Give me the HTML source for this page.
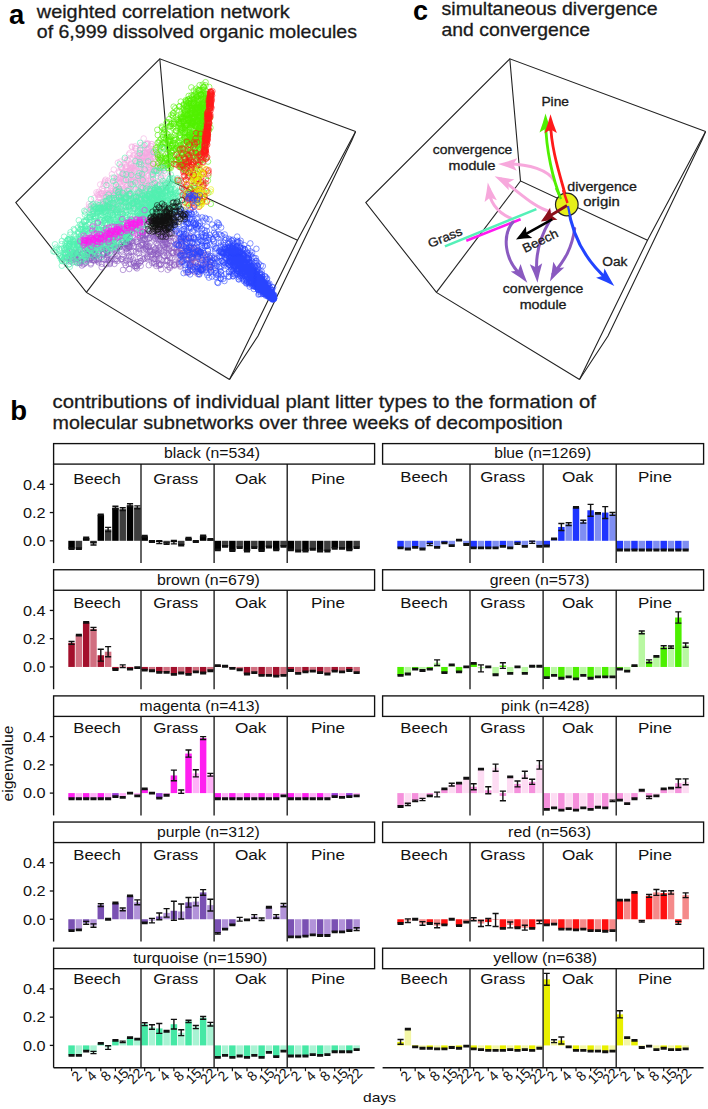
<!DOCTYPE html>
<html><head><meta charset="utf-8"><style>
html,body{margin:0;padding:0;background:#fff;width:708px;height:1109px;overflow:hidden;}
svg{display:block;font-family:"Liberation Sans", sans-serif;}
</style></head><body>
<svg width="708" height="1109" viewBox="0 0 708 1109" font-family='"Liberation Sans", sans-serif'>
<rect width="708" height="1109" fill="#fff"/>
<polyline points="229.5,379.5 86.4,292.4 15.8,202.6 159.8,58.8 355.6,131.6" fill="none" stroke="#222" stroke-width="1.1"/>
<polyline points="159.8,58.8 170.5,181.0 297.5,240.2" fill="none" stroke="#222" stroke-width="1.1"/>
<polyline points="170.5,181.0 86.4,292.4" fill="none" stroke="#222" stroke-width="1.1"/>
<polyline points="355.6,131.6 297.5,240.2 229.5,379.5" fill="none" stroke="#222" stroke-width="1.1"/>
<polyline points="355.6,131.6 352.0,140.0 258.0,336.0 229.5,379.5" fill="none" stroke="#222" stroke-width="1.1"/>
<defs>
<marker id="k0" markerWidth="8" markerHeight="8" refX="4" refY="4" markerUnits="userSpaceOnUse" orient="0" overflow="visible"><circle cx="4" cy="4" r="2.8" fill="none" stroke="#f5a8e0" stroke-width="0.8" stroke-opacity="0.7"/></marker>
<marker id="k1" markerWidth="8" markerHeight="8" refX="4" refY="4" markerUnits="userSpaceOnUse" orient="0" overflow="visible"><circle cx="4" cy="4" r="2.8" fill="none" stroke="#8a5ac0" stroke-width="0.8" stroke-opacity="0.7"/></marker>
<marker id="k2" markerWidth="8" markerHeight="8" refX="4" refY="4" markerUnits="userSpaceOnUse" orient="0" overflow="visible"><circle cx="4" cy="4" r="2.8" fill="none" stroke="#50f0b0" stroke-width="0.8" stroke-opacity="0.7"/></marker>
<marker id="k3" markerWidth="8" markerHeight="8" refX="4" refY="4" markerUnits="userSpaceOnUse" orient="0" overflow="visible"><circle cx="4" cy="4" r="2.8" fill="none" stroke="#2a44ff" stroke-width="0.8" stroke-opacity="0.7"/></marker>
<marker id="k4" markerWidth="8" markerHeight="8" refX="4" refY="4" markerUnits="userSpaceOnUse" orient="0" overflow="visible"><circle cx="4" cy="4" r="2.8" fill="none" stroke="#50f000" stroke-width="0.8" stroke-opacity="0.7"/></marker>
<marker id="k5" markerWidth="8" markerHeight="8" refX="4" refY="4" markerUnits="userSpaceOnUse" orient="0" overflow="visible"><circle cx="4" cy="4" r="2.8" fill="none" stroke="#ff1a1a" stroke-width="0.8" stroke-opacity="0.7"/></marker>
<marker id="k6" markerWidth="8" markerHeight="8" refX="4" refY="4" markerUnits="userSpaceOnUse" orient="0" overflow="visible"><circle cx="4" cy="4" r="2.8" fill="none" stroke="#e8f000" stroke-width="0.8" stroke-opacity="0.7"/></marker>
<marker id="k7" markerWidth="8" markerHeight="8" refX="4" refY="4" markerUnits="userSpaceOnUse" orient="0" overflow="visible"><circle cx="4" cy="4" r="2.8" fill="none" stroke="#ff1af0" stroke-width="0.8" stroke-opacity="0.7"/></marker>
<marker id="k8" markerWidth="8" markerHeight="8" refX="4" refY="4" markerUnits="userSpaceOnUse" orient="0" overflow="visible"><circle cx="4" cy="4" r="2.8" fill="none" stroke="#101010" stroke-width="0.8" stroke-opacity="0.7"/></marker>
</defs>
<path d="M124.7 179.5 127.8 185.4 138.2 198.5 147.9 143.3 138.6 185.1 117.7 200.4 124.0 188.6 152.5 192.9 148.7 167.4 161.3 174.1 150.2 161.3 147.2 152.6 103.7 195.6 110.9 206.3 160.4 191.0 147.5 165.3 103.5 185.7 158.3 173.1 104.2 206.2 89.4 213.2 104.8 198.3 101.7 192.9 129.2 200.2 161.4 155.7 118.6 203.8 141.7 183.0 120.6 201.6 146.5 185.6 118.3 186.7 121.5 194.7 133.0 166.4 143.9 165.3 124.8 202.6 137.6 172.6 110.5 190.6 153.5 189.7 113.0 190.8 154.5 167.2 134.2 180.4 165.1 173.4 141.1 185.6 152.9 158.5 133.8 170.0 139.2 155.4 142.8 156.0 138.6 175.2 118.4 196.6 162.5 194.3 133.7 207.9 160.6 172.5 141.3 196.0 109.9 204.1 126.6 202.1 156.8 167.1 129.4 195.6 151.2 144.1 113.7 198.0 129.4 189.1 162.7 175.6 107.3 190.4 152.6 183.0 105.6 200.8 129.0 154.6 159.9 180.3 130.7 175.0 134.6 168.9 125.4 166.8 138.8 166.6 126.6 173.8 139.1 175.8 154.3 153.0 156.0 168.6 157.3 154.5 152.9 169.7 119.9 189.8 122.7 194.8 128.9 177.0 86.8 209.6 126.9 171.3 143.2 203.4 145.7 171.2 140.6 200.3 138.5 176.3 106.5 201.4 155.3 166.7 141.8 192.9 142.3 148.4 137.8 191.3 137.5 162.2 132.2 168.7 142.6 195.0 135.1 196.0 103.2 204.4 147.3 144.0 91.1 209.4 158.3 170.3 137.6 184.7 94.4 198.0 151.9 144.1 89.3 206.5 127.4 204.8 132.3 147.2 119.6 189.0 133.1 167.8 148.7 161.4 147.5 186.9 137.8 179.2 146.3 161.5 134.9 148.0 128.1 187.8 146.7 201.1 150.9 183.6 146.5 161.0 111.9 174.3 124.4 170.1 130.3 173.5 148.9 150.0 143.7 191.6 113.8 193.5 147.9 178.5 159.8 170.1 118.7 171.5 151.4 176.6 101.6 193.5 133.1 180.5 146.1 144.3 96.4 192.4 99.4 194.8 124.8 175.3 160.9 166.9 128.8 188.9 111.4 210.6 150.6 154.8 133.9 205.8 103.4 190.9 98.6 197.7 151.0 180.3 153.1 163.4 90.8 205.9 127.0 185.1 141.4 158.1 114.9 194.2 150.4 171.7 102.7 195.7 140.5 148.2 163.8 181.0 150.1 170.1 149.2 155.0 97.8 202.1 121.0 194.7 154.8 187.6 140.3 156.8 148.4 154.3 115.4 181.5 117.3 190.0 147.5 163.3 144.4 163.6 141.3 193.6 154.5 184.0 156.0 171.1 145.7 200.8 122.4 190.2 141.0 184.5 115.3 188.7 128.3 193.9 101.3 193.6 116.7 179.6 145.2 206.0 137.8 156.0 129.4 195.5 119.7 178.6 93.8 204.3 137.4 155.6 154.7 187.0 109.3 207.9 151.5 153.9 136.7 159.2 116.7 182.6 129.6 153.1 131.0 164.0 143.0 150.4 120.9 167.5 138.6 195.1 113.8 169.6 123.1 180.5 144.6 181.3 129.9 170.4 127.2 160.3 135.3 204.7 98.8 191.8 110.9 205.5 151.5 166.4 102.4 203.9 148.2 160.3 141.1 145.0 143.6 156.6 136.6 199.8 157.0 185.0 159.5 191.9 120.5 178.4 134.0 165.7 145.9 161.6 101.6 204.6 118.6 198.1 128.2 189.6 143.8 177.5 142.2 177.5 146.9 151.6 122.2 191.6 129.2 189.5 120.4 176.8 89.0 204.1 150.6 159.6 135.4 181.6 154.9 197.8 126.6 194.9 124.2 194.3 155.6 152.4 147.3 195.0 124.5 159.5 135.9 148.4 157.3 181.1 114.2 203.8 154.3 156.2 141.2 167.2 117.0 204.6 161.3 162.6 90.7 207.5 142.0 155.8 106.4 193.0 154.7 159.3 133.4 198.1 100.2 184.5 154.7 156.9 122.5 169.8 112.0 177.7 120.0 177.9 141.9 179.8 132.0 176.0 157.1 184.9 119.0 180.4 134.0 186.5 109.9 198.2 143.5 157.7 122.1 186.1 133.1 199.6 112.2 207.6 146.2 188.7 123.9 182.5 146.1 180.8 150.4 179.4 149.3 167.0 141.1 167.9 130.5 167.5 154.2 199.6 139.7 157.8 139.3 168.9 110.1 192.9 127.9 176.8 137.9 195.0 142.0 178.4 159.4 158.9 136.4 163.3 158.8 163.7 99.6 202.8 153.5 170.2 137.5 191.1 121.2 198.7 113.6 197.3 129.3 194.6 119.9 194.2 161.5 167.7 130.3 158.7 136.2 201.2 160.3 165.1 145.2 152.9 141.5 154.4 100.6 207.3 120.9 211.9 141.9 157.3 162.8 166.0 135.7 166.5 137.5 201.3 130.0 184.4 139.9 170.9 133.4 181.6 133.4 170.9 144.4 155.7 123.5 208.0 157.6 185.3 150.7 177.3 155.6 196.1 123.4 177.8 111.2 188.1 149.2 180.3 149.2 194.1 149.0 152.6 113.1 197.7 157.3 196.2 133.3 158.5 142.4 175.0 160.2 185.6 144.0 169.0 117.7 200.7 124.3 211.1 107.7 207.7 142.4 172.3 144.6 184.0 120.2 212.5 138.6 159.1 155.6 160.0 137.6 182.9 114.8 190.3 121.4 167.2 146.4 182.7 167.1 165.9 119.6 195.0 147.1 150.1 135.7 198.2 146.5 198.0 132.2 181.7 127.3 160.0 131.3 172.7 157.0 151.4 122.7 179.6 97.9 195.2 107.0 205.8 93.6 208.8 141.4 202.9 124.4 206.5 143.4 161.3 121.7 167.6 130.0 170.5 148.5 175.7 113.8 185.0 133.6 185.5 128.3 194.9 151.3 169.3 115.0 193.0 150.6 168.5 153.0 188.1 129.8 206.4 141.9 164.2 148.5 169.8 123.4 173.5 148.3 149.2 140.3 180.7 105.6 206.6 132.5 204.1 117.9 162.7 122.2 192.8 130.8 180.0 150.9 165.0 141.5 161.6 136.3 161.1 113.0 193.3 157.0 173.5 144.6 152.8 130.7 181.4 150.8 146.2 135.1 146.3 144.9 165.6 109.0 200.0 128.5 160.8 159.0 148.6 134.4 176.5 153.6 161.4 115.3 199.6 118.4 191.7 132.0 171.8 94.3 207.0 142.5 146.4 153.4 196.6 126.5 166.2 141.4 170.7 128.1 180.0 119.2 188.3 130.6 187.4 149.1 189.5 147.5 198.4 151.5 171.9 104.8 182.2 140.5 178.4 149.0 168.3 107.1 204.9 144.9 185.8 146.8 200.3 128.9 194.3 108.1 201.9 115.8 210.2 159.2 191.7 109.3 208.4 129.5 178.3 113.4 193.7 133.3 155.4 124.4 181.5 101.8 208.0 148.4 169.9 100.0 193.8 99.9 197.8 132.1 167.8 154.0 183.8 124.4 163.7 149.4 152.1 142.6 157.0 164.9 163.3 108.1 180.8 130.1 167.9 105.6 179.7 126.5 186.2 152.1 153.7 103.7 205.0 124.0 179.9 126.8 167.0 158.3 197.3 139.7 193.2 150.9 151.6 108.5 206.7 109.2 193.7 164.0 188.2 157.2 166.6 135.7 149.0 156.5 190.6 135.4 177.5 147.2 153.7 140.8 179.5 114.2 205.7 166.4 184.0 132.7 176.7 128.8 172.7 117.8 177.3 119.4 172.7 120.9 186.5 149.9 156.6 149.1 147.6 107.5 189.9 146.6 184.3 143.4 174.0 128.9 195.9 144.3 185.8 122.1 189.3 101.1 202.3 117.7 208.4 140.9 174.8 120.4 161.6 107.6 196.7 152.6 177.0 118.0 186.6 135.1 189.9 97.3 194.0 115.9 191.8 146.0 158.3 104.8 207.0 116.3 178.8 145.7 186.0 132.3 179.5 147.6 158.0 105.1 180.8 156.4 192.5 126.9 172.3 116.1 195.8 142.5 187.9 117.2 189.4 149.3 196.4 143.7 138.5 102.2 188.8 154.1 156.9 118.2 197.2 96.6 211.7 123.7 197.9 146.3 152.9 108.0 193.1 130.1 182.8 110.2 208.0 138.1 192.9 107.7 182.7 110.7 184.2 151.5 174.1 154.3 192.0 139.3 177.8 123.3 173.7 149.3 186.6 140.6 187.4 123.4 175.0 161.5 179.4 155.9 177.6 131.7 146.6 118.1 193.3 158.6 191.5 126.4 163.3 142.3 158.1 111.6 208.6 138.5 155.9 151.0 146.0 150.0 151.5 131.9 166.5 136.6 154.4 160.9 189.5 157.3 190.3 135.6 165.3 117.3 178.9 163.9 168.6 134.6 208.6 124.3 194.6 105.6 194.8 120.4 198.1 151.3 193.8 156.8 168.4 154.3 183.4 130.8 170.3 125.9 168.7 135.0 155.0 154.6 184.7 114.0 194.1 144.2 191.3 159.5 199.9 120.1 182.6 136.9 204.2 147.1 143.9 112.8 186.6 142.5 153.1 130.7 165.1 107.4 210.7 139.3 158.0 144.8 172.6 141.5 175.8 147.3 188.1 133.6 200.6 142.1 190.6 129.6 196.2 107.1 193.9 104.1 183.5" fill="none" stroke="none" marker-start="url(#k0)" marker-mid="url(#k0)" marker-end="url(#k0)"/>
<path d="M159.3 258.4 101.9 248.3 133.7 246.2 167.3 236.9 152.2 263.1 198.4 250.7 201.7 263.2 94.1 247.6 84.6 263.5 165.3 246.6 152.6 254.5 99.0 259.5 205.4 259.4 203.1 264.5 88.2 251.0 99.4 254.2 174.4 264.4 167.3 261.0 187.0 248.5 121.8 235.4 78.9 257.6 184.5 250.7 122.4 259.0 116.6 259.0 189.4 259.7 121.1 259.1 79.3 262.9 122.1 236.0 101.7 267.2 116.6 251.3 126.9 239.9 159.0 265.6 185.9 255.4 156.2 242.9 198.0 257.1 76.7 253.7 128.1 234.9 199.4 267.4 133.7 261.7 139.2 246.2 168.6 249.1 127.3 248.1 183.7 239.2 178.3 252.4 139.8 237.6 166.4 234.1 150.9 254.3 192.3 249.0 179.3 264.2 98.1 252.9 126.5 249.0 131.1 256.7 151.1 235.2 208.3 266.1 120.6 244.5 190.9 246.2 97.6 259.6 91.4 238.1 106.6 250.6 185.5 234.6 110.3 244.7 196.4 251.6 109.9 245.7 98.6 262.4 122.5 254.5 162.7 243.2 107.8 241.8 131.0 251.8 179.9 253.1 178.2 246.1 197.5 258.2 139.0 253.3 172.6 252.6 89.8 256.6 135.0 265.9 174.6 265.6 74.3 259.0 199.4 272.0 105.6 259.7 121.7 250.6 209.8 267.3 93.5 239.9 156.9 243.6 94.4 260.3 99.5 233.7 209.3 268.9 174.3 262.4 140.7 261.0 213.2 268.6 190.9 264.6 174.3 265.0 66.1 261.3 164.5 255.7 163.1 228.7 185.6 251.4 166.3 252.8 123.1 240.8 128.8 257.3 153.4 259.4 161.3 225.4 166.4 249.4 158.2 254.1 192.4 255.8 195.2 262.6 122.0 239.3 111.1 248.2 123.0 269.9 92.0 252.3 104.7 249.7 142.6 232.6 185.7 259.4 195.8 261.8 180.7 265.5 83.7 251.1 142.5 239.8 72.6 259.9 106.7 258.7 197.9 274.1 76.8 254.7 176.2 251.8 186.7 250.5 165.0 229.4 110.1 261.5 141.2 245.5 114.4 263.9 152.5 231.5 157.7 255.4 98.1 238.4 133.4 251.4 146.8 233.3 167.6 234.1 176.9 244.4 201.3 269.3 113.3 238.6 161.8 232.2 129.2 269.0 99.4 245.5 145.4 246.2 169.2 240.8 108.3 255.0 186.4 272.3 89.6 260.1 72.5 262.4 80.4 257.9 154.3 252.5 89.0 251.0 160.8 264.8 190.3 263.7 181.0 249.1 214.4 258.2 107.0 257.2 86.9 254.7 188.8 259.1 181.6 254.4 128.6 231.1 195.7 254.6 188.3 251.5 206.3 255.4 149.0 245.7 103.2 253.5 103.8 259.4 149.8 237.9 158.9 241.4 83.4 264.3 208.2 259.2 156.2 256.4 146.0 235.2 174.6 238.5 143.2 249.4 164.0 252.5 85.5 243.8 104.1 253.5 90.8 264.4 105.0 238.1 140.0 233.1 156.0 248.3 133.9 263.0 156.5 250.6 118.6 243.5 172.5 253.1 173.4 252.8 167.2 255.2 172.5 246.7 86.5 252.2 162.6 234.7 160.8 250.7 76.3 252.8 180.5 260.5 148.8 238.7 67.0 257.3 127.3 245.8 158.1 245.0 145.5 247.0 128.6 263.7 126.4 244.6 149.8 252.0 188.8 240.7 113.8 249.4 195.9 252.6 97.5 244.9 93.3 248.2 152.0 233.7 139.9 262.7 153.9 261.7 143.1 237.8 75.5 254.3 181.6 251.1 128.7 247.7 182.4 238.0 82.9 253.8 130.9 263.8 178.6 250.9 164.9 241.9 124.7 262.9 140.1 232.7 121.5 237.6 167.3 244.0 78.0 252.2 174.2 234.1 163.5 229.1 97.9 261.2 137.3 262.2 88.5 250.0 157.8 251.3 196.2 246.9 187.5 259.8 160.7 237.1 155.0 249.4 167.7 269.8 127.7 244.2 178.4 257.8 129.4 246.3 186.1 245.7 105.9 249.0 200.7 269.8 207.8 254.1 91.3 252.1 137.0 268.4 67.6 252.1 173.6 252.5 101.6 249.2 168.5 229.1 90.1 258.8 143.6 240.0 117.0 255.7 138.0 264.3 153.9 262.8 166.3 234.6 119.8 247.1 90.3 248.5 110.0 263.0 199.6 255.1 151.2 232.8 128.6 246.9 84.9 261.4 128.4 246.1 111.7 238.1 108.6 260.6 166.7 232.6 108.2 237.4 181.3 237.4 137.7 238.5 146.6 245.6 149.8 237.6 143.0 259.3 84.8 258.2 77.2 262.6 180.9 253.8 199.3 251.4 163.1 234.1 122.6 260.4 91.1 251.4 163.5 236.7 156.1 254.5 121.3 245.2 129.9 238.8 193.4 249.9 153.6 249.9 186.9 252.0 191.7 262.9 88.4 251.2 103.2 237.0 160.7 264.1 130.0 246.9 133.1 259.5 72.6 257.6 81.9 265.5 159.3 257.7 176.6 233.6 192.6 257.4 189.5 264.3 89.0 242.2 86.8 259.1 209.5 268.5 177.3 253.5 129.8 244.7 147.5 259.1 164.4 249.7 115.4 260.4 70.6 258.7 103.7 253.3 157.4 253.8 142.2 243.1 132.7 242.6 104.0 259.5 92.8 250.3 211.6 265.2 158.3 234.8 165.6 243.3 143.0 244.1 181.5 248.2 139.9 258.0 114.7 259.0 80.4 261.5 143.7 229.2 180.3 255.9 128.9 240.8 93.4 253.5 114.7 232.0 156.3 266.0 156.6 237.0 142.6 233.4 142.4 236.5 171.0 228.1 87.7 240.3 146.8 258.2 158.2 239.4 195.9 262.9 106.8 252.7 146.7 239.6 75.2 256.8 118.9 242.7 140.3 236.0 135.9 267.4 180.9 241.5 91.5 249.5 101.7 247.2 199.6 256.8 150.0 256.8 89.6 254.2 91.0 258.2 131.3 226.8 73.4 253.5 144.4 250.5 126.3 260.7 187.7 272.4 193.6 257.8 155.4 263.9 201.6 263.4 161.7 260.2 149.9 243.4 169.0 266.8 148.8 265.2 178.9 263.6 75.9 256.4 91.6 245.6 164.0 233.5 174.7 233.3 125.9 243.9 78.2 259.3 158.9 252.4 85.8 249.3 96.1 259.7 107.1 252.9 170.6 232.4 142.6 234.9 147.3 256.4 115.4 235.0 125.8 265.2 100.9 245.4 130.9 241.6 94.1 254.4 104.3 232.9 86.0 241.9 190.3 266.8 115.8 247.4 96.4 246.7 79.6 249.6 181.1 243.1 162.2 239.2 157.4 235.8 183.5 260.9 177.0 252.5 198.7 268.6 88.5 244.4 209.3 264.9 102.0 263.8 129.1 255.8 140.7 265.8 106.0 264.4 147.4 231.0 180.7 259.4 111.1 258.8 72.0 252.0 180.1 262.4 166.6 261.3 91.0 249.2 205.3 265.8 128.6 253.3 121.7 240.5 159.5 248.0 164.3 255.6 182.2 244.5 109.9 264.0 171.0 241.1 156.0 235.5 158.6 249.6 94.0 257.1 76.5 253.2 204.6 255.2 95.3 253.5 134.5 266.1 183.8 237.8 157.7 234.9 122.8 240.5 166.7 248.0 104.6 244.9 181.5 256.4 115.1 250.4 90.3 255.9 190.6 236.5 200.0 267.3 164.2 244.5 174.3 248.0 96.5 259.4 111.7 245.3 184.8 256.6 107.0 242.1 144.4 258.5 166.7 265.1 67.2 258.3 192.9 263.3 165.6 260.6 171.6 251.4 126.3 236.7 110.4 255.1 190.6 249.6 175.9 240.4 123.2 247.4 125.3 248.0 206.8 262.5 137.3 253.4 85.9 255.2 179.2 238.7 180.4 266.6 116.3 249.2 145.1 238.9 138.4 246.5 168.5 255.6 96.2 255.2 207.4 259.4 80.1 263.2 153.4 237.5 129.8 240.9 129.4 241.5 190.5 262.8 102.1 237.1 182.2 251.0 203.1 270.3 165.5 241.6 164.3 246.6 195.2 252.2 162.1 232.2 160.6 237.3 107.2 250.7 158.9 263.9 161.8 231.7 81.0 257.1 152.1 251.5 155.6 259.1 187.8 248.2 168.2 238.0 138.6 248.8 99.0 258.3 129.8 259.9 81.0 260.6 115.9 253.2 135.8 251.9 150.1 251.1 127.0 251.4 107.3 251.8 124.1 232.9 194.8 272.1 166.7 243.8 123.0 256.8 190.0 264.2 144.9 230.2 136.0 241.5 146.4 243.9 104.7 239.1 127.7 243.6 101.7 241.2 156.4 227.8 171.7 265.4 149.9 249.9 198.7 253.4 94.8 253.2 112.4 246.2 159.8 229.1 143.5 252.6 201.5 252.1 195.1 262.5 157.3 230.9 156.0 239.1 191.1 237.6 148.4 246.4 141.9 244.9 132.2 241.0 70.7 260.9 108.5 239.6 173.4 241.3 165.8 238.0 136.3 239.5 151.2 251.5 192.1 271.0 140.8 261.2 162.4 240.0 171.7 258.4 93.7 260.4 145.0 234.1 203.6 260.4 102.7 254.1 169.7 237.6 123.2 233.0 185.1 240.3 88.0 253.0 162.3 228.6 165.2 231.5 137.2 241.8 154.3 259.1 144.6 239.4 181.2 241.8 115.0 237.6 167.8 260.3 177.7 243.2 102.8 245.6 184.0 255.3 163.0 245.1 191.3 257.7 161.1 269.2 168.8 247.7 80.4 250.0 114.7 241.2 101.4 237.5 169.8 258.2 160.2 239.2 145.7 248.6 108.8 241.8 193.9 248.3 201.7 267.4 167.4 232.7 178.7 244.9 88.9 258.3 105.8 237.7 93.6 246.3 143.4 235.9 176.6 247.2 91.3 252.6 136.6 265.8 169.9 262.7 107.7 250.1 192.7 269.7 146.5 249.8 212.4 260.1 113.2 244.1 119.3 247.1 95.7 250.4 92.3 260.1 205.9 264.0 170.1 245.8 191.5 259.5 89.6 244.9 169.9 267.8 108.7 232.9 136.6 266.0 202.9 256.9 136.2 247.4 207.3 260.4 195.0 248.1 189.2 237.6 147.7 257.1 164.8 239.8 87.9 248.8 91.5 243.9 157.4 236.2 174.7 259.4 103.1 252.1 84.8 259.8 117.4 261.0 153.1 236.2 85.7 262.6 190.6 256.9 188.3 271.8 112.4 240.3 90.8 263.2 148.0 247.1 132.0 232.5 134.3 263.4 166.1 239.5 160.1 264.6 190.3 247.2 86.7 247.9" fill="none" stroke="none" marker-start="url(#k1)" marker-mid="url(#k1)" marker-end="url(#k1)"/>
<path d="M87.2 217.5 145.9 223.7 121.7 200.6 148.4 196.0 82.6 245.1 94.0 237.6 77.3 263.2 168.2 206.4 127.9 231.7 73.9 244.1 180.7 191.6 112.3 223.5 82.9 242.3 85.4 229.0 102.4 239.8 84.3 210.9 80.4 244.6 78.4 231.9 119.8 206.7 168.8 210.1 148.3 185.7 103.8 221.2 106.3 212.3 101.0 245.6 75.9 249.5 81.2 260.6 115.7 220.1 68.8 261.0 124.6 199.6 60.5 256.3 75.4 261.9 116.3 212.5 117.6 213.3 128.9 191.3 90.6 248.1 148.6 220.9 119.6 202.8 120.5 219.4 94.1 251.4 61.9 241.0 77.1 245.8 105.7 247.1 171.7 207.3 104.6 211.4 124.6 234.5 165.8 192.7 84.1 221.0 111.8 233.9 144.8 210.0 125.2 196.6 95.4 216.3 85.4 239.8 93.9 212.5 126.2 201.9 114.3 221.7 69.8 240.6 119.1 220.5 179.6 196.1 137.4 204.4 177.3 178.3 172.8 209.5 81.5 235.1 140.9 232.4 110.0 214.6 61.4 257.6 121.7 230.4 79.7 236.7 139.9 220.1 154.4 190.2 172.6 179.6 134.2 228.4 133.2 202.4 109.3 216.2 110.8 243.6 100.6 219.5 145.0 196.9 136.2 196.5 159.2 213.5 137.2 219.0 79.5 245.5 120.3 221.5 80.0 224.5 67.9 239.6 117.4 219.7 143.8 210.0 126.0 236.1 112.8 213.5 150.4 216.4 143.7 224.3 75.2 250.6 156.2 194.7 158.6 212.8 78.0 227.5 128.1 222.0 129.0 229.2 171.5 210.7 116.4 233.3 152.1 198.3 130.0 221.8 121.7 242.8 153.7 199.6 116.0 228.6 120.8 213.9 96.1 229.9 168.4 207.8 127.4 238.7 85.1 255.5 150.2 210.3 64.5 257.6 165.2 202.7 147.1 194.3 175.1 199.1 161.7 193.6 119.5 228.9 152.8 196.2 115.0 200.1 125.9 198.4 152.9 214.6 106.7 238.6 136.3 197.0 155.0 206.2 88.1 247.0 127.7 200.5 89.9 249.7 112.7 226.6 69.1 264.4 132.5 202.5 170.5 181.6 82.1 227.0 155.4 194.7 169.9 190.4 154.1 190.7 64.1 248.2 113.1 218.6 111.9 236.9 151.0 198.1 83.5 233.5 108.0 218.9 65.2 249.9 97.7 244.9 137.7 226.9 85.4 212.3 178.9 205.1 97.3 211.8 122.9 224.5 119.1 224.6 113.9 195.5 165.0 216.0 104.5 208.0 111.8 228.1 94.8 253.7 118.1 224.2 151.9 199.4 168.1 200.4 90.5 219.9 119.9 208.7 163.7 213.9 152.7 223.6 99.0 229.9 85.6 230.1 129.3 205.4 78.0 261.2 109.7 232.1 131.1 226.7 142.9 218.6 158.2 211.9 112.4 214.8 74.6 230.2 162.7 198.8 102.3 234.9 158.8 191.1 138.2 221.5 91.1 250.4 110.9 212.2 172.9 197.2 121.2 235.8 141.8 193.4 94.2 232.8 93.0 204.2 115.5 223.9 122.9 193.2 112.0 243.8 80.5 242.2 118.0 206.2 114.8 246.4 133.5 209.0 171.2 202.3 155.3 202.3 130.2 215.9 93.4 210.3 123.3 232.6 170.8 188.5 76.4 239.5 166.3 187.2 102.3 232.7 150.2 190.9 150.6 191.4 84.7 231.3 124.3 221.4 160.7 191.2 96.3 244.6 100.0 242.3 108.6 206.6 169.4 179.0 160.4 214.2 138.1 215.5 89.8 218.2 112.8 231.0 123.1 214.1 78.8 220.3 83.2 228.8 149.9 213.4 144.5 216.0 121.4 200.1 115.2 245.9 81.4 255.2 123.6 195.8 134.8 229.2 117.0 223.8 72.5 253.3 154.0 212.9 90.5 216.9 103.4 217.3 129.4 228.8 127.8 223.2 109.8 240.2 169.2 180.8 66.5 254.2 96.8 208.1 137.3 200.7 127.4 230.8 137.5 227.6 101.0 237.9 94.5 228.4 87.0 230.9 73.6 245.0 123.8 240.5 118.9 226.7 160.6 201.3 90.9 243.8 106.4 249.5 138.7 198.1 121.9 226.7 116.2 210.2 152.9 193.2 70.0 256.0 97.9 209.2 121.0 196.8 65.6 252.3 175.9 207.8 69.2 238.7 105.1 242.8 165.4 191.9 102.0 237.1 138.2 229.8 109.0 236.1 64.5 261.0 103.4 212.8 64.6 249.7 94.2 206.0 110.1 203.8 129.8 193.8 98.5 208.6 113.3 215.2 101.5 220.3 132.7 216.1 81.7 229.1 95.5 245.7 150.7 213.2 109.7 232.0 155.7 215.5 96.6 233.3 154.3 203.6 155.3 216.3 81.4 238.7 171.0 190.1 151.4 216.7 69.9 243.8 116.3 197.8 142.4 224.1 101.7 208.9 83.8 221.8 160.3 204.7 175.6 209.0 159.3 190.6 176.6 205.3 120.2 227.6 109.4 204.3 113.8 198.4 182.0 200.2 66.3 249.4 81.7 242.7 105.4 214.6 81.2 225.9 105.9 200.8 159.9 202.6 169.8 193.9 82.2 255.9 171.5 209.3 129.9 200.4 122.4 192.5 72.7 259.1 148.9 210.1 127.1 237.5 72.7 247.1 124.2 233.1 153.4 197.6 131.5 224.7 112.7 215.2 86.0 220.7 86.4 256.6 155.2 209.2 156.9 200.6 93.8 250.5 130.7 232.1 163.4 210.3 133.6 203.6 141.1 229.3 139.7 198.6 142.3 217.5 161.1 195.1 178.9 180.4 157.1 187.2 65.5 259.4 112.3 234.7 102.9 223.1 99.0 250.0 131.4 201.0 171.3 213.2 78.1 245.2 130.4 232.4 82.0 245.4 129.2 194.0 69.7 246.0 93.0 240.8 61.8 265.7 158.7 195.6 129.9 231.0 167.3 200.5 113.4 242.9 129.1 220.3 125.5 227.8 170.3 208.1 151.6 208.2 84.0 253.9 120.7 201.1 174.7 193.9 183.3 194.6 108.7 234.2 93.7 251.4 95.2 230.6 111.2 240.1 85.6 245.8 92.7 228.9 98.9 244.9 62.1 261.1 77.1 244.8 172.7 194.1 88.4 251.6 152.4 194.2 155.2 218.4 102.4 215.2 109.3 198.3 92.4 225.6 100.9 214.7 89.1 217.2 176.6 203.3 155.2 202.8 144.0 193.2 117.7 238.3 64.6 252.9 154.5 199.6 91.1 242.7 93.5 219.0 116.3 207.0 54.7 251.6 138.9 221.4 117.2 241.9 97.7 229.6 149.9 216.4 97.6 213.2 108.8 246.4 149.5 198.0 98.0 234.5 130.0 210.5 101.1 243.4 167.1 189.5 102.9 202.3 115.0 212.2 68.0 239.5 81.1 235.0 119.1 233.9 66.1 253.2 136.6 225.9 133.8 198.5 77.7 233.5 120.5 226.9 122.7 218.5 141.5 219.0 176.2 196.0 100.9 209.0 88.8 233.0 109.7 252.9 172.8 178.3 154.3 198.2 93.4 232.7 98.9 230.7 93.6 224.7 118.5 191.7 153.9 206.0 142.2 217.6 64.1 236.7 105.7 230.2 93.0 216.4 108.2 208.8 107.1 235.3 118.1 241.2 91.1 239.9 116.6 203.8 139.5 214.1 99.4 229.3 94.6 207.3 118.3 229.4 110.4 219.6 173.5 192.4 55.0 244.3 105.3 240.2 87.6 234.5 185.8 188.1 119.5 212.4 99.8 204.9 68.5 243.9 74.2 235.5 106.7 222.4 118.1 209.4 131.5 219.5 172.7 211.0 145.7 219.3 163.7 214.0 172.9 196.9 152.9 200.7 150.9 203.2 126.0 206.2 136.7 229.3 109.3 220.2 71.5 253.5 85.7 230.8 179.0 180.6 95.7 218.1 167.2 215.6 56.6 249.9 124.2 241.5 128.5 209.7 87.1 254.2 70.6 251.7 89.6 224.7 141.1 215.9 157.1 215.6 104.4 230.2 110.0 220.5 106.5 207.2 117.8 248.4 119.8 227.9 64.9 253.9 94.8 226.7 142.3 208.5 64.5 258.6 141.1 204.1 155.1 204.9 65.2 243.3 145.1 195.0 128.8 207.0 137.0 201.3 158.3 206.9 167.3 216.4 127.4 230.7 118.0 226.7 68.5 240.5 152.7 210.2 121.5 208.7 108.2 235.9 156.0 205.8 151.1 198.6 134.7 226.9 109.8 221.7 74.0 254.2 112.7 204.7 126.7 228.9 150.6 209.7 146.0 229.0 177.0 202.3 139.7 221.4 186.3 196.2 76.1 251.6 167.7 198.7 70.1 238.8 104.2 220.5 162.5 215.6 107.2 205.9 108.8 207.6 127.2 237.5 138.9 206.0 69.1 264.2 183.7 195.6 119.9 214.5 152.0 204.2 118.7 217.3 129.0 203.0 140.3 227.5 80.7 240.3 113.0 215.0 86.2 226.0 99.3 236.3 167.1 219.1 122.9 214.1 70.2 234.7 121.3 206.4 90.2 228.3 101.7 225.1 69.8 250.7 131.1 229.2 97.4 220.9 147.9 212.0 61.6 244.1 68.8 255.2 99.8 207.9 101.2 229.9 90.5 209.6 178.4 191.0 107.0 250.1 113.7 241.2 143.5 207.2 88.3 223.8 165.3 215.3 97.7 207.3 126.7 197.3 79.7 250.5 91.7 255.0 158.5 195.8 106.8 244.8 85.0 225.4 174.0 206.2 94.5 221.2 111.9 199.9 124.6 227.0 94.6 219.1 166.5 193.0 93.2 207.4 121.7 243.1 105.2 209.8 111.5 212.9 60.8 258.6 97.2 222.8 167.1 210.1 107.2 218.3 106.3 197.1 65.4 254.9 109.3 198.6 78.1 243.7 166.9 208.3 117.8 230.2 133.6 222.0 105.6 229.5 97.9 211.3 157.4 200.3 73.7 255.5 161.7 196.0 177.5 201.6 110.0 246.9 77.0 242.3 73.4 242.3 101.6 226.6 172.5 201.1 96.7 213.5 117.4 209.7 107.6 204.1 74.3 261.6 150.6 195.1 180.3 187.4 106.8 228.5 131.4 200.2 79.5 245.2 172.6 184.3 106.0 240.2 170.3 194.1 114.0 203.7 169.4 204.7 126.1 199.3 80.3 229.6 148.2 208.7 161.6 218.9 180.3 208.8 122.2 213.8 105.8 238.9 161.5 215.8 110.1 240.7 89.9 217.0 164.8 210.1 131.5 221.4 117.1 234.1 79.3 252.9 126.4 218.1 170.2 178.3 114.0 197.9 81.8 224.5 150.5 202.6 74.4 245.6 170.0 188.4 154.1 210.0 95.0 228.2 162.9 193.2 131.3 206.2 161.2 200.9 126.3 197.5 133.7 220.9 161.3 191.1 92.6 211.3 111.4 238.4 100.9 248.7 90.4 242.3 93.0 214.0 157.2 195.0 125.1 202.3 111.4 239.3 100.2 210.8 75.2 253.1 151.9 203.6 167.3 187.2 99.2 207.9 69.8 266.8 117.4 221.7 90.7 240.9 126.0 212.1 92.3 230.5 99.5 211.1 144.8 194.6 165.3 201.6 108.3 219.2 104.9 223.3 159.8 216.1 112.9 202.6 181.7 200.5 75.5 241.2 107.1 218.6 86.6 234.9 126.5 210.3 142.4 195.5 154.3 210.5 137.3 222.8 124.7 202.4 165.4 215.1 118.6 235.3 107.3 242.0 72.1 245.3 170.7 193.7 117.3 224.1 174.5 191.4 106.6 216.1 123.7 221.8 99.1 226.8 122.7 234.3 114.6 237.3 102.6 230.3 141.8 203.5 123.3 205.7 69.2 259.0 68.6 258.0 84.7 256.0 124.0 225.4 59.4 250.2 108.6 219.3 155.9 212.1 73.0 241.1 132.6 225.1 70.6 257.2 141.2 215.8 128.1 219.6 63.1 255.0 95.2 216.7 101.0 207.8 124.3 198.5 99.6 239.0 124.8 217.7 143.0 219.6 88.7 248.7 101.1 257.3 147.4 200.8 70.5 254.1 90.3 215.1 84.6 236.2 95.2 247.7 138.4 225.8 66.8 248.3 173.1 194.8 154.4 207.8 53.4 251.3 110.9 220.4 69.0 249.9 112.8 235.1 170.6 202.7 132.7 233.1 111.6 243.9 174.8 190.0 134.2 207.7 176.8 207.2 56.2 247.6 111.8 247.4 185.6 194.0 128.8 206.5 158.1 210.7 115.0 213.9 114.8 229.6 100.2 220.2 81.2 238.4 130.7 215.2 165.1 182.8 157.0 213.6 159.3 190.8 80.9 255.3 82.7 258.8 127.5 190.8 165.9 189.3 179.0 198.8 133.3 198.5 166.5 202.8 85.0 221.9 171.1 200.6 101.4 210.9 85.5 258.2 102.0 253.0 124.1 234.5 101.3 244.0 158.9 215.7 68.5 246.1 105.1 211.9 165.8 184.9 120.9 226.7 171.7 206.6 140.2 193.9 73.9 252.1 176.9 201.9 106.9 240.3 127.9 235.6 170.0 205.0 130.8 193.4 144.7 216.8 119.5 190.9 113.9 231.1 69.0 255.7 94.4 256.8 126.4 216.9 165.9 186.4 108.3 210.4 179.3 210.3 125.9 203.5 125.9 241.9 89.3 232.5 70.9 242.0 87.9 243.9 105.1 205.7 62.2 257.3 86.7 220.3 106.4 210.8 65.9 246.7 152.2 193.1 129.7 193.5 77.5 243.9 176.6 192.7 103.5 240.8 74.8 252.7 151.3 216.5 67.1 243.5 96.6 248.0 129.2 236.7 106.6 230.0 77.5 257.6 143.4 220.7 154.8 192.4 66.0 245.9 139.2 191.5 170.6 202.7 118.9 188.8 143.0 208.6 68.8 246.1 100.5 221.9 99.6 212.2 118.6 200.8 116.8 240.4 100.1 241.0 133.2 206.3 130.5 231.0 104.8 208.5 107.5 230.3 169.4 196.7 117.8 226.9 77.6 253.3 97.1 247.1 115.5 226.0 114.2 209.6 164.7 184.6 98.5 241.0 137.4 222.7 95.6 209.6 138.0 211.0 105.8 244.6 129.4 237.5 90.6 250.6 135.2 227.7 166.5 209.1 116.6 212.1 111.9 198.2 147.4 195.9 87.8 231.1 100.5 238.4 99.9 211.8 171.6 181.2 166.4 211.2 162.9 205.2 148.5 203.6 153.8 221.7 90.3 249.3 60.3 255.4 91.8 214.2 111.9 208.2 74.2 247.6 84.9 256.7 121.9 200.7 165.9 190.1 149.9 196.5 182.5 186.4 87.1 229.2 79.3 246.9 107.5 218.2 135.2 208.8 59.3 248.9 97.9 236.9 74.3 241.8 116.1 235.1 167.5 190.9 78.1 246.3 179.8 191.9 134.1 196.5 72.3 239.5 174.0 184.1 122.3 210.4 163.1 216.6 117.6 214.7 84.9 214.7 136.1 197.8 167.9 200.4 134.9 201.7 125.9 234.2 107.0 242.7 107.9 230.5 168.3 186.4 107.5 206.9 96.3 218.3 134.4 216.9 107.1 240.2 142.6 218.7 126.2 226.3 84.8 227.5 106.4 236.9 82.7 248.5 126.4 233.5 89.3 247.1 97.9 248.1 132.2 231.3 82.0 241.7 106.7 201.0 148.4 214.3 128.1 206.6 95.1 242.2 137.5 192.4 96.8 238.9 109.9 206.6 70.5 232.3 62.0 260.5 156.1 213.7 157.9 210.6 147.5 204.9 61.9 248.4 73.8 229.1 106.3 229.4 129.3 208.9 80.6 229.1 105.4 219.7 179.0 199.8 80.1 253.7 125.8 238.6 108.1 200.3 173.9 195.7 59.5 256.3 146.0 221.4 144.1 198.6 100.1 240.0 171.7 183.7 99.3 246.4 155.3 187.7 147.1 196.1 89.1 240.0 112.7 206.2 73.6 253.8 129.9 237.0 66.5 241.1 142.6 223.7 71.3 246.9 149.9 208.8 121.3 217.3 74.9 239.2 95.7 208.6 130.7 194.0 108.2 206.8 106.4 224.4 111.1 248.4 97.4 254.9 95.7 241.8 125.6 197.8 154.6 193.9 119.0 197.3 85.6 261.2 159.9 184.3 103.4 209.0 93.9 234.9 105.5 219.5 144.3 213.4 157.5 209.6 164.9 192.5 75.9 236.3 112.5 226.0 110.5 233.4 100.3 238.1 104.1 212.0 102.7 228.0 155.0 220.0 170.1 211.0 152.1 207.1 142.7 215.7 115.2 235.5 104.3 207.5 96.4 204.2 168.1 195.3 133.0 199.8 113.1 203.5 131.7 227.9 87.6 237.8 118.9 222.5 103.5 204.0 84.2 231.3 153.7 199.7 145.4 203.5 79.5 246.3 87.2 253.9 73.9 244.1 88.0 247.7 126.3 210.6 69.8 243.8 70.3 250.5 100.7 213.5 170.8 174.5 77.4 243.0 79.7 238.9 80.3 252.2 103.3 235.5 78.9 233.7 87.0 251.8 153.7 190.3 82.7 232.3 138.3 193.3 101.8 225.6 113.8 206.5 113.9 246.8 148.7 202.0 109.7 222.8 67.9 246.7 86.8 243.6 139.9 208.9 162.8 180.9 170.5 189.7" fill="none" stroke="none" marker-start="url(#k2)" marker-mid="url(#k2)" marker-end="url(#k2)"/>
<path d="M156.6 206.0 145.8 205.1 163.8 215.0 165.0 195.7 162.3 188.8 156.7 211.4 149.1 210.0 159.7 197.1 151.8 185.0 150.4 207.5 139.2 203.2 148.2 207.0 150.3 205.3 116.3 221.1 157.2 204.2 162.3 206.0 171.3 191.9 192.8 185.7 145.8 197.7 154.0 212.6 170.9 197.3 144.7 214.2 134.2 203.1 165.2 191.3 162.9 191.3 149.0 196.5 165.2 208.3 149.4 202.5 133.7 202.9 161.7 193.8 142.2 216.2 149.0 208.2 139.8 214.2 132.6 216.1 151.6 209.3 139.3 211.9 194.7 188.1 126.2 207.1 160.8 195.7 150.2 207.7 152.3 209.7 141.5 215.3 161.7 189.6 138.0 205.8 163.6 185.0 141.6 199.0 155.1 207.7 158.6 192.1 145.5 218.7 153.0 205.1 127.2 215.1 121.0 221.0 155.1 206.5 152.5 211.7 162.0 196.9 163.2 209.9 166.5 183.4 163.4 208.7 156.1 193.1 153.2 203.3 151.7 203.8 136.6 211.4 156.1 208.1 162.6 198.7 151.6 199.0 150.1 205.5 139.8 219.5 147.6 221.1 165.5 196.3 155.6 202.8 145.5 191.6 144.6 198.6 156.7 200.8 141.9 214.1 162.6 197.4 136.8 218.1 164.6 201.0 171.3 186.6 140.9 214.1 140.1 213.2 152.7 210.0 156.3 201.7 140.0 205.0 158.0 202.5 149.2 204.9 147.3 214.4 147.8 213.6 167.4 196.3 149.5 208.4 133.2 203.0 165.6 198.4 154.0 213.3 149.7 194.1 147.6 202.6 158.3 194.8 152.1 210.8 142.5 207.3 162.4 201.2 155.0 200.5 138.0 212.9 158.8 189.3 151.4 208.8 153.2 203.9 162.5 209.8 141.3 206.1 156.6 194.4 151.1 222.9 158.4 190.8 154.2 209.2 166.7 202.2 139.2 206.6 160.7 199.6 144.0 212.9 150.8 197.1 144.7 210.1 159.2 201.4 135.9 197.0 137.1 202.0 145.3 199.2 148.9 194.2 157.6 211.6 144.6 200.0 159.5 215.4 141.4 200.0 163.1 197.3 132.8 209.3 157.1 189.9 146.1 217.4 140.3 199.8 152.9 212.3 136.1 222.0 154.2 206.2 156.4 200.5 129.8 216.3 164.4 214.2 140.3 201.7 154.9 192.7 143.7 202.9 141.6 206.8 143.1 196.0 143.5 213.4 146.0 199.0 146.8 213.2 146.2 188.5 163.5 204.2 147.6 210.6 163.0 217.1 135.7 189.0 152.0 204.7 120.9 220.2 157.8 202.5 145.6 203.0 147.9 211.5 160.9 198.9 141.7 208.5 137.8 211.2 159.2 197.9 151.8 189.3 175.9 193.2 141.4 208.6 137.3 212.4 145.9 218.7 160.0 203.0 142.0 202.5 146.2 218.2 137.1 214.0 145.7 207.6 158.5 206.8" fill="none" stroke="none" marker-start="url(#k2)" marker-mid="url(#k2)" marker-end="url(#k2)"/>
<path d="M172.5 224.9 203.4 220.8 170.8 228.2 176.5 214.5 218.9 225.0 233.1 256.3 183.3 219.3 202.8 242.5 195.9 223.5 190.0 242.4 192.2 256.6 189.7 217.3 201.2 270.0 206.2 267.4 223.2 252.6 187.6 217.6 183.7 246.3 192.1 253.8 235.8 259.0 185.7 238.8 200.0 252.4 237.8 249.4 216.4 261.6 190.1 274.4 204.6 246.0 189.2 247.7 183.1 213.2 206.8 231.0 226.5 251.6 201.7 229.0 186.5 221.9 200.2 226.3 207.2 245.7 186.9 231.4 220.8 242.2 199.0 252.5 218.6 274.1 240.4 265.0 232.6 251.8 192.8 242.1 215.3 251.5 183.8 233.7 175.4 227.0 212.2 224.6 187.6 222.9 197.7 255.8 202.3 260.2 216.3 273.0 193.7 247.9 183.2 229.4 203.9 253.0 198.3 228.8 182.7 252.9 210.2 266.7 212.5 239.1 214.5 262.9 218.5 223.4 211.7 256.5 223.1 262.6 218.1 283.0 196.2 271.1 198.2 264.2 201.7 244.7 199.8 268.1 198.0 268.7 214.4 228.1 178.8 245.2 196.8 243.0 232.9 276.3 186.7 243.3 215.1 235.0 194.4 224.7 210.1 262.1 200.9 252.1 195.0 225.0 198.3 242.0 224.4 281.0 232.9 246.9 215.7 248.0 221.7 252.3 193.7 229.6 192.9 266.8 224.6 260.2 228.6 240.7 213.4 245.7 224.1 265.4 181.0 238.8 174.4 222.2 233.3 270.0 207.4 275.1 209.4 273.0 201.6 233.4 182.9 258.5 178.4 224.0 175.6 244.6 198.2 217.4 219.0 234.2 196.5 218.4 214.7 264.2 193.1 251.9 195.5 269.0 221.8 260.9 216.4 236.7 196.6 266.2 181.5 230.5 189.2 228.0 181.2 255.4 190.5 209.8 181.4 245.2 241.3 257.7 225.7 263.4 220.5 251.9 220.6 234.8 215.1 249.1 225.2 249.1 201.1 241.0 202.4 248.2 210.7 266.9 206.4 219.2 205.0 233.1 189.6 265.3 205.4 246.1 237.3 240.8 205.8 260.1 201.3 269.9 209.7 234.8 229.0 276.8 196.6 227.4 193.8 237.1 223.4 245.3 179.9 233.8 175.9 212.7 199.2 273.8 216.3 274.5 178.7 232.8 206.2 235.5 187.1 239.6 240.5 257.8 183.3 236.6 188.5 238.2 186.7 214.3 228.6 276.2 194.0 211.9 220.8 271.4 200.5 251.8 186.7 263.4 188.6 237.5 236.3 268.7 192.3 253.8 208.0 251.2 229.9 242.3 210.2 255.9 213.2 239.2 212.4 261.6 201.8 246.2 171.6 226.8 236.5 254.6 188.8 250.1 224.2 249.3 175.7 231.4 221.4 275.0 181.4 237.1 190.1 219.2 221.3 251.7 205.4 262.5 207.8 249.8 201.3 258.4 193.1 222.8 199.3 274.5 188.2 272.5 189.0 212.7 213.5 258.1 191.3 248.0 234.5 255.9 201.0 269.5 243.3 257.0 209.2 264.4 203.1 265.3 186.6 219.5 180.3 209.0 218.0 275.5 221.0 278.7 220.1 256.4 205.3 217.9 187.2 259.5 219.3 255.9 230.5 249.7 176.9 230.7 193.5 237.5 216.4 226.8 210.9 262.3 184.1 254.8 190.3 209.6 225.7 237.7 216.6 247.9 227.4 251.5 174.9 225.2 233.1 254.8 209.6 219.3 186.8 248.4 217.4 222.5 176.1 217.2 197.4 267.5 220.4 278.1 190.3 266.1 217.0 265.8 238.5 253.3 216.8 258.2 197.5 254.0 184.1 231.4 183.6 273.1 178.8 245.6 208.3 240.1 189.8 270.3 239.3 257.1 188.0 269.7 188.0 223.3 205.5 241.5 192.2 243.2 184.7 212.4 181.3 240.1 211.4 270.3 189.5 252.4 246.4 262.7 186.3 234.4 212.0 276.6 239.8 252.7 206.7 243.3 188.3 213.9 215.0 267.9 191.8 219.1 196.6 250.5 195.2 239.5 206.5 257.1 200.0 223.3 234.5 274.6 192.5 269.5 185.9 222.4 238.4 255.3 214.0 232.7 175.4 220.8 230.2 262.4 208.9 277.6 220.8 245.6 193.2 222.7 189.4 215.2 204.6 230.1 196.6 228.4 183.7 236.5 201.7 270.8 195.8 214.4 205.4 263.7 220.3 268.5 191.4 213.4 198.2 225.3 218.5 261.7 193.9 238.0 218.8 242.8 211.0 271.9 196.1 223.8 182.6 255.8 186.4 242.2 185.6 269.6 192.7 231.2 210.2 244.6 197.8 256.8 189.3 247.5 209.2 257.1 180.6 212.3 188.9 255.2 223.5 242.6 177.5 217.2 202.9 269.5 205.8 236.3 181.5 262.2 220.6 271.7 197.6 234.7 216.0 270.7 198.6 251.0 214.0 241.6 183.1 237.4 206.4 272.5 194.2 221.2 191.2 238.6 176.6 244.5 190.8 228.4 186.7 250.9 206.2 237.7 200.8 236.8 210.1 258.2 225.3 240.0 198.5 271.3 208.9 237.4 236.6 247.5 243.6 264.7 219.1 267.4 200.0 253.9 201.8 235.5 233.6 265.5 199.6 239.8 205.3 269.6 239.1 252.8 242.9 250.2 202.1 217.4 182.4 241.4 234.4 273.4 198.4 226.2 200.6 252.5 224.7 234.5 180.3 255.2 187.7 249.6 184.1 229.1 234.7 248.5 230.5 248.7 198.0 250.0 184.3 225.5 198.3 237.1 221.1 227.5 215.8 234.2 206.7 226.6 227.3 266.2 191.0 227.0 191.6 257.9 228.8 272.0 238.6 271.4 184.9 217.4 186.6 224.2 226.1 273.8 236.1 249.8 219.0 251.0 180.2 239.1 215.2 259.4 230.6 259.3 185.0 265.1 189.1 223.8 202.1 240.5 194.5 244.0 190.3 255.0 210.6 270.4 215.7 276.9 228.4 243.2 209.3 238.3 182.4 261.7 242.0 269.3 185.5 248.6 217.3 282.4 222.2 236.0 194.3 253.7 206.9 245.8 229.1 238.9 203.5 236.8 197.5 271.9 223.1 278.9 185.7 247.1 220.9 266.6 188.4 263.2 192.0 214.2 202.9 268.5 185.0 214.5 197.5 251.4 184.0 210.5 202.6 255.1 233.1 276.0 201.5 268.7" fill="none" stroke="none" marker-start="url(#k3)" marker-mid="url(#k3)" marker-end="url(#k3)"/>
<path d="M254.6 265.7 271.1 294.0 249.3 271.9 253.8 289.0 250.9 282.9 227.4 247.4 240.5 243.2 268.7 295.4 271.0 294.0 251.1 265.7 243.1 253.7 251.8 271.2 268.6 293.7 272.1 287.1 250.4 282.9 255.7 258.1 240.2 247.4 259.1 287.3 267.0 289.5 244.8 264.4 234.8 268.6 233.7 267.5 257.5 284.7 268.6 292.5 260.5 281.6 242.4 273.2 240.1 275.8 270.5 295.2 245.6 280.1 248.4 262.4 240.5 260.7 261.1 289.7 256.9 285.9 271.3 297.7 232.5 261.1 237.2 265.6 254.5 283.6 231.3 269.6 223.6 253.6 260.2 282.1 263.2 293.8 252.4 270.0 257.9 286.4 262.2 289.0 259.9 288.9 255.3 279.1 264.7 287.6 250.3 273.1 272.9 296.9 259.5 284.5 271.5 297.1 241.1 268.1 265.2 290.3 242.4 271.4 255.1 274.8 266.6 295.3 273.1 296.7 250.7 274.3 242.2 268.2 252.5 275.0 235.4 261.0 250.8 281.6 273.4 297.5 258.4 284.7 233.3 248.3 262.2 282.5 265.5 282.7 225.2 257.5 269.1 290.3 258.5 294.6 250.3 243.4 273.4 298.6 244.5 267.8 242.7 267.2 240.4 258.2 265.1 287.4 250.4 281.1 251.2 268.0 236.8 270.6 259.8 275.0 239.1 259.7 262.9 286.6 265.3 284.3 221.7 253.3 257.9 280.5 271.8 295.8 241.4 275.2 268.6 288.5 237.6 269.1 272.0 297.5 249.8 262.2 236.5 258.7 268.3 289.4 263.3 284.3 244.9 249.2 241.7 264.3 242.6 273.9 267.5 291.1 264.2 288.9 239.7 252.1 268.9 291.5 235.3 266.9 272.8 299.0 273.9 299.1 258.1 279.3 243.8 279.8 252.6 277.1 245.9 262.3 235.1 249.1 254.1 273.0 266.2 290.7 271.1 295.5 260.3 288.8 250.6 280.5 269.4 293.5 258.2 289.8 235.8 251.8 254.9 277.0 229.3 247.2 251.1 277.8 266.2 288.4 231.9 248.9 223.0 253.1 259.1 277.5 232.5 271.6 252.2 261.4 249.2 265.6 235.2 252.6 251.1 275.9 270.8 296.1 266.4 292.6 256.0 286.9 270.3 288.3 236.3 250.5 240.0 255.6 242.2 260.8 264.3 287.8 257.0 274.8 237.2 236.6 267.7 294.2 232.7 246.6 237.2 255.2 271.0 296.1 258.4 280.0 255.1 284.9 247.0 268.7 238.0 250.7 255.9 280.6 244.1 281.2 258.4 287.0 241.0 259.8 262.5 287.8 244.8 272.3 255.5 273.7 243.4 271.1 271.0 296.6 241.8 264.6 252.3 270.5 256.0 279.1 249.9 269.3 239.0 263.9 244.2 245.2 263.2 285.9 233.1 258.7 255.2 282.8 228.4 249.5 274.0 298.4 240.0 273.0 257.1 287.3 234.4 267.6 244.7 263.3 264.2 279.6 254.3 279.1 234.6 261.8 233.4 254.5 265.4 292.4 256.4 280.7 230.8 258.1 268.3 284.8 263.7 282.6 255.7 274.8 224.9 247.0 260.8 279.1 238.5 268.9 238.2 256.6 256.8 282.4 252.2 281.3 252.7 271.4 260.8 265.5 260.8 284.5 247.4 258.5 243.4 271.4 273.2 295.7 257.6 287.7 231.7 256.2 258.1 287.4 248.3 269.3 230.4 261.8 245.2 269.2 250.8 271.2 245.8 275.9 260.4 286.5 253.5 280.7 266.5 289.6 235.6 254.7 267.9 291.8 271.8 296.4 236.9 259.6 246.5 283.0 269.8 291.7 239.1 258.7 236.0 246.7 267.1 278.4 241.5 277.8 247.6 265.4 250.1 274.6 272.4 299.0 241.4 254.0 245.8 265.5 238.2 261.6 271.6 294.2 235.9 257.8 262.0 288.5 248.7 269.9 262.2 286.0 259.4 281.1 227.3 263.4 237.2 265.1 243.2 270.6 234.8 266.3 272.4 298.2 229.5 264.3 272.3 294.9 270.3 293.0 267.1 293.0 230.6 250.9 236.4 260.0 243.0 248.3 248.7 267.2 273.6 297.1 268.3 295.1 244.0 260.2 240.9 251.7 237.9 256.2 270.0 297.4 229.6 260.9 232.5 273.7 246.9 270.6 235.7 266.2 234.8 256.4 244.1 268.7 228.9 256.1 253.1 282.8 269.2 295.7 230.9 258.6 245.7 263.0 246.4 279.5 254.4 272.3 240.9 252.5 235.2 250.0 267.4 285.7 270.8 294.3 260.1 277.3 249.3 279.3 228.0 263.6 227.4 248.0 263.6 282.8 259.1 293.9 244.1 255.0 255.6 282.7 271.9 296.3 248.9 275.0 256.4 248.8 257.5 275.4 237.7 252.2 260.2 272.6 239.4 258.7 261.0 290.5 238.3 256.7 225.1 247.8 255.2 283.1 270.1 297.7 248.5 269.9 240.0 260.6 239.2 277.4 221.7 256.0 262.0 274.6 272.5 299.7 273.2 298.8 238.3 258.1 252.4 271.6 249.1 284.2 266.5 279.1 242.6 272.7 240.8 247.8 241.6 263.4 242.6 276.0 246.9 257.7 231.9 259.6 248.6 282.6 228.7 248.0 257.1 282.2 255.0 278.1 262.1 278.9 236.7 274.2 269.7 296.1 242.5 255.5 237.3 242.6 266.8 288.9 255.2 280.0 271.8 289.8 237.1 261.2 263.7 291.8 268.6 297.0 242.9 263.4 233.8 246.4 229.6 248.1 256.3 277.4 249.2 277.4 238.7 268.8 267.4 292.7 268.3 295.4 265.9 290.7 230.6 266.0 271.2 296.3 251.2 275.8 256.5 272.2 226.1 249.1 265.2 286.7 268.7 291.2 243.3 267.7 227.2 250.3 260.0 285.7 264.5 288.6 260.4 287.6 272.6 298.1 271.1 292.1 270.4 295.5 258.3 268.6 247.7 267.2 273.7 297.2 259.4 280.3 240.8 267.1 267.9 292.0 247.9 248.2 262.1 285.8 256.4 279.3 235.1 265.3 252.2 272.9 240.9 259.7 271.5 297.3 263.0 284.7 266.2 291.6 237.0 246.1 262.1 279.6 262.5 287.4 254.2 258.3 260.8 288.7 266.2 290.7 246.8 276.8 271.1 294.2 269.7 294.7 238.6 263.2 244.6 270.9 250.4 270.9 257.9 289.2 232.7 262.5 240.7 240.8 268.3 289.5 270.5 294.7 271.6 298.5 221.3 252.6 250.8 274.6 257.9 282.7 229.5 256.8 246.8 275.2 259.7 289.4 268.6 294.1 269.3 291.6 270.9 295.2 267.8 288.4 236.6 259.0 266.0 290.5 230.1 246.5 249.6 264.6 229.0 265.0 263.8 288.8 261.9 280.0 232.7 260.8 267.5 283.0 232.7 252.8 272.4 294.5 264.1 288.7 248.2 268.3 249.1 262.4 241.0 261.3 251.9 281.9 270.3 293.0 242.2 272.5 260.1 287.3 267.7 288.1 268.7 294.6 239.0 263.7 251.6 277.6 264.4 289.8 248.4 265.4 248.2 253.7 240.3 247.7 259.5 282.9 261.8 281.9 264.7 292.4 228.3 255.7 263.9 287.7 227.4 253.5 222.5 253.7 237.2 245.9 254.8 273.7 257.4 284.8 258.7 263.5 268.4 292.6 246.8 270.6 270.7 293.6 268.7 284.5 257.3 286.0 236.0 255.1 265.1 288.3 264.0 285.3 254.0 269.0 268.0 293.6 232.9 239.7 259.9 288.0 253.2 272.9 230.2 255.5 252.3 285.9 253.3 283.9 271.8 292.6 264.6 284.9 258.2 289.9 262.4 285.7 233.8 251.2 255.8 285.9 235.1 264.4 230.7 252.8 243.3 263.8 249.8 270.8 238.0 254.1 250.4 251.4 272.3 294.9 220.9 250.3 224.5 252.9 250.1 269.2 270.3 296.0 252.8 276.4 274.0 298.2 267.9 295.6 262.4 286.9 256.8 282.3 268.4 291.4 250.7 279.5 241.7 260.7 255.3 281.4 255.7 275.8 260.6 287.3 248.2 265.3 259.9 283.3 232.3 254.7 245.2 273.7 255.6 263.1 234.0 254.9 274.0 298.6 265.0 289.0 233.0 258.9 269.2 292.9 262.7 291.5 241.2 258.5 247.5 275.1 266.6 293.6 228.5 264.7 257.0 277.4 235.2 262.1 262.0 288.2 240.6 259.7 250.7 281.4 266.0 292.4 238.4 241.8 237.1 270.8 234.6 243.8 261.5 288.3 246.7 278.9 256.7 282.4 255.6 274.9 248.7 272.4 229.3 260.7 248.9 258.8 263.1 283.8 241.1 273.8 264.9 286.3 271.3 294.7 244.8 275.6 231.0 250.5 253.6 286.2 236.7 270.3 252.7 277.3 230.2 262.1 231.0 256.3 258.1 289.1 243.5 255.2 241.6 258.9 238.7 256.1 243.8 263.9 271.9 290.3 244.7 263.5 259.8 285.0 257.1 271.7 253.4 279.7 245.8 256.5 256.7 270.9 246.4 266.9 268.3 291.7 234.1 252.3 263.0 293.8 247.3 268.0 273.5 298.8 223.7 262.2 235.4 265.7 242.4 258.3 238.7 262.0 242.8 255.6 254.8 267.6 265.6 284.7 239.5 268.8 247.0 276.8 259.8 285.9 242.8 278.5 270.5 292.1 270.8 298.3 271.8 292.0 232.8 248.7 263.4 284.3 248.8 273.5 257.3 285.6 271.2 290.2 254.1 271.2 261.7 286.5 241.9 261.8 237.7 254.5 253.1 270.6 270.7 293.1 228.9 250.4 250.5 270.6 255.1 271.4 264.9 291.2 257.3 277.4 267.9 294.3 238.6 266.1 226.7 254.7 262.4 281.5 257.6 282.8 252.5 276.5 268.3 293.0 273.2 297.6 251.3 276.8 252.5 257.2 272.5 296.8 228.6 253.4 273.0 297.5 237.5 242.5 254.2 286.5 255.3 276.1 255.9 260.9 268.7 292.8 269.5 291.6 249.5 262.0 254.9 282.5 266.7 294.3 263.5 281.9 265.5 286.8 248.8 258.7 262.8 266.1 243.6 270.0 238.5 271.6 265.0 276.3 262.8 290.5 226.7 255.8 262.6 288.3 264.5 283.0 249.5 271.8 263.5 291.1 266.0 290.4 235.5 264.2 251.6 274.9 248.0 270.6 273.1 287.4 222.6 260.7 229.3 271.5 234.9 250.9 250.2 263.2 260.2 278.3 267.9 292.8 255.0 267.2 242.9 248.8 248.2 258.2 233.3 252.7 267.9 290.9 248.2 270.7 268.9 295.3 262.8 288.0 248.9 261.8 243.8 262.7 233.2 266.2 270.7 296.3 240.0 275.8 243.0 258.2 272.5 296.6 258.0 283.4 268.2 285.9 250.3 276.1 240.8 272.0 251.9 269.6 268.0 285.4 272.7 294.2 268.8 293.9 248.9 270.6 256.1 275.5 257.8 266.8 265.6 295.6 270.4 295.2 233.8 262.8 256.7 261.3 257.3 265.4 263.9 286.5 244.0 259.8 260.8 287.9 229.6 261.0 222.6 251.6 263.7 287.0 263.9 286.9 274.1 295.7 238.9 279.5 255.4 286.2 272.5 297.0 247.7 255.0 257.5 279.2 261.1 294.1 225.9 258.8 226.2 254.8 272.2 298.4 270.3 296.1 244.8 276.6 239.4 253.1 270.1 293.7 262.0 277.0 228.3 252.7 237.1 264.4 268.8 295.7 247.7 255.8 239.6 273.2 271.0 296.4 273.3 295.1 251.2 279.4 231.4 240.2 246.2 283.4 260.1 282.0 240.4 253.5 257.2 265.7 255.0 281.9 249.7 274.8 240.7 264.0 256.0 281.7 250.5 275.0 250.7 254.7 248.7 263.4 230.1 246.6 253.9 279.8 235.2 253.7 265.7 289.4 260.2 280.8 274.1 297.6 257.7 282.6 248.1 275.7 243.8 255.1 249.2 255.2 241.6 251.2 251.8 278.0 268.6 293.2 265.9 290.9 273.4 297.1 264.4 292.8 247.3 266.9 228.6 261.2 251.6 282.6 232.0 241.0 256.5 279.8 252.2 278.4 241.7 254.5 258.4 277.2 272.4 297.9 239.3 264.2 242.4 269.0 261.8 282.8 255.6 273.6 255.1 286.4 264.9 294.2 252.1 252.7 268.6 291.5 231.4 257.4 252.4 274.5 235.4 272.6 236.8 263.8 253.8 285.3 261.0 280.7 247.4 281.4 270.5 290.0 259.9 279.0 240.7 268.0 267.5 293.0 262.9 286.7 261.3 280.2 252.0 273.7 238.9 266.1 247.3 257.9 248.9 273.7 259.6 274.0 262.4 286.6 243.2 268.1 270.9 294.2 239.8 265.9 252.9 277.0 258.7 278.0 249.7 286.6 265.9 286.4 261.4 278.8 249.4 281.6 264.3 292.9 262.2 287.9 222.4 249.0 260.9 278.0 273.3 298.2 245.2 267.4 261.7 276.7 250.6 270.9 233.5 243.0 246.9 282.1 238.6 254.5 270.6 295.8 259.0 283.5 261.7 274.5 251.3 266.1 237.0 261.4 230.3 260.4 245.1 268.9 272.6 298.8 260.5 288.9 267.2 295.6 267.9 287.6 259.5 284.2 254.4 277.6 272.4 296.7 266.1 288.9 272.2 294.5 256.9 269.7 259.2 281.1 270.9 296.3 247.4 267.9 269.5 296.6 241.2 260.3 272.5 297.6 258.3 282.4 252.2 273.0 263.3 287.4 247.2 260.1 239.9 265.6 232.4 245.8 252.8 271.8 228.3 250.1 274.0 294.6 254.4 272.8 246.8 263.6 226.8 252.6 247.9 266.8 255.5 275.4 257.9 276.1 233.7 250.2 231.5 269.6 257.1 275.2 233.0 257.1 273.1 297.2 249.4 282.8 265.5 293.5 238.5 251.5 249.3 265.4 268.4 293.6 269.4 283.6 261.5 278.5 239.1 259.7 267.3 290.1 251.1 267.1 261.2 291.4 250.7 275.6 238.6 279.0 259.1 291.7 272.7 296.9 239.7 261.9 265.4 284.8 257.8 277.0 253.9 283.3 238.1 259.9 246.4 268.8 259.8 273.3 271.3 295.6 245.7 266.8 233.7 265.9 271.5 296.8 241.3 270.3 238.6 259.8 244.6 276.0 268.1 291.8 246.9 273.4 252.4 268.7 258.0 281.9 254.4 277.2 259.6 279.2 226.2 254.0 264.3 288.6 244.4 249.2 241.4 272.3 232.1 247.8 261.7 271.7 236.8 250.3 265.5 276.8 249.4 281.8 251.8 266.0 264.0 284.9 246.9 252.4 253.9 270.6 256.6 283.2 255.7 282.3 265.4 291.2 229.9 262.5 229.6 257.9" fill="none" stroke="none" marker-start="url(#k3)" marker-mid="url(#k3)" marker-end="url(#k3)"/>
<path d="M186.7 154.2 201.2 132.3 198.6 91.0 165.1 158.8 173.7 106.7 199.3 136.3 201.8 137.2 180.8 145.2 193.3 106.2 201.8 108.0 173.4 150.6 186.7 154.5 169.4 122.2 170.0 155.9 174.7 155.2 204.4 146.7 208.0 100.2 202.5 145.0 198.6 130.5 195.3 144.2 182.2 131.4 199.7 143.6 205.0 125.2 204.7 138.7 181.1 166.3 195.8 142.9 191.8 99.5 191.7 123.2 205.4 139.9 189.4 142.4 183.3 153.2 184.8 112.2 173.9 123.8 185.5 158.1 193.9 155.5 195.4 94.2 187.4 136.4 172.6 149.9 180.9 167.4 202.8 146.6 159.7 168.0 205.0 142.3 193.4 104.8 205.7 90.9 192.0 139.4 172.5 156.0 169.3 137.2 196.0 129.6 164.4 162.8 162.0 147.0 182.4 168.7 206.2 98.9 178.0 147.9 167.8 141.3 208.0 97.6 209.2 87.0 183.6 151.6 155.7 148.4 162.6 165.7 193.5 163.8 171.4 145.9 204.1 104.2 190.6 151.5 188.6 162.4 188.9 158.9 203.6 89.8 180.5 164.1 183.6 121.2 202.6 158.7 183.8 115.2 163.9 148.6 203.4 115.2 188.9 160.8 199.2 116.0 208.9 106.2 175.3 149.1 201.0 116.0 181.8 155.3 195.1 147.7 209.6 97.7 203.9 124.2 169.6 163.4 196.4 88.7 181.3 121.4 170.8 151.2 197.4 139.4 195.7 148.1 198.9 118.3 198.1 89.8 197.2 144.7 183.3 127.8 209.3 123.7 190.1 125.4 201.0 94.7 193.9 116.5 205.8 138.6 191.5 95.3 168.4 140.9 170.3 154.9 189.4 144.9 176.9 148.5 171.4 114.9 202.2 123.7 179.8 149.6 185.7 153.9 184.7 137.4 181.2 163.9 193.8 102.3 158.1 155.3 174.6 138.0 180.0 128.9 203.0 128.7 202.5 152.3 179.5 132.3 185.0 129.6 197.1 139.0 205.3 144.9 187.5 142.8 190.8 139.2 200.1 124.3 210.5 127.7 191.3 87.4 196.0 92.2 162.5 142.6 197.9 155.8 182.2 140.1 197.8 120.7 197.3 121.4 185.0 145.0 167.1 136.4 201.5 107.1 168.7 168.2 179.2 123.3 196.4 158.2 179.4 124.3 202.6 160.0 194.5 117.3 169.7 139.1 184.1 165.0 185.4 133.2 180.8 101.6 208.1 107.4 197.3 142.3 194.6 121.6 202.4 149.0 193.4 146.6 200.0 162.3 198.8 111.6 181.5 153.0 180.8 144.5 190.4 107.6 167.6 163.5 205.3 101.4 179.0 149.3 178.5 155.5 176.7 110.5 167.2 160.3 176.4 159.8 161.0 166.5 184.8 157.7 185.2 131.8 192.0 106.1 196.1 143.3 169.4 157.2 201.4 93.9 169.8 126.8 203.4 86.7 174.3 122.4 198.1 152.1 183.1 153.7 176.8 119.4 178.9 141.6 179.0 110.6 200.9 131.4 199.5 150.3 188.9 129.5 163.6 129.3 193.6 152.5 190.9 110.6 197.4 136.0 172.9 145.0 189.0 161.5 177.9 120.1 204.4 148.2 177.6 145.3 172.8 115.6 193.5 122.0 196.7 166.1 176.2 139.0 183.2 118.6 180.3 159.2 181.7 161.8 175.7 159.1 180.4 121.3 186.6 153.6 158.8 142.5 171.7 146.2 191.8 116.5 203.7 102.4 191.0 138.4 191.8 152.7 196.5 153.1 201.1 106.1 179.0 149.9 158.3 162.9 171.8 123.3 193.9 136.2 201.2 132.1 184.4 137.1 203.7 133.4 185.4 164.1 199.9 148.6 160.3 148.7 202.6 84.7 196.5 118.3 192.7 116.6 202.2 143.9 189.7 143.7 207.3 114.8 182.1 117.7 203.8 87.2 165.2 129.0 170.9 136.8 166.0 138.9 179.8 165.3 203.5 131.7 202.4 108.3 198.8 152.7 179.6 145.6 176.1 131.0 184.0 143.6 176.8 164.6 204.2 126.2 184.8 157.2 183.6 121.5 166.7 133.7 186.7 136.9 190.8 147.2 194.8 149.0 204.3 93.4 185.4 128.0 196.1 161.9 173.4 124.2 197.1 96.3 187.8 99.8 180.2 148.5 199.0 90.2 157.1 153.8 194.2 126.0 163.9 132.9 159.7 140.5 181.4 127.7 186.4 103.5 202.8 141.6 181.0 129.9 159.7 159.6 190.5 139.4 174.3 140.1 206.3 132.5 177.4 160.1 162.2 127.8 205.9 117.9 197.8 108.7 186.6 141.5 181.7 166.3 198.1 116.5 204.7 137.5 197.0 106.8 186.1 151.0 178.5 122.1 184.1 108.6 174.4 135.0 184.6 142.9 204.0 111.2 199.2 132.7 180.2 166.9 153.3 163.8 161.8 126.6 186.5 138.1 188.7 95.9 161.3 138.8 202.3 122.6 179.4 126.4 180.5 135.9 182.1 117.6 186.1 169.4 180.8 116.9 162.5 134.6 175.7 160.3 196.0 95.5 207.5 133.6 190.2 136.7 171.1 164.6 200.4 94.7 203.6 96.4 193.8 90.6 168.3 157.9 188.8 121.1 199.7 106.9 169.2 119.1 202.3 104.7 163.5 147.3 197.2 115.2 196.7 124.0 179.2 106.6 197.4 139.0 166.3 157.8 180.9 137.8 162.3 157.6 207.5 95.0 192.6 113.2 207.4 120.9 173.3 113.1 197.4 106.0 168.8 147.6 174.6 160.6 193.5 103.0 205.4 115.4 158.1 157.4 190.1 139.6 180.9 126.1 165.9 142.7 171.1 123.9 158.0 166.4 188.0 172.9 173.3 128.5 190.5 121.7 200.2 90.3 160.4 160.1 205.9 138.1 168.5 153.9 164.4 129.6 180.5 124.2 205.6 82.2 203.3 87.7 200.0 120.6 206.5 122.1 161.1 157.9 173.1 143.6 164.8 142.7 169.0 147.8 171.8 145.7 162.0 158.9 187.2 156.7 200.4 110.2 191.4 167.2 175.3 108.2 177.4 146.6 164.9 160.8 185.2 126.2 183.5 162.7 195.4 136.0 187.0 117.8 178.1 157.4 204.7 149.6 160.5 145.3 171.3 147.8 202.3 138.8 199.1 115.4 208.2 98.7 198.9 129.1 189.7 132.9 204.0 122.4 157.5 147.1 171.1 159.0 186.8 140.9 189.3 100.9 180.0 135.4 194.8 149.1 178.6 119.9 183.8 144.0 186.2 102.0 189.4 140.9 160.1 156.5 187.5 130.0 199.8 117.5 184.4 165.0 178.9 156.3 200.7 122.9 183.8 167.8 156.0 150.1 197.5 105.1 202.0 139.9 166.7 122.7 180.8 117.5 202.5 118.0 180.9 119.0 181.3 114.2 161.8 161.9 180.0 123.2 176.0 159.5 183.9 104.9 201.2 147.1 183.7 104.3 174.8 132.2 202.1 120.4 194.0 117.7 163.0 143.3 170.5 166.8 188.0 145.6 187.5 151.2 192.2 152.9 167.5 152.8 185.8 114.4 201.8 145.1 201.9 104.8 168.0 164.7 193.3 134.1 196.7 104.0 187.9 102.7 198.0 121.1 180.9 158.0 182.6 149.2 193.8 106.3 203.1 120.5 201.0 140.8 189.0 135.3 197.3 146.0 191.7 122.7 172.9 141.0 173.1 116.5 192.0 140.1 187.5 108.5 188.6 147.1 157.8 135.1 198.7 156.6 184.1 165.4 205.3 118.6 175.1 139.8 192.4 140.5 196.4 119.7 168.5 140.4 179.1 160.0 165.4 165.6 203.7 100.1 168.7 161.6 199.2 107.0 167.0 122.1 202.4 106.3 187.1 125.8 203.5 117.3 188.9 137.8 185.9 125.0 184.5 119.0 192.1 111.2 204.8 140.2 170.7 168.0 205.8 123.8 196.8 112.1 193.1 147.2 208.9 114.6 206.0 94.0 185.8 100.2 180.8 132.3 187.7 114.2 168.0 134.6 163.1 136.9 164.5 132.3 190.6 112.1 160.0 155.1 176.3 130.8 179.4 138.0 199.0 106.9 184.0 162.3 171.8 152.4 173.4 113.4 193.8 95.0 166.1 154.2 205.1 109.6 167.7 168.0 206.4 104.2 182.8 118.7 190.3 157.1 200.7 115.2 175.7 161.9 190.6 152.1 208.0 104.5 202.8 145.4 193.3 154.2 200.9 94.4 172.2 152.6 157.7 142.7 185.9 108.4 175.8 117.2 179.5 106.3 199.0 150.0 201.5 99.0 167.8 137.5 173.4 126.2 190.8 114.4 206.8 103.9 183.2 132.7 192.3 132.6 199.6 85.2 181.5 152.6 204.3 130.5 194.6 145.8 200.4 129.9 157.3 129.8 195.7 138.3 174.9 143.2 169.5 144.5 168.6 147.8 178.8 148.4 169.5 140.0 203.0 110.7 170.0 125.8 171.0 148.2 193.0 123.3 163.7 139.9 166.0 158.3 203.8 96.2 208.1 97.3 170.6 140.8 167.1 164.5 201.6 129.4 179.0 123.3 186.6 149.1 199.0 153.8 199.7 149.2 192.7 124.3 198.8 112.1 171.2 126.0 195.6 153.9 198.8 115.6 186.9 155.2 200.8 98.5 202.8 134.1 186.0 101.2 190.7 128.1 203.5 132.3 184.9 170.3" fill="none" stroke="none" marker-start="url(#k4)" marker-mid="url(#k4)" marker-end="url(#k4)"/>
<path d="M193.8 138.8 189.5 122.2 206.6 104.8 185.5 118.5 203.8 113.5 192.9 124.6 192.2 124.3 191.4 118.4 202.9 103.5 203.1 93.7 201.8 144.1 190.3 108.1 206.3 120.5 192.7 134.2 192.1 109.7 208.5 114.3 187.8 119.7 204.1 139.0 188.8 119.2 187.4 115.2 200.2 137.9 196.3 108.6 203.3 110.4 188.5 99.4 193.5 95.9 198.2 110.1 185.0 127.6 195.3 126.1 203.2 118.9 187.5 142.1 202.1 122.0 206.3 139.0 193.8 136.2 192.3 107.6 192.0 142.8 185.6 106.2 190.1 131.8 202.4 114.6 194.7 111.9 190.7 114.1 198.4 137.9 191.2 112.8 199.4 116.4 198.7 130.7 193.7 103.9 184.7 111.0 200.8 111.5 187.6 115.9 196.0 138.2 195.5 114.0 197.7 117.2 189.9 118.9 194.4 116.3 192.3 140.2 199.6 134.1 196.6 142.2 197.0 107.8 202.5 90.5 194.8 110.0 201.7 114.1 205.4 103.8 202.4 97.3 201.0 107.5 184.8 138.1 190.0 115.2 204.5 108.4 195.6 126.2 202.5 104.1 199.5 90.1 196.8 132.5 200.1 108.6 198.2 124.2 192.6 129.2 190.0 100.8 187.4 136.8 200.9 113.1 193.9 99.2 200.0 127.6 191.2 104.7 201.4 123.2 203.5 110.5 192.2 103.6 207.1 107.1 186.4 121.2 207.0 113.2 199.2 109.9 188.7 103.0 203.6 112.1 198.6 131.4 189.7 140.8 208.4 110.4 200.4 101.3 186.0 124.6 195.9 138.0 197.2 96.5 190.0 118.2 186.9 105.8 205.9 125.2 209.0 130.2 194.3 99.2 200.1 104.8 198.7 130.8 199.3 131.6 184.3 114.3 187.5 109.5 198.3 96.0 191.7 125.1 202.7 111.8 208.6 99.9 197.4 123.0 203.3 102.9 200.8 125.8 205.1 116.1 197.8 133.9 196.5 137.4 204.5 140.3 208.4 107.3 188.2 118.1 186.1 123.5 194.2 118.0 199.4 133.4 201.6 90.8 191.9 109.6 191.9 141.8 188.7 106.5 194.7 108.5 203.2 108.0 202.5 130.0 182.9 121.4 201.8 136.2 192.5 121.3 199.7 117.9 190.3 136.2 194.1 115.4 188.0 124.9 190.6 102.8 199.6 107.0 199.1 104.4 194.6 122.6 196.7 131.4 191.3 117.6 197.1 97.3 198.8 139.1 195.0 124.8 197.5 116.5 197.2 133.4 195.1 124.2 188.5 135.1 196.0 97.6 198.6 113.7 190.6 137.8 198.0 102.6 194.9 112.5 198.3 140.1 192.5 110.4 195.5 108.4 183.9 116.7 186.4 125.7 194.7 125.3 204.5 133.3 187.1 132.0 195.0 142.5 198.8 124.4 188.8 122.8 202.2 113.6 185.1 114.5 200.7 120.4 192.4 123.4 197.7 99.5 204.3 127.2 206.0 109.4 189.7 132.3 202.0 137.3 207.4 136.6 205.7 97.8 194.1 103.0 191.5 122.1 193.4 130.7 205.2 100.0 200.5 107.9 190.8 103.9 188.1 136.6 198.4 99.3 196.1 125.6 201.6 136.0 193.0 109.9 206.7 131.5 187.3 115.0 182.2 129.2 190.0 133.8 198.5 100.7 206.1 105.8 189.5 141.5 202.5 145.3 183.2 144.0 200.4 133.4 210.2 117.7 192.8 121.4 197.3 100.6 202.1 138.9 204.9 120.1 182.7 108.1 185.3 112.4 201.6 114.1 207.5 94.3 186.9 124.1 204.3 119.4 198.1 112.9 205.5 85.3 190.5 113.3 207.7 100.7 181.7 129.8 201.8 139.5 191.9 114.0 190.0 98.7 203.6 122.7 192.0 97.4 199.4 131.3 197.9 121.5 192.9 118.3 185.2 110.4 198.1 108.7 201.4 135.0 201.9 123.9 195.7 115.0 193.1 134.8 187.0 125.3 204.3 118.5 199.9 114.8 202.2 125.7 200.9 94.9 181.7 127.7 200.6 95.4 199.7 128.3 191.7 108.2 206.8 132.5 193.4 103.0 196.0 134.8 205.1 128.6 195.6 98.5 207.6 114.0 187.0 114.6 198.4 105.0 193.9 117.8 186.4 106.6 197.5 108.1 203.7 111.1 189.7 135.0 208.0 108.0 202.7 128.7 196.8 142.4" fill="none" stroke="none" marker-start="url(#k4)" marker-mid="url(#k4)" marker-end="url(#k4)"/>
<path d="M199.5 150.9 196.4 159.4 189.2 148.2 187.2 196.7 187.9 193.3 193.4 179.7 203.3 184.5 204.6 146.5 198.5 176.7 188.1 203.5 198.6 189.3 186.8 203.3 201.0 182.2 207.9 180.6 190.4 198.3 193.9 191.7 197.6 171.3 198.3 175.5 208.4 192.7 197.1 199.8 192.6 176.5 206.8 157.7 197.0 168.8 199.0 200.2 200.6 201.1 203.7 198.9 198.2 180.0 196.4 165.5 185.3 159.0 177.8 180.7 196.6 173.7 210.8 203.9 182.7 163.9 199.0 179.5 208.0 161.6 188.9 194.2 190.1 188.1 200.3 159.3 190.7 169.6 191.2 203.6 195.9 161.0 185.8 179.6 193.4 155.8 190.9 188.1 196.7 189.8 203.8 192.4 189.7 172.4 208.3 175.9 193.1 176.7 199.4 170.2 189.1 159.6 194.0 185.8 184.7 170.2 189.4 190.2 196.3 180.7 189.0 173.2" fill="none" stroke="none" marker-start="url(#k4)" marker-mid="url(#k4)" marker-end="url(#k4)"/>
<path d="M212.4 91.2 205.8 148.2 207.3 144.7 204.8 144.7 209.5 101.7 208.6 100.4 208.6 122.5 203.9 155.9 211.7 99.8 208.8 126.4 209.5 108.9 211.4 108.0 205.1 145.6 207.8 126.5 203.8 149.4 204.8 145.5 210.6 103.9 205.5 138.7 205.6 152.2 207.2 119.3 208.7 116.1 208.7 116.9 208.6 118.8 206.2 143.3 206.0 133.0 210.3 96.3 209.7 101.0 207.3 126.4 205.6 134.9 207.5 133.0 205.2 145.5 207.6 127.1 210.9 97.0 208.6 117.9 206.4 135.6 206.9 134.4 206.7 138.1 206.0 133.7 203.3 152.0 210.0 101.4 209.3 116.3 208.4 129.2 209.7 108.1 204.7 149.9 208.6 113.6 207.8 128.0 210.3 98.4 208.4 116.2 205.1 155.1 210.7 94.9 207.5 124.2 204.5 145.0 207.1 128.4 207.8 118.6 206.3 143.0 205.8 139.8 207.2 130.1 210.4 114.7 206.1 135.0 210.8 92.2 211.0 106.4 209.1 106.3 206.1 153.1 209.6 98.5 210.2 110.6 205.1 136.6 209.4 117.6 204.9 146.7 204.4 151.1 209.5 104.4 207.8 116.7 210.4 102.6 209.2 98.0 207.9 111.7 203.7 152.7 206.6 138.5 207.1 131.4 209.6 105.9 211.3 98.8 205.5 131.0 209.9 107.6 210.3 94.7 207.4 135.3 209.9 100.8 210.3 103.9 206.8 118.4 207.7 134.3 205.9 139.2 204.4 143.2 208.6 115.8 207.9 118.5 207.6 139.4 210.2 104.3 208.0 125.5 207.9 134.7 210.0 104.2 207.2 128.1 205.9 140.4 208.7 115.3 204.9 139.5 206.6 145.1 210.4 99.4 207.9 128.7 209.3 115.1 204.7 151.8 210.3 95.8 211.0 93.9 209.5 114.9 204.8 150.9 207.1 125.2 208.2 131.0 211.4 100.9 210.1 96.4 208.3 119.6 209.6 101.6 207.9 129.4 206.6 132.2 208.0 114.2 206.9 132.9 210.6 106.2 209.4 105.5 212.1 95.6 208.1 116.4 207.1 133.4 206.5 138.5 206.6 140.2 210.2 96.6 207.5 137.3 209.6 108.4 208.6 124.3 210.6 93.7 207.2 130.7 208.5 110.9 209.9 95.4 208.6 115.1 207.5 134.3 211.7 94.8 208.9 122.2 205.9 138.2 210.3 111.1 204.5 150.7 207.7 140.0 205.4 138.7 207.1 115.1 210.9 91.4 211.1 92.3 210.5 101.1 208.4 115.6 209.8 99.0 207.8 122.4 206.9 127.0 208.8 102.6 209.3 123.0 208.5 122.5 206.5 142.7 206.8 142.0 205.5 149.5 211.7 92.7 204.3 151.7 205.5 151.0 205.0 153.7 206.7 123.4 210.1 92.0 206.9 126.8 208.3 116.7 210.2 99.5 207.3 134.8 208.9 118.2 207.0 139.7 207.7 126.3 206.9 136.9 205.5 151.3 208.6 112.6 209.7 118.3 209.0 105.2 210.9 103.8 206.2 130.2 205.0 141.1 206.4 135.6 210.4 116.7 209.0 117.3 208.1 128.6 204.9 138.5 205.7 150.4 204.8 145.8 207.5 112.3 206.2 140.4 207.8 116.1 207.8 136.7 210.0 93.5 211.1 102.0 208.0 124.2 211.0 107.5 205.0 138.3 207.0 113.9 209.9 107.9" fill="none" stroke="none" marker-start="url(#k5)" marker-mid="url(#k5)" marker-end="url(#k5)"/>
<path d="M193.5 162.5 208.6 173.2 186.7 184.3 188.6 205.4 197.3 156.7 195.0 199.7 193.2 172.9 185.8 197.0 205.7 158.8 206.3 169.6 189.6 189.4 200.7 181.9 201.5 153.6 185.1 195.9 205.7 191.0 196.5 196.7 204.0 196.9 197.8 180.7 207.2 157.0 200.5 157.3 205.6 183.1 195.7 152.4 199.7 154.8 192.9 202.8 191.8 181.0 199.0 206.8 189.7 158.0 184.9 158.9 200.0 184.7 202.7 197.1 192.4 199.6 201.4 201.8 192.9 171.8 201.8 201.3 187.6 199.7 202.0 201.0 182.7 165.0 203.6 158.2 192.5 207.4 190.4 198.9 180.5 180.8 204.0 185.3 197.2 164.4 199.3 197.5 188.8 197.7 190.6 189.2 199.0 191.0 182.6 194.9 202.6 184.8 206.8 191.4 208.6 170.2 182.2 188.0 183.8 189.3 188.5 162.7 198.2 198.4 183.4 172.2 201.0 156.6 185.9 172.6 199.3 164.7 194.1 182.6 189.3 175.4 194.3 193.0 186.0 179.7 191.8 200.2 195.4 192.2 208.1 171.4 191.7 152.6 186.5 163.7 200.0 198.8 192.4 165.2 184.7 176.0 206.2 158.5 191.3 164.0 184.0 182.1 201.5 174.5 190.6 166.4 206.0 179.2 203.3 181.4 197.4 191.1 195.5 182.9 202.9 172.2 198.6 179.2 204.0 173.5 198.3 163.0 188.4 176.5 202.7 186.1 188.2 155.9 183.1 166.3 204.7 196.8 187.9 176.5 199.3 188.6 191.9 176.9 186.7 185.4 191.5 167.3 199.9 198.6 198.0 165.3 185.7 186.9 189.7 197.3 184.9 202.4 190.4 170.7 194.4 204.6 199.3 155.8 183.9 175.7 197.1 179.1 202.6 161.7 185.1 168.6 196.3 191.8 193.2 194.4 206.9 201.6 200.2 170.0 204.3 149.1 177.6 179.8" fill="none" stroke="none" marker-start="url(#k5)" marker-mid="url(#k5)" marker-end="url(#k5)"/>
<path d="M197.9 180.1 210.9 189.4 203.2 174.3 198.7 192.8 199.6 203.2 192.0 187.3 191.2 200.5 203.1 193.6 206.3 169.3 197.0 171.4 199.9 189.6 203.2 168.2 200.9 205.0 196.6 177.5 194.2 178.3 199.5 176.4 201.9 190.7 194.8 178.1 202.8 196.7 187.2 184.0 197.5 202.3 194.3 176.9 202.5 202.2 202.9 173.6 201.7 204.3 199.2 193.3 197.9 182.2 199.9 175.2 193.5 180.0 195.8 198.3 191.7 174.0 197.8 190.4 200.2 167.8 193.1 181.8 194.3 169.8 201.4 173.0 196.3 176.1 198.1 203.6 204.9 201.2 199.1 189.3 196.2 174.5 192.7 167.4 188.3 171.2 187.1 192.6 198.8 180.9 202.6 188.4 204.8 193.9 193.0 178.9 196.8 192.2 201.2 202.5 196.7 193.6 199.7 205.9 210.6 191.6 186.8 206.6 200.4 185.3 201.4 194.7" fill="none" stroke="none" marker-start="url(#k6)" marker-mid="url(#k6)" marker-end="url(#k6)"/>
<path d="M195.0 143.5 175.9 164.5 189.4 162.1 193.9 175.0 188.1 149.7 190.6 160.0 190.1 150.1 180.4 164.9 184.2 157.5 178.9 157.6 193.6 142.1 174.0 163.8 187.2 166.5 189.7 156.1 182.1 154.9 182.1 164.8 191.3 161.8 176.4 154.7 183.5 149.3 203.3 162.3 186.2 161.6 195.5 138.7 191.4 168.5 196.1 133.1 192.0 164.8 197.1 142.2 193.1 162.0 200.3 133.8 185.4 161.5 186.8 141.8 187.5 162.2 197.0 160.2 183.6 170.9 194.5 145.0 195.9 153.1 200.7 160.2 180.3 149.2 189.3 144.4 179.3 166.9 182.4 148.2 189.2 165.8 188.7 154.8" fill="none" stroke="none" marker-start="url(#k5)" marker-mid="url(#k5)" marker-end="url(#k5)"/>
<path d="M156.3 188.5 140.2 142.8 135.3 161.1 138.7 205.1 120.1 201.1 120.7 198.1 164.0 167.9 139.2 164.3 157.5 188.6 162.1 167.6 142.8 180.1 117.9 192.1 91.6 205.2 160.9 177.6 124.9 157.8 115.9 190.6 164.2 170.6 141.4 187.0 108.6 194.6 156.6 170.2 144.7 169.5 155.4 195.6 137.3 204.0 150.2 188.7 135.3 182.6 139.7 153.4 153.5 152.0 154.5 170.5 142.7 188.0 152.7 173.8 119.6 164.4 162.4 148.3 132.2 203.3 140.3 149.7 122.4 212.2 154.4 171.2 132.6 184.3 115.9 184.9 99.7 208.1 118.4 195.0 126.0 179.9 139.3 173.1 139.7 162.0 141.0 164.5 138.0 175.8 126.1 174.4 142.0 174.0 153.2 179.1 153.0 175.1 106.5 185.1 158.2 185.6 144.5 145.1 158.0 189.2 98.3 205.3 153.1 200.3 157.9 196.2 148.1 161.4 113.3 181.1 114.0 177.6 156.4 171.1 123.6 201.3 130.8 208.3 122.5 173.7 130.8 184.2 113.6 208.5 159.2 171.3 91.0 199.2 131.3 174.9 93.5 211.2 154.8 182.9" fill="none" stroke="none" marker-start="url(#k2)" marker-mid="url(#k2)" marker-end="url(#k2)"/>
<path d="M116.9 227.3 83.9 240.3 139.4 223.6 114.1 226.8 110.7 235.1 97.6 236.4 83.5 245.0 130.8 222.1 84.4 244.6 120.6 232.1 93.2 239.5 133.3 223.6 107.3 231.6 131.1 227.8 103.4 237.1 100.1 239.1 87.2 240.5 89.8 241.7 143.8 222.1 111.6 226.7 107.4 233.8 128.4 227.9 124.1 228.9 111.6 233.4 127.5 224.5 88.3 241.8 96.2 237.2 136.0 219.3 132.6 226.2 110.4 233.2 109.1 234.4 84.6 243.1 130.3 224.1 115.9 231.6 140.4 226.2 131.4 224.0 117.1 229.2 93.4 240.4 89.0 239.2 112.7 231.0 95.6 237.7 110.8 232.3 100.8 238.3 132.3 227.2 127.2 222.8 139.8 220.5 100.1 234.2 128.7 225.3 117.0 231.8 105.2 232.6 115.8 232.3 131.1 223.3 139.9 219.8 96.7 236.0 140.0 222.0 127.2 225.7 143.0 218.8 92.8 243.5 139.5 224.9 94.4 233.7 115.3 234.1 104.3 235.5 137.8 222.5 115.0 231.3 101.2 238.3 128.0 223.3 80.2 241.1 133.7 224.1 106.6 234.1 135.0 228.5 95.4 241.2 118.2 231.0 124.3 228.7 118.1 229.9 125.6 230.7 139.3 222.7 85.1 237.7 118.1 230.5 136.6 221.8 124.7 229.9 116.7 229.7 92.8 239.2 88.4 240.9 90.5 237.2 88.7 238.0 131.6 225.7 135.5 225.5 109.1 233.8 133.3 223.6 98.1 238.4 86.6 243.4 94.0 239.8 84.7 240.6 135.1 224.5 112.9 233.8 119.5 228.7 143.5 220.2 90.0 240.1 121.0 232.7 90.8 238.3 136.3 224.5 101.4 235.3 129.9 222.1 122.8 227.9 83.9 242.5 109.2 233.4 83.3 239.5 100.8 239.5 137.1 219.9 98.0 242.0 85.1 240.5 105.2 236.4" fill="none" stroke="none" marker-start="url(#k7)" marker-mid="url(#k7)" marker-end="url(#k7)"/>
<path d="M105.8 228.4 97.2 241.6 91.7 238.5 115.5 234.4 103.8 239.7 92.3 230.6 101.0 237.7 119.1 230.6 137.8 235.0 108.6 242.3 113.5 237.2 141.8 231.8 127.1 225.8 117.4 237.4 148.2 220.1 119.1 226.7 148.7 221.9 108.9 227.7 149.9 221.1 142.8 231.8 112.5 230.9 140.2 222.7 109.6 238.0 105.9 235.9 92.6 226.6 96.3 238.5 94.2 239.4 126.7 230.7 96.4 240.5 144.6 210.1 91.3 246.7 103.0 239.0 85.7 241.0 110.6 230.8 97.2 244.2 96.7 233.7 127.1 228.2 97.9 222.7 136.4 223.4 122.1 219.2 117.0 228.6 100.3 242.2 131.5 219.5 83.5 235.7 119.4 236.7 132.1 231.7 109.0 238.7 133.9 233.3 107.8 239.7" fill="none" stroke="none" marker-start="url(#k7)" marker-mid="url(#k7)" marker-end="url(#k7)"/>
<path d="M176.1 203.3 178.5 216.7 170.1 225.6 167.6 216.1 160.9 223.8 154.4 228.2 172.8 202.7 157.2 205.3 159.4 207.9 157.1 212.4 152.6 211.7 178.8 221.9 157.9 221.2 170.8 226.9 174.6 211.9 173.6 224.9 156.8 219.3 165.6 220.0 165.9 211.5 177.2 201.7 175.2 210.6 164.1 206.7 174.8 221.7 184.6 216.8 152.2 219.3 179.5 211.5 170.7 221.3 175.5 207.1 155.3 220.5 164.4 205.3 183.5 215.7 184.7 219.2 163.3 217.1 173.5 223.0 157.1 224.1 165.3 220.7 182.7 215.6 169.3 211.8 166.6 210.7 172.6 206.4 173.7 202.6 155.9 209.0 159.8 219.0 174.7 206.4 152.2 220.9 158.6 207.1 158.4 220.1 168.7 208.0 182.0 200.0 170.0 213.4 178.3 206.6 162.1 203.7 157.9 224.1 180.9 213.8 171.0 216.0 167.9 228.0 168.0 218.3 180.9 209.3 168.5 221.4 173.6 214.6 162.3 208.5 184.5 213.7 183.2 214.8 168.2 210.0 171.6 233.2 175.2 211.8 165.1 221.2 169.4 208.8 185.7 214.3 162.5 220.9" fill="none" stroke="none" marker-start="url(#k8)" marker-mid="url(#k8)" marker-end="url(#k8)"/>
<path d="M169.3 215.6 160.2 227.3 166.0 236.7 164.4 221.2 165.1 229.2 151.3 217.2 160.7 236.4 171.7 217.9 147.8 229.4 155.1 224.3 158.3 219.1 149.3 222.0 164.7 223.0 168.9 219.1 163.1 220.9 165.9 223.0 165.4 233.8 180.9 218.7 170.3 228.4 169.8 219.6 155.4 217.0 165.7 217.2 164.0 230.9 150.4 217.8 162.4 225.2 173.0 219.2 158.5 222.2 177.4 211.5 172.3 213.7 154.3 230.9 150.9 225.6 167.3 215.9 156.3 215.8 165.8 230.3 169.4 214.3 164.2 227.5 167.1 223.7 160.0 224.5 169.1 227.2 164.0 218.3 179.0 205.9 153.6 217.7 166.8 212.3 169.3 216.6 164.4 223.0 159.9 217.1 165.3 221.1 159.7 221.7 163.6 218.5 158.3 221.3 155.9 222.7 152.8 229.0 155.7 218.6 164.4 218.7 153.0 223.4 155.2 220.4 162.6 219.6 169.4 209.2 151.8 223.4 163.2 215.7 167.5 227.4 152.7 226.5 156.1 218.8 167.1 228.2 153.3 224.2 158.1 231.8 154.0 218.0 154.3 226.2 160.4 229.0 168.0 218.1 157.5 230.1 171.8 222.4 157.9 229.2 153.6 216.1 160.7 225.5 160.3 212.2 161.0 220.8 162.4 217.7 173.7 220.6 175.0 224.7 176.4 221.8 162.0 220.8 156.1 230.4 155.6 224.3 166.2 230.2 153.0 219.2 166.9 216.2 154.0 220.8 156.7 219.8 160.5 223.7 164.0 216.8 165.4 221.2 162.6 222.0 155.5 223.0 170.5 224.3 168.3 217.5 160.8 217.1 162.4 221.1 165.1 215.9 152.7 231.8 158.4 233.6 159.6 216.1 159.0 226.8 164.8 208.8 164.3 214.6 158.2 224.5 166.9 211.9 147.5 224.3 164.0 228.3 179.9 218.8 169.5 217.3 164.8 220.4 177.3 215.2 167.6 217.0 159.7 225.1 169.7 219.9 169.6 221.5 155.5 226.9 158.1 229.1 151.2 220.5 167.0 216.6 149.4 231.0 162.7 236.7 164.0 225.8 164.0 212.5 169.5 234.0 173.9 218.2 169.5 216.3 163.9 224.6 161.4 216.0 169.1 213.6 168.8 227.4 153.7 225.2 168.6 219.4 160.1 220.4 158.5 221.3 163.4 223.1 156.1 212.4 157.5 223.5 160.0 218.2" fill="none" stroke="none" marker-start="url(#k8)" marker-mid="url(#k8)" marker-end="url(#k8)"/>
<path d="M192.6 195.0 200.0 195.3 192.5 198.2 191.8 200.6 192.4 197.2 188.9 196.4 197.3 203.0 188.1 198.6 192.5 197.6 190.2 196.0 193.7 199.4 195.0 195.7 190.9 195.4 188.5 197.8 197.4 198.6 197.3 199.8 194.5 195.8 189.2 194.2 194.2 206.2" fill="none" stroke="none" marker-start="url(#k3)" marker-mid="url(#k3)" marker-end="url(#k3)"/>
<polyline points="579.5,379.5 436.4,292.4 365.8,202.6 509.8,58.8 705.6,131.6" fill="none" stroke="#222" stroke-width="1.1"/>
<polyline points="509.8,58.8 520.5,181.0 647.5,240.2" fill="none" stroke="#222" stroke-width="1.1"/>
<polyline points="520.5,181.0 436.4,292.4" fill="none" stroke="#222" stroke-width="1.1"/>
<polyline points="705.6,131.6 647.5,240.2 579.5,379.5" fill="none" stroke="#222" stroke-width="1.1"/>
<polyline points="705.6,131.6 702.0,140.0 608.0,336.0 579.5,379.5" fill="none" stroke="#222" stroke-width="1.1"/>
<path d="M554.5 181 C548 170 530 164 506 164" fill="none" stroke="#f7a8dc" stroke-width="3.0" stroke-linecap="round"/>
<path d="M498.0 163.9Q507.6 161.6 517.2 158.3L513.2 164.4L516.8 170.7Q507.4 166.8 498.0 163.9Z" fill="#f7a8dc"/>
<path d="M550 211.4 C535 208 520 193 501 179" fill="none" stroke="#f7a8dc" stroke-width="3.0" stroke-linecap="round"/>
<path d="M494.6 176.3Q504.3 178.2 514.4 179.3L508.2 183.1L508.8 190.3Q501.9 182.9 494.6 176.3Z" fill="#f7a8dc"/>
<path d="M510.4 218 C496 212 489 200 489 189" fill="none" stroke="#f7a8dc" stroke-width="3.0" stroke-linecap="round"/>
<path d="M487.8 182.4Q491.8 191.4 496.9 200.2L490.1 197.4L484.6 202.1Q486.7 192.2 487.8 182.4Z" fill="#f7a8dc"/>
<line x1="444.9" y1="246.4" x2="536.4" y2="209.1" stroke="#55f0b8" stroke-width="2.6"/>
<line x1="466.3" y1="240.7" x2="520.6" y2="219.3" stroke="#ff1af0" stroke-width="2.6"/>
<path d="M561 199 C553 180 546 150 545.6 122" fill="none" stroke="#50f000" stroke-width="2.8" stroke-linecap="round"/>
<path d="M545.5 113.5Q548.2 123.0 551.9 132.4L545.6 128.7L539.5 132.5Q543.0 123.0 545.5 113.5Z" fill="#50f000"/>
<path d="M567.5 203 C561 178 551 150 550.6 123" fill="none" stroke="#ff1a1a" stroke-width="2.8" stroke-linecap="round"/>
<path d="M550.5 114.2Q553.2 123.7 556.9 133.1L550.6 129.4L544.5 133.3Q548.0 123.7 550.5 114.2Z" fill="#ff1a1a"/>
<path d="M513 222 C502 235 504 260 522 276" fill="none" stroke="#8a5ac0" stroke-width="3.0" stroke-linecap="round"/>
<path d="M527.3 282.7Q519.4 276.8 510.8 271.5L518.0 270.7L520.6 263.9Q523.5 273.6 527.3 282.7Z" fill="#8a5ac0"/>
<path d="M549.9 220.5 C540 237 535 255 537 274" fill="none" stroke="#8a5ac0" stroke-width="3.0" stroke-linecap="round"/>
<path d="M537.5 282.7Q534.2 273.4 529.8 264.2L536.3 267.5L542.2 263.3Q539.4 273.0 537.5 282.7Z" fill="#8a5ac0"/>
<path d="M574.7 228.4 C572 248 565 260 553 274" fill="none" stroke="#8a5ac0" stroke-width="3.0" stroke-linecap="round"/>
<path d="M549.9 281.5Q552.1 271.9 553.3 261.8L557.0 268.1L564.3 267.6Q556.7 274.3 549.9 281.5Z" fill="#8a5ac0"/>
<path d="M568 206 C572 235 585 260 608 280" fill="none" stroke="#2244ff" stroke-width="3.0" stroke-linecap="round"/>
<path d="M614.3 286.0Q605.6 281.5 596.1 277.7L603.1 275.7L604.5 268.6Q609.1 277.6 614.3 286.0Z" fill="#2244ff"/>
<circle cx="566.8" cy="204.5" r="11.3" fill="#e6ef1a" stroke="#222" stroke-width="1.2"/>
<path d="M561 199 L556 188" stroke="#50f000" stroke-width="2.4"/>
<path d="M567.5 203 L563 190" stroke="#ff1a1a" stroke-width="2.4"/>
<path d="M568 206 L570 216" stroke="#2244ff" stroke-width="2.2"/>
<line x1="567" y1="205.5" x2="548" y2="217" stroke="#8b0f1a" stroke-width="3"/>
<path d="M540.9 221.5Q545.8 215.1 550.1 207.8L551.2 215.3L557.4 219.7Q548.8 220.1 540.9 221.5Z" fill="#8b0f1a"/>
<line x1="552.2" y1="219.3" x2="523" y2="235.6" stroke="#000" stroke-width="2.5"/>
<path d="M516.0 239.6Q521.2 233.6 525.9 226.6L526.5 233.7L532.3 237.9Q523.9 238.3 516.0 239.6Z" fill="#000"/>
<text x="541.4" y="105.8" font-size="12.5" text-anchor="start" textLength="27.6" lengthAdjust="spacingAndGlyphs" fill="#1a1a1a" stroke="#1a1a1a" stroke-width="0.3">Pine</text>
<text x="432.8" y="154.4" font-size="12.5" text-anchor="start" textLength="79.5" lengthAdjust="spacingAndGlyphs" fill="#1a1a1a" stroke="#1a1a1a" stroke-width="0.3">convergence</text>
<text x="448.6" y="170.2" font-size="12.5" text-anchor="start" textLength="46.8" lengthAdjust="spacingAndGlyphs" fill="#1a1a1a" stroke="#1a1a1a" stroke-width="0.3">module</text>
<text x="567.3" y="190.6" font-size="12.5" text-anchor="start" textLength="69.5" lengthAdjust="spacingAndGlyphs" fill="#1a1a1a" stroke="#1a1a1a" stroke-width="0.3">divergence</text>
<text x="583.3" y="206.4" font-size="12.5" text-anchor="start" textLength="36.5" lengthAdjust="spacingAndGlyphs" fill="#1a1a1a" stroke="#1a1a1a" stroke-width="0.3">origin</text>
<text x="602.3" y="265.7" font-size="12.5" text-anchor="start" textLength="25.2" lengthAdjust="spacingAndGlyphs" fill="#1a1a1a" stroke="#1a1a1a" stroke-width="0.3">Oak</text>
<text x="502.8" y="293.3" font-size="12.5" text-anchor="start" textLength="80.5" lengthAdjust="spacingAndGlyphs" fill="#1a1a1a" stroke="#1a1a1a" stroke-width="0.3">convergence</text>
<text x="519.7" y="308.6" font-size="12.5" text-anchor="start" textLength="46.8" lengthAdjust="spacingAndGlyphs" fill="#1a1a1a" stroke="#1a1a1a" stroke-width="0.3">module</text>
<text x="0" y="0" font-size="12.5" textLength="36" lengthAdjust="spacingAndGlyphs" fill="#1a1a1a" stroke="#1a1a1a" stroke-width="0.3" transform="translate(430,248) rotate(-22)">Grass</text>
<text x="0" y="0" font-size="12.5" textLength="38" lengthAdjust="spacingAndGlyphs" fill="#1a1a1a" stroke="#1a1a1a" stroke-width="0.3" transform="translate(525,253) rotate(-26)">Beech</text>
<text x="9.0" y="24.0" font-size="27.5" text-anchor="start" font-weight="bold" fill="#000">a</text>
<text x="36.8" y="17.9" font-size="18.5" text-anchor="start" textLength="253.0" lengthAdjust="spacingAndGlyphs" fill="#1a1a1a" stroke="#1a1a1a" stroke-width="0.3">weighted correlation network</text>
<text x="36.8" y="38.4" font-size="18.5" text-anchor="start" textLength="320.2" lengthAdjust="spacingAndGlyphs" fill="#1a1a1a" stroke="#1a1a1a" stroke-width="0.3">of 6,999 dissolved organic molecules</text>
<text x="413.0" y="19.8" font-size="27" text-anchor="start" font-weight="bold" fill="#000">c</text>
<text x="441.6" y="14.7" font-size="18.5" text-anchor="start" textLength="215.9" lengthAdjust="spacingAndGlyphs" fill="#1a1a1a" stroke="#1a1a1a" stroke-width="0.3">simultaneous divergence</text>
<text x="441.6" y="36.2" font-size="18.5" text-anchor="start" textLength="148.4" lengthAdjust="spacingAndGlyphs" fill="#1a1a1a" stroke="#1a1a1a" stroke-width="0.3">and convergence</text>
<text x="10.3" y="419.6" font-size="27.5" text-anchor="start" font-weight="bold" fill="#000">b</text>
<text x="52.6" y="408.0" font-size="18.5" text-anchor="start" textLength="543.2" lengthAdjust="spacingAndGlyphs" fill="#1a1a1a" stroke="#1a1a1a" stroke-width="0.3">contributions of individual plant litter types to the formation of</text>
<text x="52.6" y="429.3" font-size="18.5" text-anchor="start" textLength="510.2" lengthAdjust="spacingAndGlyphs" fill="#1a1a1a" stroke="#1a1a1a" stroke-width="0.3">molecular subnetworks over three weeks of decomposition</text>
<rect x="53.60" y="443.60" width="321.00" height="20.5" fill="#fff" stroke="#111" stroke-width="1.35"/>
<text x="164.0" y="458.4" font-size="14.5" text-anchor="start" textLength="96.1" lengthAdjust="spacingAndGlyphs" fill="#111">black (n=534)</text>
<rect x="68.31" y="540.80" width="6.5" height="7.91" fill="#000000"/>
<rect x="75.62" y="540.80" width="6.5" height="7.91" fill="#3d3d3d"/>
<rect x="82.93" y="537.98" width="6.5" height="2.83" fill="#000000"/>
<rect x="90.24" y="540.80" width="6.5" height="2.83" fill="#3d3d3d"/>
<rect x="97.55" y="514.81" width="6.5" height="25.99" fill="#000000"/>
<rect x="104.86" y="529.50" width="6.5" height="11.30" fill="#3d3d3d"/>
<rect x="112.17" y="507.61" width="6.5" height="33.19" fill="#000000"/>
<rect x="119.47" y="509.16" width="6.5" height="31.64" fill="#3d3d3d"/>
<rect x="126.78" y="505.21" width="6.5" height="35.60" fill="#000000"/>
<rect x="134.09" y="507.32" width="6.5" height="33.48" fill="#3d3d3d"/>
<rect x="141.41" y="536.28" width="6.5" height="4.52" fill="#000000"/>
<rect x="148.72" y="540.80" width="6.5" height="0.71" fill="#3d3d3d"/>
<rect x="156.03" y="540.80" width="6.5" height="1.41" fill="#000000"/>
<rect x="163.34" y="540.80" width="6.5" height="2.83" fill="#3d3d3d"/>
<rect x="170.65" y="540.80" width="6.5" height="1.41" fill="#000000"/>
<rect x="177.96" y="540.80" width="6.5" height="4.24" fill="#3d3d3d"/>
<rect x="185.27" y="538.12" width="6.5" height="2.68" fill="#000000"/>
<rect x="192.58" y="540.80" width="6.5" height="0.71" fill="#3d3d3d"/>
<rect x="199.88" y="535.86" width="6.5" height="4.94" fill="#000000"/>
<rect x="207.19" y="539.39" width="6.5" height="1.41" fill="#3d3d3d"/>
<rect x="214.50" y="540.80" width="6.5" height="9.04" fill="#000000"/>
<rect x="221.81" y="540.80" width="6.5" height="5.65" fill="#3d3d3d"/>
<rect x="229.12" y="540.80" width="6.5" height="9.75" fill="#000000"/>
<rect x="236.44" y="540.80" width="6.5" height="6.78" fill="#3d3d3d"/>
<rect x="243.75" y="540.80" width="6.5" height="10.17" fill="#000000"/>
<rect x="251.06" y="540.80" width="6.5" height="6.78" fill="#3d3d3d"/>
<rect x="258.37" y="540.80" width="6.5" height="9.75" fill="#000000"/>
<rect x="265.67" y="540.80" width="6.5" height="6.22" fill="#3d3d3d"/>
<rect x="272.98" y="540.80" width="6.5" height="9.04" fill="#000000"/>
<rect x="280.29" y="540.80" width="6.5" height="5.65" fill="#3d3d3d"/>
<rect x="287.60" y="540.80" width="6.5" height="9.04" fill="#000000"/>
<rect x="294.91" y="540.80" width="6.5" height="10.17" fill="#3d3d3d"/>
<rect x="302.22" y="540.80" width="6.5" height="10.17" fill="#000000"/>
<rect x="309.53" y="540.80" width="6.5" height="8.48" fill="#3d3d3d"/>
<rect x="316.84" y="540.80" width="6.5" height="10.17" fill="#000000"/>
<rect x="324.15" y="540.80" width="6.5" height="10.17" fill="#3d3d3d"/>
<rect x="331.46" y="540.80" width="6.5" height="7.49" fill="#000000"/>
<rect x="338.77" y="540.80" width="6.5" height="7.49" fill="#3d3d3d"/>
<rect x="346.08" y="540.80" width="6.5" height="9.04" fill="#000000"/>
<rect x="353.39" y="540.80" width="6.5" height="6.78" fill="#3d3d3d"/>
<path d="M68.51 548.00H74.61M68.51 549.42H74.61M71.56 548.00V549.42" stroke="#111" stroke-width="1.4"/>
<path d="M75.82 548.00H81.92M75.82 549.42H81.92M78.87 548.00V549.42" stroke="#111" stroke-width="1.4"/>
<path d="M83.13 537.27H89.23M83.13 538.68H89.23M86.18 537.27V538.68" stroke="#111" stroke-width="1.4"/>
<path d="M90.44 542.21H96.54M90.44 545.04H96.54M93.49 542.21V545.04" stroke="#111" stroke-width="1.4"/>
<path d="M97.75 514.10H103.84M97.75 515.52H103.84M100.80 514.10V515.52" stroke="#111" stroke-width="1.4"/>
<path d="M105.06 527.38H111.16M105.06 531.62H111.16M108.11 527.38V531.62" stroke="#111" stroke-width="1.4"/>
<path d="M112.37 506.19H118.47M112.37 509.02H118.47M115.42 506.19V509.02" stroke="#111" stroke-width="1.4"/>
<path d="M119.67 507.75H125.77M119.67 510.57H125.77M122.72 507.75V510.57" stroke="#111" stroke-width="1.4"/>
<path d="M126.98 503.79H133.09M126.98 506.62H133.09M130.03 503.79V506.62" stroke="#111" stroke-width="1.4"/>
<path d="M134.29 505.91H140.40M134.29 508.74H140.40M137.34 505.91V508.74" stroke="#111" stroke-width="1.4"/>
<path d="M141.60 535.57H147.71M141.60 536.99H147.71M144.66 535.57V536.99" stroke="#111" stroke-width="1.4"/>
<path d="M148.91 540.80H155.02M148.91 542.21H155.02M151.97 540.80V542.21" stroke="#111" stroke-width="1.4"/>
<path d="M156.22 540.80H162.33M156.22 543.63H162.33M159.28 540.80V543.63" stroke="#111" stroke-width="1.4"/>
<path d="M163.53 542.92H169.64M163.53 544.33H169.64M166.59 542.92V544.33" stroke="#111" stroke-width="1.4"/>
<path d="M170.84 540.52H176.95M170.84 543.91H176.95M173.90 540.52V543.91" stroke="#111" stroke-width="1.4"/>
<path d="M178.16 544.33H184.26M178.16 545.74H184.26M181.21 544.33V545.74" stroke="#111" stroke-width="1.4"/>
<path d="M185.47 537.41H191.57M185.47 538.82H191.57M188.52 537.41V538.82" stroke="#111" stroke-width="1.4"/>
<path d="M192.78 540.80H198.88M192.78 542.21H198.88M195.83 540.80V542.21" stroke="#111" stroke-width="1.4"/>
<path d="M200.08 535.15H206.19M200.08 536.56H206.19M203.13 535.15V536.56" stroke="#111" stroke-width="1.4"/>
<path d="M207.39 538.68H213.50M207.39 540.09H213.50M210.44 538.68V540.09" stroke="#111" stroke-width="1.4"/>
<path d="M214.70 549.13H220.81M214.70 550.55H220.81M217.75 549.13V550.55" stroke="#111" stroke-width="1.4"/>
<path d="M222.01 545.74H228.12M222.01 547.16H228.12M225.06 545.74V547.16" stroke="#111" stroke-width="1.4"/>
<path d="M229.32 549.84H235.43M229.32 551.25H235.43M232.38 549.84V551.25" stroke="#111" stroke-width="1.4"/>
<path d="M236.63 546.87H242.74M236.63 548.29H242.74M239.69 546.87V548.29" stroke="#111" stroke-width="1.4"/>
<path d="M243.94 550.26H250.05M243.94 551.68H250.05M247.00 550.26V551.68" stroke="#111" stroke-width="1.4"/>
<path d="M251.25 546.87H257.36M251.25 548.29H257.36M254.31 546.87V548.29" stroke="#111" stroke-width="1.4"/>
<path d="M258.56 549.84H264.67M258.56 551.25H264.67M261.62 549.84V551.25" stroke="#111" stroke-width="1.4"/>
<path d="M265.87 546.31H271.97M265.87 547.72H271.97M268.92 546.31V547.72" stroke="#111" stroke-width="1.4"/>
<path d="M273.18 549.13H279.28M273.18 550.55H279.28M276.23 549.13V550.55" stroke="#111" stroke-width="1.4"/>
<path d="M280.49 545.74H286.59M280.49 547.16H286.59M283.54 545.74V547.16" stroke="#111" stroke-width="1.4"/>
<path d="M287.80 549.13H293.90M287.80 550.55H293.90M290.85 549.13V550.55" stroke="#111" stroke-width="1.4"/>
<path d="M295.11 550.26H301.21M295.11 551.68H301.21M298.16 550.26V551.68" stroke="#111" stroke-width="1.4"/>
<path d="M302.42 550.26H308.52M302.42 551.68H308.52M305.47 550.26V551.68" stroke="#111" stroke-width="1.4"/>
<path d="M309.73 548.57H315.83M309.73 549.98H315.83M312.78 548.57V549.98" stroke="#111" stroke-width="1.4"/>
<path d="M317.04 550.26H323.14M317.04 551.68H323.14M320.09 550.26V551.68" stroke="#111" stroke-width="1.4"/>
<path d="M324.35 550.26H330.45M324.35 551.68H330.45M327.40 550.26V551.68" stroke="#111" stroke-width="1.4"/>
<path d="M331.66 547.58H337.76M331.66 548.99H337.76M334.71 547.58V548.99" stroke="#111" stroke-width="1.4"/>
<path d="M338.97 547.58H345.07M338.97 548.99H345.07M342.02 547.58V548.99" stroke="#111" stroke-width="1.4"/>
<path d="M346.28 549.13H352.38M346.28 550.55H352.38M349.33 549.13V550.55" stroke="#111" stroke-width="1.4"/>
<path d="M353.59 546.87H359.69M353.59 548.29H359.69M356.64 546.87V548.29" stroke="#111" stroke-width="1.4"/>
<line x1="141.00" y1="464.10" x2="141.00" y2="563.10" stroke="#111" stroke-width="1.3"/>
<line x1="214.10" y1="464.10" x2="214.10" y2="563.10" stroke="#111" stroke-width="1.3"/>
<line x1="287.20" y1="464.10" x2="287.20" y2="563.10" stroke="#111" stroke-width="1.3"/>
<text x="73.3" y="483.5" font-size="14" text-anchor="start" textLength="47.4" lengthAdjust="spacingAndGlyphs" fill="#111">Beech</text>
<text x="153.2" y="483.5" font-size="14" text-anchor="start" textLength="45.1" lengthAdjust="spacingAndGlyphs" fill="#111">Grass</text>
<text x="234.9" y="483.5" font-size="14" text-anchor="start" textLength="31.6" lengthAdjust="spacingAndGlyphs" fill="#111">Oak</text>
<text x="310.9" y="483.5" font-size="14" text-anchor="start" textLength="34.1" lengthAdjust="spacingAndGlyphs" fill="#111">Pine</text>
<line x1="53.60" y1="464.10" x2="53.60" y2="563.10" stroke="#111" stroke-width="1.35"/>
<line x1="49.80" y1="540.80" x2="53.60" y2="540.80" stroke="#111" stroke-width="1.3"/>
<text x="45.6" y="546.1" font-size="15" text-anchor="end" textLength="22.6" lengthAdjust="spacingAndGlyphs" fill="#111">0.0</text>
<line x1="49.80" y1="512.55" x2="53.60" y2="512.55" stroke="#111" stroke-width="1.3"/>
<text x="45.6" y="517.8" font-size="15" text-anchor="end" textLength="22.6" lengthAdjust="spacingAndGlyphs" fill="#111">0.2</text>
<line x1="49.80" y1="484.30" x2="53.60" y2="484.30" stroke="#111" stroke-width="1.3"/>
<text x="45.6" y="489.6" font-size="15" text-anchor="end" textLength="22.6" lengthAdjust="spacingAndGlyphs" fill="#111">0.4</text>
<rect x="382.60" y="443.60" width="321.00" height="20.5" fill="#fff" stroke="#111" stroke-width="1.35"/>
<text x="494.2" y="458.4" font-size="14.5" text-anchor="start" textLength="96.9" lengthAdjust="spacingAndGlyphs" fill="#111">blue (n=1269)</text>
<rect x="397.31" y="540.80" width="6.5" height="7.06" fill="#1f35ff"/>
<rect x="404.62" y="540.80" width="6.5" height="8.19" fill="#7f8ef2"/>
<rect x="411.93" y="540.80" width="6.5" height="6.50" fill="#1f35ff"/>
<rect x="419.24" y="540.80" width="6.5" height="8.19" fill="#7f8ef2"/>
<rect x="426.55" y="540.80" width="6.5" height="3.67" fill="#1f35ff"/>
<rect x="433.86" y="540.80" width="6.5" height="6.50" fill="#7f8ef2"/>
<rect x="441.17" y="540.80" width="6.5" height="2.12" fill="#1f35ff"/>
<rect x="448.48" y="540.80" width="6.5" height="4.80" fill="#7f8ef2"/>
<rect x="455.79" y="540.09" width="6.5" height="0.71" fill="#1f35ff"/>
<rect x="463.10" y="540.80" width="6.5" height="3.67" fill="#7f8ef2"/>
<rect x="470.40" y="540.80" width="6.5" height="7.06" fill="#1f35ff"/>
<rect x="477.72" y="540.80" width="6.5" height="7.06" fill="#7f8ef2"/>
<rect x="485.02" y="540.80" width="6.5" height="7.06" fill="#1f35ff"/>
<rect x="492.34" y="540.80" width="6.5" height="7.06" fill="#7f8ef2"/>
<rect x="499.64" y="540.80" width="6.5" height="5.65" fill="#1f35ff"/>
<rect x="506.95" y="540.80" width="6.5" height="7.06" fill="#7f8ef2"/>
<rect x="514.26" y="540.80" width="6.5" height="2.83" fill="#1f35ff"/>
<rect x="521.58" y="540.80" width="6.5" height="5.65" fill="#7f8ef2"/>
<rect x="528.88" y="540.80" width="6.5" height="1.41" fill="#1f35ff"/>
<rect x="536.19" y="540.80" width="6.5" height="5.65" fill="#7f8ef2"/>
<rect x="543.50" y="540.80" width="6.5" height="5.23" fill="#1f35ff"/>
<rect x="550.82" y="538.82" width="6.5" height="1.98" fill="#7f8ef2"/>
<rect x="558.12" y="526.96" width="6.5" height="13.84" fill="#1f35ff"/>
<rect x="565.43" y="524.13" width="6.5" height="16.67" fill="#7f8ef2"/>
<rect x="572.75" y="507.47" width="6.5" height="33.33" fill="#1f35ff"/>
<rect x="580.06" y="521.73" width="6.5" height="19.07" fill="#7f8ef2"/>
<rect x="587.37" y="510.29" width="6.5" height="30.51" fill="#1f35ff"/>
<rect x="594.67" y="513.40" width="6.5" height="27.40" fill="#7f8ef2"/>
<rect x="601.99" y="512.55" width="6.5" height="28.25" fill="#1f35ff"/>
<rect x="609.29" y="513.96" width="6.5" height="26.84" fill="#7f8ef2"/>
<rect x="616.61" y="540.80" width="6.5" height="9.18" fill="#1f35ff"/>
<rect x="623.91" y="540.80" width="6.5" height="9.18" fill="#7f8ef2"/>
<rect x="631.23" y="540.80" width="6.5" height="9.18" fill="#1f35ff"/>
<rect x="638.53" y="540.80" width="6.5" height="9.18" fill="#7f8ef2"/>
<rect x="645.85" y="540.80" width="6.5" height="9.18" fill="#1f35ff"/>
<rect x="653.15" y="540.80" width="6.5" height="9.18" fill="#7f8ef2"/>
<rect x="660.46" y="540.80" width="6.5" height="9.18" fill="#1f35ff"/>
<rect x="667.77" y="540.80" width="6.5" height="9.18" fill="#7f8ef2"/>
<rect x="675.09" y="540.80" width="6.5" height="9.18" fill="#1f35ff"/>
<rect x="682.39" y="540.80" width="6.5" height="9.18" fill="#7f8ef2"/>
<path d="M397.50 547.16H403.61M397.50 548.57H403.61M400.56 547.16V548.57" stroke="#111" stroke-width="1.4"/>
<path d="M404.81 548.29H410.92M404.81 549.70H410.92M407.87 548.29V549.70" stroke="#111" stroke-width="1.4"/>
<path d="M412.12 546.59H418.23M412.12 548.00H418.23M415.18 546.59V548.00" stroke="#111" stroke-width="1.4"/>
<path d="M419.44 548.29H425.54M419.44 549.70H425.54M422.49 548.29V549.70" stroke="#111" stroke-width="1.4"/>
<path d="M426.75 543.34H432.85M426.75 545.60H432.85M429.80 543.34V545.60" stroke="#111" stroke-width="1.4"/>
<path d="M434.06 546.59H440.16M434.06 548.00H440.16M437.11 546.59V548.00" stroke="#111" stroke-width="1.4"/>
<path d="M441.37 542.21H447.47M441.37 543.63H447.47M444.42 542.21V543.63" stroke="#111" stroke-width="1.4"/>
<path d="M448.68 544.90H454.78M448.68 546.31H454.78M451.73 544.90V546.31" stroke="#111" stroke-width="1.4"/>
<path d="M455.99 539.39H462.09M455.99 540.80H462.09M459.04 539.39V540.80" stroke="#111" stroke-width="1.4"/>
<path d="M463.30 543.77H469.40M463.30 545.18H469.40M466.35 543.77V545.18" stroke="#111" stroke-width="1.4"/>
<path d="M470.60 547.16H476.70M470.60 548.57H476.70M473.65 547.16V548.57" stroke="#111" stroke-width="1.4"/>
<path d="M477.92 547.16H484.02M477.92 548.57H484.02M480.97 547.16V548.57" stroke="#111" stroke-width="1.4"/>
<path d="M485.22 547.16H491.32M485.22 548.57H491.32M488.27 547.16V548.57" stroke="#111" stroke-width="1.4"/>
<path d="M492.54 547.16H498.64M492.54 548.57H498.64M495.59 547.16V548.57" stroke="#111" stroke-width="1.4"/>
<path d="M499.84 545.74H505.94M499.84 547.16H505.94M502.89 545.74V547.16" stroke="#111" stroke-width="1.4"/>
<path d="M507.15 547.16H513.25M507.15 548.57H513.25M510.20 547.16V548.57" stroke="#111" stroke-width="1.4"/>
<path d="M514.47 542.92H520.56M514.47 544.33H520.56M517.51 542.92V544.33" stroke="#111" stroke-width="1.4"/>
<path d="M521.78 545.74H527.88M521.78 547.16H527.88M524.83 545.74V547.16" stroke="#111" stroke-width="1.4"/>
<path d="M529.09 541.08H535.18M529.09 543.34H535.18M532.13 541.08V543.34" stroke="#111" stroke-width="1.4"/>
<path d="M536.39 545.74H542.49M536.39 547.16H542.49M539.44 545.74V547.16" stroke="#111" stroke-width="1.4"/>
<path d="M543.71 545.32H549.80M543.71 546.73H549.80M546.75 545.32V546.73" stroke="#111" stroke-width="1.4"/>
<path d="M551.02 538.12H557.12M551.02 539.53H557.12M554.07 538.12V539.53" stroke="#111" stroke-width="1.4"/>
<path d="M558.33 523.43H564.42M558.33 530.49H564.42M561.38 523.43V530.49" stroke="#111" stroke-width="1.4"/>
<path d="M565.63 522.72H571.73M565.63 525.55H571.73M568.68 522.72V525.55" stroke="#111" stroke-width="1.4"/>
<path d="M572.95 506.76H579.04M572.95 508.17H579.04M576.00 506.76V508.17" stroke="#111" stroke-width="1.4"/>
<path d="M580.26 520.32H586.36M580.26 523.14H586.36M583.31 520.32V523.14" stroke="#111" stroke-width="1.4"/>
<path d="M587.57 504.36H593.66M587.57 516.22H593.66M590.62 504.36V516.22" stroke="#111" stroke-width="1.4"/>
<path d="M594.88 512.69H600.97M594.88 514.10H600.97M597.92 512.69V514.10" stroke="#111" stroke-width="1.4"/>
<path d="M602.19 506.62H608.28M602.19 518.48H608.28M605.24 506.62V518.48" stroke="#111" stroke-width="1.4"/>
<path d="M609.50 512.55H615.59M609.50 515.38H615.59M612.54 512.55V515.38" stroke="#111" stroke-width="1.4"/>
<path d="M616.81 549.28H622.90M616.81 550.69H622.90M619.86 549.28V550.69" stroke="#111" stroke-width="1.4"/>
<path d="M624.12 549.28H630.21M624.12 550.69H630.21M627.16 549.28V550.69" stroke="#111" stroke-width="1.4"/>
<path d="M631.43 549.28H637.52M631.43 550.69H637.52M634.48 549.28V550.69" stroke="#111" stroke-width="1.4"/>
<path d="M638.74 549.28H644.83M638.74 550.69H644.83M641.78 549.28V550.69" stroke="#111" stroke-width="1.4"/>
<path d="M646.05 549.28H652.14M646.05 550.69H652.14M649.10 549.28V550.69" stroke="#111" stroke-width="1.4"/>
<path d="M653.36 549.28H659.45M653.36 550.69H659.45M656.40 549.28V550.69" stroke="#111" stroke-width="1.4"/>
<path d="M660.66 549.28H666.76M660.66 550.69H666.76M663.71 549.28V550.69" stroke="#111" stroke-width="1.4"/>
<path d="M667.98 549.28H674.07M667.98 550.69H674.07M671.02 549.28V550.69" stroke="#111" stroke-width="1.4"/>
<path d="M675.29 549.28H681.38M675.29 550.69H681.38M678.34 549.28V550.69" stroke="#111" stroke-width="1.4"/>
<path d="M682.60 549.28H688.69M682.60 550.69H688.69M685.64 549.28V550.69" stroke="#111" stroke-width="1.4"/>
<line x1="470.00" y1="464.10" x2="470.00" y2="563.10" stroke="#111" stroke-width="1.3"/>
<line x1="543.10" y1="464.10" x2="543.10" y2="563.10" stroke="#111" stroke-width="1.3"/>
<line x1="616.20" y1="464.10" x2="616.20" y2="563.10" stroke="#111" stroke-width="1.3"/>
<text x="400.3" y="481.5" font-size="14" text-anchor="start" textLength="47.4" lengthAdjust="spacingAndGlyphs" fill="#111">Beech</text>
<text x="480.2" y="481.5" font-size="14" text-anchor="start" textLength="45.1" lengthAdjust="spacingAndGlyphs" fill="#111">Grass</text>
<text x="561.9" y="481.5" font-size="14" text-anchor="start" textLength="31.6" lengthAdjust="spacingAndGlyphs" fill="#111">Oak</text>
<text x="637.9" y="481.5" font-size="14" text-anchor="start" textLength="34.1" lengthAdjust="spacingAndGlyphs" fill="#111">Pine</text>
<rect x="53.60" y="569.75" width="321.00" height="20.5" fill="#fff" stroke="#111" stroke-width="1.35"/>
<text x="156.9" y="584.5" font-size="14.5" text-anchor="start" textLength="102.9" lengthAdjust="spacingAndGlyphs" fill="#111">brown (n=679)</text>
<rect x="68.31" y="642.94" width="6.5" height="24.01" fill="#a3102c"/>
<rect x="75.62" y="635.17" width="6.5" height="31.78" fill="#d16f80"/>
<rect x="82.93" y="622.46" width="6.5" height="44.49" fill="#a3102c"/>
<rect x="90.24" y="628.81" width="6.5" height="38.14" fill="#d16f80"/>
<rect x="97.55" y="655.23" width="6.5" height="11.72" fill="#a3102c"/>
<rect x="104.86" y="651.70" width="6.5" height="15.25" fill="#d16f80"/>
<rect x="112.17" y="666.95" width="6.5" height="2.54" fill="#a3102c"/>
<rect x="119.47" y="666.24" width="6.5" height="0.71" fill="#d16f80"/>
<rect x="126.78" y="666.95" width="6.5" height="2.12" fill="#a3102c"/>
<rect x="134.09" y="666.95" width="6.5" height="0.71" fill="#d16f80"/>
<rect x="141.41" y="666.95" width="6.5" height="3.11" fill="#a3102c"/>
<rect x="148.72" y="666.95" width="6.5" height="3.81" fill="#d16f80"/>
<rect x="156.03" y="666.95" width="6.5" height="5.37" fill="#a3102c"/>
<rect x="163.34" y="666.95" width="6.5" height="5.37" fill="#d16f80"/>
<rect x="170.65" y="666.95" width="6.5" height="7.35" fill="#a3102c"/>
<rect x="177.96" y="666.95" width="6.5" height="6.07" fill="#d16f80"/>
<rect x="185.27" y="666.95" width="6.5" height="7.35" fill="#a3102c"/>
<rect x="192.58" y="666.95" width="6.5" height="4.94" fill="#d16f80"/>
<rect x="199.88" y="666.95" width="6.5" height="6.07" fill="#a3102c"/>
<rect x="207.19" y="666.95" width="6.5" height="3.81" fill="#d16f80"/>
<rect x="214.50" y="665.54" width="6.5" height="1.41" fill="#a3102c"/>
<rect x="221.81" y="666.24" width="6.5" height="0.71" fill="#d16f80"/>
<rect x="229.12" y="666.95" width="6.5" height="1.41" fill="#a3102c"/>
<rect x="236.44" y="666.95" width="6.5" height="2.83" fill="#d16f80"/>
<rect x="243.75" y="666.95" width="6.5" height="7.06" fill="#a3102c"/>
<rect x="251.06" y="666.95" width="6.5" height="5.65" fill="#d16f80"/>
<rect x="258.37" y="666.95" width="6.5" height="8.48" fill="#a3102c"/>
<rect x="265.67" y="666.95" width="6.5" height="8.48" fill="#d16f80"/>
<rect x="272.98" y="666.95" width="6.5" height="9.18" fill="#a3102c"/>
<rect x="280.29" y="666.95" width="6.5" height="8.48" fill="#d16f80"/>
<rect x="287.60" y="666.95" width="6.5" height="3.53" fill="#a3102c"/>
<rect x="294.91" y="666.95" width="6.5" height="6.36" fill="#d16f80"/>
<rect x="302.22" y="666.95" width="6.5" height="4.94" fill="#a3102c"/>
<rect x="309.53" y="666.95" width="6.5" height="4.24" fill="#d16f80"/>
<rect x="316.84" y="666.95" width="6.5" height="5.65" fill="#a3102c"/>
<rect x="324.15" y="666.95" width="6.5" height="7.06" fill="#d16f80"/>
<rect x="331.46" y="666.95" width="6.5" height="4.24" fill="#a3102c"/>
<rect x="338.77" y="666.95" width="6.5" height="4.94" fill="#d16f80"/>
<rect x="346.08" y="666.95" width="6.5" height="3.53" fill="#a3102c"/>
<rect x="353.39" y="666.95" width="6.5" height="5.65" fill="#d16f80"/>
<path d="M68.51 641.53H74.61M68.51 644.35H74.61M71.56 641.53V644.35" stroke="#111" stroke-width="1.4"/>
<path d="M75.82 634.46H81.92M75.82 635.88H81.92M78.87 634.46V635.88" stroke="#111" stroke-width="1.4"/>
<path d="M83.13 621.75H89.23M83.13 623.16H89.23M86.18 621.75V623.16" stroke="#111" stroke-width="1.4"/>
<path d="M90.44 627.40H96.54M90.44 630.23H96.54M93.49 627.40V630.23" stroke="#111" stroke-width="1.4"/>
<path d="M97.75 649.29H103.84M97.75 661.16H103.84M100.80 649.29V661.16" stroke="#111" stroke-width="1.4"/>
<path d="M105.06 646.61H111.16M105.06 656.78H111.16M108.11 646.61V656.78" stroke="#111" stroke-width="1.4"/>
<path d="M112.37 668.79H118.47M112.37 670.20H118.47M115.42 668.79V670.20" stroke="#111" stroke-width="1.4"/>
<path d="M119.67 664.83H125.77M119.67 667.66H125.77M122.72 664.83V667.66" stroke="#111" stroke-width="1.4"/>
<path d="M126.98 668.36H133.09M126.98 669.78H133.09M130.03 668.36V669.78" stroke="#111" stroke-width="1.4"/>
<path d="M134.29 666.95H140.40M134.29 668.36H140.40M137.34 666.95V668.36" stroke="#111" stroke-width="1.4"/>
<path d="M141.60 669.35H147.71M141.60 670.76H147.71M144.66 669.35V670.76" stroke="#111" stroke-width="1.4"/>
<path d="M148.91 670.06H155.02M148.91 671.47H155.02M151.97 670.06V671.47" stroke="#111" stroke-width="1.4"/>
<path d="M156.22 671.61H162.33M156.22 673.02H162.33M159.28 671.61V673.02" stroke="#111" stroke-width="1.4"/>
<path d="M163.53 671.61H169.64M163.53 673.02H169.64M166.59 671.61V673.02" stroke="#111" stroke-width="1.4"/>
<path d="M170.84 673.59H176.95M170.84 675.00H176.95M173.90 673.59V675.00" stroke="#111" stroke-width="1.4"/>
<path d="M178.16 672.32H184.26M178.16 673.73H184.26M181.21 672.32V673.73" stroke="#111" stroke-width="1.4"/>
<path d="M185.47 673.59H191.57M185.47 675.00H191.57M188.52 673.59V675.00" stroke="#111" stroke-width="1.4"/>
<path d="M192.78 671.19H198.88M192.78 672.60H198.88M195.83 671.19V672.60" stroke="#111" stroke-width="1.4"/>
<path d="M200.08 672.32H206.19M200.08 673.73H206.19M203.13 672.32V673.73" stroke="#111" stroke-width="1.4"/>
<path d="M207.39 670.06H213.50M207.39 671.47H213.50M210.44 670.06V671.47" stroke="#111" stroke-width="1.4"/>
<path d="M214.70 664.83H220.81M214.70 666.24H220.81M217.75 664.83V666.24" stroke="#111" stroke-width="1.4"/>
<path d="M222.01 665.54H228.12M222.01 666.95H228.12M225.06 665.54V666.95" stroke="#111" stroke-width="1.4"/>
<path d="M229.32 667.66H235.43M229.32 669.07H235.43M232.38 667.66V669.07" stroke="#111" stroke-width="1.4"/>
<path d="M236.63 669.07H242.74M236.63 670.48H242.74M239.69 669.07V670.48" stroke="#111" stroke-width="1.4"/>
<path d="M243.94 673.31H250.05M243.94 674.72H250.05M247.00 673.31V674.72" stroke="#111" stroke-width="1.4"/>
<path d="M251.25 671.89H257.36M251.25 673.31H257.36M254.31 671.89V673.31" stroke="#111" stroke-width="1.4"/>
<path d="M258.56 674.72H264.67M258.56 676.13H264.67M261.62 674.72V676.13" stroke="#111" stroke-width="1.4"/>
<path d="M265.87 674.72H271.97M265.87 676.13H271.97M268.92 674.72V676.13" stroke="#111" stroke-width="1.4"/>
<path d="M273.18 675.43H279.28M273.18 676.84H279.28M276.23 675.43V676.84" stroke="#111" stroke-width="1.4"/>
<path d="M280.49 674.72H286.59M280.49 676.13H286.59M283.54 674.72V676.13" stroke="#111" stroke-width="1.4"/>
<path d="M287.80 669.78H293.90M287.80 671.19H293.90M290.85 669.78V671.19" stroke="#111" stroke-width="1.4"/>
<path d="M295.11 672.60H301.21M295.11 674.01H301.21M298.16 672.60V674.01" stroke="#111" stroke-width="1.4"/>
<path d="M302.42 671.19H308.52M302.42 672.60H308.52M305.47 671.19V672.60" stroke="#111" stroke-width="1.4"/>
<path d="M309.73 670.48H315.83M309.73 671.89H315.83M312.78 670.48V671.89" stroke="#111" stroke-width="1.4"/>
<path d="M317.04 671.89H323.14M317.04 673.31H323.14M320.09 671.89V673.31" stroke="#111" stroke-width="1.4"/>
<path d="M324.35 673.31H330.45M324.35 674.72H330.45M327.40 673.31V674.72" stroke="#111" stroke-width="1.4"/>
<path d="M331.66 670.48H337.76M331.66 671.89H337.76M334.71 670.48V671.89" stroke="#111" stroke-width="1.4"/>
<path d="M338.97 671.19H345.07M338.97 672.60H345.07M342.02 671.19V672.60" stroke="#111" stroke-width="1.4"/>
<path d="M346.28 669.78H352.38M346.28 671.19H352.38M349.33 669.78V671.19" stroke="#111" stroke-width="1.4"/>
<path d="M353.59 671.89H359.69M353.59 673.31H359.69M356.64 671.89V673.31" stroke="#111" stroke-width="1.4"/>
<line x1="141.00" y1="590.25" x2="141.00" y2="689.25" stroke="#111" stroke-width="1.3"/>
<line x1="214.10" y1="590.25" x2="214.10" y2="689.25" stroke="#111" stroke-width="1.3"/>
<line x1="287.20" y1="590.25" x2="287.20" y2="689.25" stroke="#111" stroke-width="1.3"/>
<text x="73.3" y="608.4" font-size="14" text-anchor="start" textLength="47.4" lengthAdjust="spacingAndGlyphs" fill="#111">Beech</text>
<text x="153.2" y="608.4" font-size="14" text-anchor="start" textLength="45.1" lengthAdjust="spacingAndGlyphs" fill="#111">Grass</text>
<text x="234.9" y="608.4" font-size="14" text-anchor="start" textLength="31.6" lengthAdjust="spacingAndGlyphs" fill="#111">Oak</text>
<text x="310.9" y="608.4" font-size="14" text-anchor="start" textLength="34.1" lengthAdjust="spacingAndGlyphs" fill="#111">Pine</text>
<line x1="53.60" y1="590.25" x2="53.60" y2="689.25" stroke="#111" stroke-width="1.35"/>
<line x1="49.80" y1="666.95" x2="53.60" y2="666.95" stroke="#111" stroke-width="1.3"/>
<text x="45.6" y="672.2" font-size="15" text-anchor="end" textLength="22.6" lengthAdjust="spacingAndGlyphs" fill="#111">0.0</text>
<line x1="49.80" y1="638.70" x2="53.60" y2="638.70" stroke="#111" stroke-width="1.3"/>
<text x="45.6" y="644.0" font-size="15" text-anchor="end" textLength="22.6" lengthAdjust="spacingAndGlyphs" fill="#111">0.2</text>
<line x1="49.80" y1="610.45" x2="53.60" y2="610.45" stroke="#111" stroke-width="1.3"/>
<text x="45.6" y="615.7" font-size="15" text-anchor="end" textLength="22.6" lengthAdjust="spacingAndGlyphs" fill="#111">0.4</text>
<rect x="382.60" y="569.75" width="321.00" height="20.5" fill="#fff" stroke="#111" stroke-width="1.35"/>
<text x="489.8" y="584.5" font-size="14.5" text-anchor="start" textLength="99.8" lengthAdjust="spacingAndGlyphs" fill="#111">green (n=573)</text>
<rect x="397.31" y="666.95" width="6.5" height="8.48" fill="#4cf000"/>
<rect x="404.62" y="666.95" width="6.5" height="7.06" fill="#b9f8a2"/>
<rect x="411.93" y="666.95" width="6.5" height="2.12" fill="#4cf000"/>
<rect x="419.24" y="666.95" width="6.5" height="3.53" fill="#b9f8a2"/>
<rect x="426.55" y="666.95" width="6.5" height="2.12" fill="#4cf000"/>
<rect x="433.86" y="662.71" width="6.5" height="4.24" fill="#b9f8a2"/>
<rect x="441.17" y="666.95" width="6.5" height="5.65" fill="#4cf000"/>
<rect x="448.48" y="664.83" width="6.5" height="2.12" fill="#b9f8a2"/>
<rect x="455.79" y="666.95" width="6.5" height="4.94" fill="#4cf000"/>
<rect x="463.10" y="666.95" width="6.5" height="0.30" fill="#b9f8a2"/>
<rect x="470.40" y="663.42" width="6.5" height="3.53" fill="#4cf000"/>
<rect x="477.72" y="666.95" width="6.5" height="1.41" fill="#b9f8a2"/>
<rect x="485.02" y="666.95" width="6.5" height="0.30" fill="#4cf000"/>
<rect x="492.34" y="666.95" width="6.5" height="7.77" fill="#b9f8a2"/>
<rect x="499.64" y="665.54" width="6.5" height="1.41" fill="#4cf000"/>
<rect x="506.95" y="666.95" width="6.5" height="6.36" fill="#b9f8a2"/>
<rect x="514.26" y="666.95" width="6.5" height="0.30" fill="#4cf000"/>
<rect x="521.58" y="666.95" width="6.5" height="6.36" fill="#b9f8a2"/>
<rect x="528.88" y="666.24" width="6.5" height="0.71" fill="#4cf000"/>
<rect x="536.19" y="666.24" width="6.5" height="0.71" fill="#b9f8a2"/>
<rect x="543.50" y="666.95" width="6.5" height="10.59" fill="#4cf000"/>
<rect x="550.82" y="666.95" width="6.5" height="8.48" fill="#b9f8a2"/>
<rect x="558.12" y="666.95" width="6.5" height="11.30" fill="#4cf000"/>
<rect x="565.43" y="666.95" width="6.5" height="9.89" fill="#b9f8a2"/>
<rect x="572.75" y="666.95" width="6.5" height="12.01" fill="#4cf000"/>
<rect x="580.06" y="666.95" width="6.5" height="8.48" fill="#b9f8a2"/>
<rect x="587.37" y="666.95" width="6.5" height="11.30" fill="#4cf000"/>
<rect x="594.67" y="666.95" width="6.5" height="9.89" fill="#b9f8a2"/>
<rect x="601.99" y="666.95" width="6.5" height="9.89" fill="#4cf000"/>
<rect x="609.29" y="666.95" width="6.5" height="9.89" fill="#b9f8a2"/>
<rect x="616.61" y="666.95" width="6.5" height="2.12" fill="#4cf000"/>
<rect x="623.91" y="666.95" width="6.5" height="4.24" fill="#b9f8a2"/>
<rect x="631.23" y="665.54" width="6.5" height="1.41" fill="#4cf000"/>
<rect x="638.53" y="632.34" width="6.5" height="34.61" fill="#b9f8a2"/>
<rect x="645.85" y="661.30" width="6.5" height="5.65" fill="#4cf000"/>
<rect x="653.15" y="656.36" width="6.5" height="10.59" fill="#b9f8a2"/>
<rect x="660.46" y="647.18" width="6.5" height="19.77" fill="#4cf000"/>
<rect x="667.77" y="647.18" width="6.5" height="19.77" fill="#b9f8a2"/>
<rect x="675.09" y="617.51" width="6.5" height="49.44" fill="#4cf000"/>
<rect x="682.39" y="645.06" width="6.5" height="21.89" fill="#b9f8a2"/>
<path d="M397.50 674.72H403.61M397.50 676.13H403.61M400.56 674.72V676.13" stroke="#111" stroke-width="1.4"/>
<path d="M404.81 673.31H410.92M404.81 674.72H410.92M407.87 673.31V674.72" stroke="#111" stroke-width="1.4"/>
<path d="M412.12 668.36H418.23M412.12 669.78H418.23M415.18 668.36V669.78" stroke="#111" stroke-width="1.4"/>
<path d="M419.44 669.78H425.54M419.44 671.19H425.54M422.49 669.78V671.19" stroke="#111" stroke-width="1.4"/>
<path d="M426.75 668.36H432.85M426.75 669.78H432.85M429.80 668.36V669.78" stroke="#111" stroke-width="1.4"/>
<path d="M434.06 659.89H440.16M434.06 665.54H440.16M437.11 659.89V665.54" stroke="#111" stroke-width="1.4"/>
<path d="M441.37 671.89H447.47M441.37 673.31H447.47M444.42 671.89V673.31" stroke="#111" stroke-width="1.4"/>
<path d="M448.68 664.12H454.78M448.68 665.54H454.78M451.73 664.12V665.54" stroke="#111" stroke-width="1.4"/>
<path d="M455.99 671.19H462.09M455.99 672.60H462.09M459.04 671.19V672.60" stroke="#111" stroke-width="1.4"/>
<path d="M463.30 666.24H469.40M463.30 667.66H469.40M466.35 666.24V667.66" stroke="#111" stroke-width="1.4"/>
<path d="M470.60 662.71H476.70M470.60 664.12H476.70M473.65 662.71V664.12" stroke="#111" stroke-width="1.4"/>
<path d="M477.92 664.83H484.02M477.92 671.89H484.02M480.97 664.83V671.89" stroke="#111" stroke-width="1.4"/>
<path d="M485.22 666.24H491.32M485.22 667.66H491.32M488.27 666.24V667.66" stroke="#111" stroke-width="1.4"/>
<path d="M492.54 674.01H498.64M492.54 675.43H498.64M495.59 674.01V675.43" stroke="#111" stroke-width="1.4"/>
<path d="M499.84 662.71H505.94M499.84 668.36H505.94M502.89 662.71V668.36" stroke="#111" stroke-width="1.4"/>
<path d="M507.15 672.60H513.25M507.15 674.01H513.25M510.20 672.60V674.01" stroke="#111" stroke-width="1.4"/>
<path d="M514.47 666.24H520.56M514.47 667.66H520.56M517.51 666.24V667.66" stroke="#111" stroke-width="1.4"/>
<path d="M521.78 672.60H527.88M521.78 674.01H527.88M524.83 672.60V674.01" stroke="#111" stroke-width="1.4"/>
<path d="M529.09 665.54H535.18M529.09 666.95H535.18M532.13 665.54V666.95" stroke="#111" stroke-width="1.4"/>
<path d="M536.39 665.54H542.49M536.39 666.95H542.49M539.44 665.54V666.95" stroke="#111" stroke-width="1.4"/>
<path d="M543.71 676.84H549.80M543.71 678.25H549.80M546.75 676.84V678.25" stroke="#111" stroke-width="1.4"/>
<path d="M551.02 674.72H557.12M551.02 676.13H557.12M554.07 674.72V676.13" stroke="#111" stroke-width="1.4"/>
<path d="M558.33 677.54H564.42M558.33 678.96H564.42M561.38 677.54V678.96" stroke="#111" stroke-width="1.4"/>
<path d="M565.63 676.13H571.73M565.63 677.54H571.73M568.68 676.13V677.54" stroke="#111" stroke-width="1.4"/>
<path d="M572.95 678.25H579.04M572.95 679.66H579.04M576.00 678.25V679.66" stroke="#111" stroke-width="1.4"/>
<path d="M580.26 674.72H586.36M580.26 676.13H586.36M583.31 674.72V676.13" stroke="#111" stroke-width="1.4"/>
<path d="M587.57 677.54H593.66M587.57 678.96H593.66M590.62 677.54V678.96" stroke="#111" stroke-width="1.4"/>
<path d="M594.88 676.13H600.97M594.88 677.54H600.97M597.92 676.13V677.54" stroke="#111" stroke-width="1.4"/>
<path d="M602.19 676.13H608.28M602.19 677.54H608.28M605.24 676.13V677.54" stroke="#111" stroke-width="1.4"/>
<path d="M609.50 676.13H615.59M609.50 677.54H615.59M612.54 676.13V677.54" stroke="#111" stroke-width="1.4"/>
<path d="M616.81 668.36H622.90M616.81 669.78H622.90M619.86 668.36V669.78" stroke="#111" stroke-width="1.4"/>
<path d="M624.12 670.48H630.21M624.12 671.89H630.21M627.16 670.48V671.89" stroke="#111" stroke-width="1.4"/>
<path d="M631.43 664.83H637.52M631.43 666.24H637.52M634.48 664.83V666.24" stroke="#111" stroke-width="1.4"/>
<path d="M638.74 630.93H644.83M638.74 633.76H644.83M641.78 630.93V633.76" stroke="#111" stroke-width="1.4"/>
<path d="M646.05 659.89H652.14M646.05 662.71H652.14M649.10 659.89V662.71" stroke="#111" stroke-width="1.4"/>
<path d="M653.36 655.65H659.45M653.36 657.06H659.45M656.40 655.65V657.06" stroke="#111" stroke-width="1.4"/>
<path d="M660.66 645.76H666.76M660.66 648.59H666.76M663.71 645.76V648.59" stroke="#111" stroke-width="1.4"/>
<path d="M667.98 646.05H674.07M667.98 648.31H674.07M671.02 646.05V648.31" stroke="#111" stroke-width="1.4"/>
<path d="M675.29 611.86H681.38M675.29 623.16H681.38M678.34 611.86V623.16" stroke="#111" stroke-width="1.4"/>
<path d="M682.60 642.94H688.69M682.60 647.18H688.69M685.64 642.94V647.18" stroke="#111" stroke-width="1.4"/>
<line x1="470.00" y1="590.25" x2="470.00" y2="689.25" stroke="#111" stroke-width="1.3"/>
<line x1="543.10" y1="590.25" x2="543.10" y2="689.25" stroke="#111" stroke-width="1.3"/>
<line x1="616.20" y1="590.25" x2="616.20" y2="689.25" stroke="#111" stroke-width="1.3"/>
<text x="400.3" y="608.4" font-size="14" text-anchor="start" textLength="47.4" lengthAdjust="spacingAndGlyphs" fill="#111">Beech</text>
<text x="480.2" y="608.4" font-size="14" text-anchor="start" textLength="45.1" lengthAdjust="spacingAndGlyphs" fill="#111">Grass</text>
<text x="561.9" y="608.4" font-size="14" text-anchor="start" textLength="31.6" lengthAdjust="spacingAndGlyphs" fill="#111">Oak</text>
<text x="637.9" y="608.4" font-size="14" text-anchor="start" textLength="34.1" lengthAdjust="spacingAndGlyphs" fill="#111">Pine</text>
<rect x="53.60" y="695.90" width="321.00" height="20.5" fill="#fff" stroke="#111" stroke-width="1.35"/>
<text x="139.6" y="710.7" font-size="14.5" text-anchor="start" textLength="120.2" lengthAdjust="spacingAndGlyphs" fill="#111">magenta (n=413)</text>
<rect x="68.31" y="793.10" width="6.5" height="5.65" fill="#ff1ff0"/>
<rect x="75.62" y="793.10" width="6.5" height="5.65" fill="#ffb0f8"/>
<rect x="82.93" y="793.10" width="6.5" height="5.65" fill="#ff1ff0"/>
<rect x="90.24" y="793.10" width="6.5" height="5.65" fill="#ffb0f8"/>
<rect x="97.55" y="793.10" width="6.5" height="5.65" fill="#ff1ff0"/>
<rect x="104.86" y="793.10" width="6.5" height="5.65" fill="#ffb0f8"/>
<rect x="112.17" y="793.10" width="6.5" height="3.53" fill="#9a3ad8"/>
<rect x="119.47" y="793.10" width="6.5" height="4.24" fill="#ffb0f8"/>
<rect x="126.78" y="793.10" width="6.5" height="0.30" fill="#ff1ff0"/>
<rect x="134.09" y="793.10" width="6.5" height="2.83" fill="#ffb0f8"/>
<rect x="141.41" y="788.86" width="6.5" height="4.24" fill="#ff1ff0"/>
<rect x="148.72" y="793.10" width="6.5" height="0.30" fill="#ffb0f8"/>
<rect x="156.03" y="793.10" width="6.5" height="4.94" fill="#9a3ad8"/>
<rect x="163.34" y="793.10" width="6.5" height="2.12" fill="#ffb0f8"/>
<rect x="170.65" y="775.44" width="6.5" height="17.66" fill="#ff1ff0"/>
<rect x="177.96" y="791.69" width="6.5" height="1.41" fill="#ffb0f8"/>
<rect x="185.27" y="753.55" width="6.5" height="39.55" fill="#ff1ff0"/>
<rect x="192.58" y="773.33" width="6.5" height="19.77" fill="#ffb0f8"/>
<rect x="199.88" y="738.01" width="6.5" height="55.09" fill="#ff1ff0"/>
<rect x="207.19" y="774.74" width="6.5" height="18.36" fill="#ffb0f8"/>
<rect x="214.50" y="793.10" width="6.5" height="5.65" fill="#ff1ff0"/>
<rect x="221.81" y="793.10" width="6.5" height="5.65" fill="#ffb0f8"/>
<rect x="229.12" y="793.10" width="6.5" height="5.65" fill="#ff1ff0"/>
<rect x="236.44" y="793.10" width="6.5" height="5.65" fill="#ffb0f8"/>
<rect x="243.75" y="793.10" width="6.5" height="5.65" fill="#ff1ff0"/>
<rect x="251.06" y="793.10" width="6.5" height="5.65" fill="#ffb0f8"/>
<rect x="258.37" y="793.10" width="6.5" height="5.65" fill="#ff1ff0"/>
<rect x="265.67" y="793.10" width="6.5" height="5.65" fill="#ffb0f8"/>
<rect x="272.98" y="793.10" width="6.5" height="5.65" fill="#ff1ff0"/>
<rect x="280.29" y="793.10" width="6.5" height="2.83" fill="#ffb0f8"/>
<rect x="287.60" y="793.10" width="6.5" height="5.65" fill="#ff1ff0"/>
<rect x="294.91" y="793.10" width="6.5" height="5.65" fill="#ffb0f8"/>
<rect x="302.22" y="793.10" width="6.5" height="5.65" fill="#ff1ff0"/>
<rect x="309.53" y="793.10" width="6.5" height="5.65" fill="#ffb0f8"/>
<rect x="316.84" y="793.10" width="6.5" height="5.65" fill="#ff1ff0"/>
<rect x="324.15" y="793.10" width="6.5" height="5.65" fill="#ffb0f8"/>
<rect x="331.46" y="793.10" width="6.5" height="3.53" fill="#9a3ad8"/>
<rect x="338.77" y="793.10" width="6.5" height="4.24" fill="#ffb0f8"/>
<rect x="346.08" y="793.10" width="6.5" height="3.53" fill="#9a3ad8"/>
<rect x="353.39" y="793.10" width="6.5" height="2.83" fill="#ffb0f8"/>
<path d="M68.51 798.04H74.61M68.51 799.46H74.61M71.56 798.04V799.46" stroke="#111" stroke-width="1.4"/>
<path d="M75.82 798.04H81.92M75.82 799.46H81.92M78.87 798.04V799.46" stroke="#111" stroke-width="1.4"/>
<path d="M83.13 798.04H89.23M83.13 799.46H89.23M86.18 798.04V799.46" stroke="#111" stroke-width="1.4"/>
<path d="M90.44 798.04H96.54M90.44 799.46H96.54M93.49 798.04V799.46" stroke="#111" stroke-width="1.4"/>
<path d="M97.75 798.04H103.84M97.75 799.46H103.84M100.80 798.04V799.46" stroke="#111" stroke-width="1.4"/>
<path d="M105.06 798.04H111.16M105.06 799.46H111.16M108.11 798.04V799.46" stroke="#111" stroke-width="1.4"/>
<path d="M112.37 795.93H118.47M112.37 797.34H118.47M115.42 795.93V797.34" stroke="#111" stroke-width="1.4"/>
<path d="M119.67 796.63H125.77M119.67 798.04H125.77M122.72 796.63V798.04" stroke="#111" stroke-width="1.4"/>
<path d="M126.98 792.39H133.09M126.98 793.81H133.09M130.03 792.39V793.81" stroke="#111" stroke-width="1.4"/>
<path d="M134.29 795.22H140.40M134.29 796.63H140.40M137.34 795.22V796.63" stroke="#111" stroke-width="1.4"/>
<path d="M141.60 788.16H147.71M141.60 789.57H147.71M144.66 788.16V789.57" stroke="#111" stroke-width="1.4"/>
<path d="M148.91 792.39H155.02M148.91 793.81H155.02M151.97 792.39V793.81" stroke="#111" stroke-width="1.4"/>
<path d="M156.22 797.34H162.33M156.22 798.75H162.33M159.28 797.34V798.75" stroke="#111" stroke-width="1.4"/>
<path d="M163.53 794.51H169.64M163.53 795.93H169.64M166.59 794.51V795.93" stroke="#111" stroke-width="1.4"/>
<path d="M170.84 770.08H176.95M170.84 780.81H176.95M173.90 770.08V780.81" stroke="#111" stroke-width="1.4"/>
<path d="M178.16 789.99H184.26M178.16 793.38H184.26M181.21 789.99V793.38" stroke="#111" stroke-width="1.4"/>
<path d="M185.47 750.02H191.57M185.47 757.08H191.57M188.52 750.02V757.08" stroke="#111" stroke-width="1.4"/>
<path d="M192.78 769.79H198.88M192.78 776.86H198.88M195.83 769.79V776.86" stroke="#111" stroke-width="1.4"/>
<path d="M200.08 736.60H206.19M200.08 739.43H206.19M203.13 736.60V739.43" stroke="#111" stroke-width="1.4"/>
<path d="M207.39 773.33H213.50M207.39 776.15H213.50M210.44 773.33V776.15" stroke="#111" stroke-width="1.4"/>
<path d="M214.70 798.04H220.81M214.70 799.46H220.81M217.75 798.04V799.46" stroke="#111" stroke-width="1.4"/>
<path d="M222.01 798.04H228.12M222.01 799.46H228.12M225.06 798.04V799.46" stroke="#111" stroke-width="1.4"/>
<path d="M229.32 798.04H235.43M229.32 799.46H235.43M232.38 798.04V799.46" stroke="#111" stroke-width="1.4"/>
<path d="M236.63 798.04H242.74M236.63 799.46H242.74M239.69 798.04V799.46" stroke="#111" stroke-width="1.4"/>
<path d="M243.94 798.04H250.05M243.94 799.46H250.05M247.00 798.04V799.46" stroke="#111" stroke-width="1.4"/>
<path d="M251.25 798.04H257.36M251.25 799.46H257.36M254.31 798.04V799.46" stroke="#111" stroke-width="1.4"/>
<path d="M258.56 798.04H264.67M258.56 799.46H264.67M261.62 798.04V799.46" stroke="#111" stroke-width="1.4"/>
<path d="M265.87 798.04H271.97M265.87 799.46H271.97M268.92 798.04V799.46" stroke="#111" stroke-width="1.4"/>
<path d="M273.18 798.04H279.28M273.18 799.46H279.28M276.23 798.04V799.46" stroke="#111" stroke-width="1.4"/>
<path d="M280.49 795.22H286.59M280.49 796.63H286.59M283.54 795.22V796.63" stroke="#111" stroke-width="1.4"/>
<path d="M287.80 798.04H293.90M287.80 799.46H293.90M290.85 798.04V799.46" stroke="#111" stroke-width="1.4"/>
<path d="M295.11 798.04H301.21M295.11 799.46H301.21M298.16 798.04V799.46" stroke="#111" stroke-width="1.4"/>
<path d="M302.42 798.04H308.52M302.42 799.46H308.52M305.47 798.04V799.46" stroke="#111" stroke-width="1.4"/>
<path d="M309.73 798.04H315.83M309.73 799.46H315.83M312.78 798.04V799.46" stroke="#111" stroke-width="1.4"/>
<path d="M317.04 798.04H323.14M317.04 799.46H323.14M320.09 798.04V799.46" stroke="#111" stroke-width="1.4"/>
<path d="M324.35 798.04H330.45M324.35 799.46H330.45M327.40 798.04V799.46" stroke="#111" stroke-width="1.4"/>
<path d="M331.66 795.93H337.76M331.66 797.34H337.76M334.71 795.93V797.34" stroke="#111" stroke-width="1.4"/>
<path d="M338.97 796.63H345.07M338.97 798.04H345.07M342.02 796.63V798.04" stroke="#111" stroke-width="1.4"/>
<path d="M346.28 795.93H352.38M346.28 797.34H352.38M349.33 795.93V797.34" stroke="#111" stroke-width="1.4"/>
<path d="M353.59 795.22H359.69M353.59 796.63H359.69M356.64 795.22V796.63" stroke="#111" stroke-width="1.4"/>
<line x1="141.00" y1="716.40" x2="141.00" y2="815.40" stroke="#111" stroke-width="1.3"/>
<line x1="214.10" y1="716.40" x2="214.10" y2="815.40" stroke="#111" stroke-width="1.3"/>
<line x1="287.20" y1="716.40" x2="287.20" y2="815.40" stroke="#111" stroke-width="1.3"/>
<text x="73.3" y="733.0" font-size="14" text-anchor="start" textLength="47.4" lengthAdjust="spacingAndGlyphs" fill="#111">Beech</text>
<text x="153.2" y="733.0" font-size="14" text-anchor="start" textLength="45.1" lengthAdjust="spacingAndGlyphs" fill="#111">Grass</text>
<text x="234.9" y="733.0" font-size="14" text-anchor="start" textLength="31.6" lengthAdjust="spacingAndGlyphs" fill="#111">Oak</text>
<text x="310.9" y="733.0" font-size="14" text-anchor="start" textLength="34.1" lengthAdjust="spacingAndGlyphs" fill="#111">Pine</text>
<line x1="53.60" y1="716.40" x2="53.60" y2="815.40" stroke="#111" stroke-width="1.35"/>
<line x1="49.80" y1="793.10" x2="53.60" y2="793.10" stroke="#111" stroke-width="1.3"/>
<text x="45.6" y="798.4" font-size="15" text-anchor="end" textLength="22.6" lengthAdjust="spacingAndGlyphs" fill="#111">0.0</text>
<line x1="49.80" y1="764.85" x2="53.60" y2="764.85" stroke="#111" stroke-width="1.3"/>
<text x="45.6" y="770.1" font-size="15" text-anchor="end" textLength="22.6" lengthAdjust="spacingAndGlyphs" fill="#111">0.2</text>
<line x1="49.80" y1="736.60" x2="53.60" y2="736.60" stroke="#111" stroke-width="1.3"/>
<text x="45.6" y="741.9" font-size="15" text-anchor="end" textLength="22.6" lengthAdjust="spacingAndGlyphs" fill="#111">0.4</text>
<rect x="382.60" y="695.90" width="321.00" height="20.5" fill="#fff" stroke="#111" stroke-width="1.35"/>
<text x="501.1" y="710.7" font-size="14.5" text-anchor="start" textLength="88.5" lengthAdjust="spacingAndGlyphs" fill="#111">pink (n=428)</text>
<rect x="397.31" y="793.10" width="6.5" height="13.42" fill="#f590dc"/>
<rect x="404.62" y="793.10" width="6.5" height="11.30" fill="#fddcf3"/>
<rect x="411.93" y="793.10" width="6.5" height="7.77" fill="#f590dc"/>
<rect x="419.24" y="793.10" width="6.5" height="6.36" fill="#fddcf3"/>
<rect x="426.55" y="793.10" width="6.5" height="2.83" fill="#f590dc"/>
<rect x="433.86" y="793.10" width="6.5" height="1.41" fill="#fddcf3"/>
<rect x="441.17" y="788.86" width="6.5" height="4.24" fill="#f590dc"/>
<rect x="448.48" y="784.63" width="6.5" height="8.48" fill="#fddcf3"/>
<rect x="455.79" y="783.21" width="6.5" height="9.89" fill="#f590dc"/>
<rect x="463.10" y="778.27" width="6.5" height="14.83" fill="#fddcf3"/>
<rect x="470.40" y="786.74" width="6.5" height="6.36" fill="#f590dc"/>
<rect x="477.72" y="769.09" width="6.5" height="24.01" fill="#fddcf3"/>
<rect x="485.02" y="790.28" width="6.5" height="2.83" fill="#f590dc"/>
<rect x="492.34" y="767.68" width="6.5" height="25.42" fill="#fddcf3"/>
<rect x="499.64" y="793.10" width="6.5" height="2.83" fill="#f590dc"/>
<rect x="506.95" y="776.86" width="6.5" height="16.24" fill="#fddcf3"/>
<rect x="514.26" y="783.92" width="6.5" height="9.18" fill="#f590dc"/>
<rect x="521.58" y="774.74" width="6.5" height="18.36" fill="#fddcf3"/>
<rect x="528.88" y="781.80" width="6.5" height="11.30" fill="#f590dc"/>
<rect x="536.19" y="764.85" width="6.5" height="28.25" fill="#fddcf3"/>
<rect x="543.50" y="793.10" width="6.5" height="16.24" fill="#f590dc"/>
<rect x="550.82" y="793.10" width="6.5" height="14.83" fill="#fddcf3"/>
<rect x="558.12" y="793.10" width="6.5" height="16.95" fill="#f590dc"/>
<rect x="565.43" y="793.10" width="6.5" height="15.54" fill="#fddcf3"/>
<rect x="572.75" y="793.10" width="6.5" height="16.95" fill="#f590dc"/>
<rect x="580.06" y="793.10" width="6.5" height="14.83" fill="#fddcf3"/>
<rect x="587.37" y="793.10" width="6.5" height="16.24" fill="#f590dc"/>
<rect x="594.67" y="793.10" width="6.5" height="14.12" fill="#fddcf3"/>
<rect x="601.99" y="793.10" width="6.5" height="14.83" fill="#f590dc"/>
<rect x="609.29" y="793.10" width="6.5" height="7.77" fill="#fddcf3"/>
<rect x="616.61" y="793.10" width="6.5" height="7.06" fill="#f590dc"/>
<rect x="623.91" y="793.10" width="6.5" height="10.59" fill="#fddcf3"/>
<rect x="631.23" y="793.10" width="6.5" height="5.65" fill="#f590dc"/>
<rect x="638.53" y="790.28" width="6.5" height="2.83" fill="#fddcf3"/>
<rect x="645.85" y="793.10" width="6.5" height="4.24" fill="#f590dc"/>
<rect x="653.15" y="793.10" width="6.5" height="2.83" fill="#fddcf3"/>
<rect x="660.46" y="788.86" width="6.5" height="4.24" fill="#f590dc"/>
<rect x="667.77" y="788.16" width="6.5" height="4.94" fill="#fddcf3"/>
<rect x="675.09" y="783.21" width="6.5" height="9.89" fill="#f590dc"/>
<rect x="682.39" y="781.80" width="6.5" height="11.30" fill="#fddcf3"/>
<path d="M397.50 805.81H403.61M397.50 807.23H403.61M400.56 805.81V807.23" stroke="#111" stroke-width="1.4"/>
<path d="M404.81 803.27H410.92M404.81 805.53H410.92M407.87 803.27V805.53" stroke="#111" stroke-width="1.4"/>
<path d="M412.12 800.16H418.23M412.12 801.58H418.23M415.18 800.16V801.58" stroke="#111" stroke-width="1.4"/>
<path d="M419.44 798.33H425.54M419.44 800.59H425.54M422.49 798.33V800.59" stroke="#111" stroke-width="1.4"/>
<path d="M426.75 795.22H432.85M426.75 796.63H432.85M429.80 795.22V796.63" stroke="#111" stroke-width="1.4"/>
<path d="M434.06 792.11H440.16M434.06 796.91H440.16M437.11 792.11V796.91" stroke="#111" stroke-width="1.4"/>
<path d="M441.37 788.16H447.47M441.37 789.57H447.47M444.42 788.16V789.57" stroke="#111" stroke-width="1.4"/>
<path d="M448.68 783.21H454.78M448.68 786.04H454.78M451.73 783.21V786.04" stroke="#111" stroke-width="1.4"/>
<path d="M455.99 782.51H462.09M455.99 783.92H462.09M459.04 782.51V783.92" stroke="#111" stroke-width="1.4"/>
<path d="M463.30 777.56H469.40M463.30 778.98H469.40M466.35 777.56V778.98" stroke="#111" stroke-width="1.4"/>
<path d="M470.60 783.78H476.70M470.60 789.71H476.70M473.65 783.78V789.71" stroke="#111" stroke-width="1.4"/>
<path d="M477.92 768.38H484.02M477.92 769.79H484.02M480.97 768.38V769.79" stroke="#111" stroke-width="1.4"/>
<path d="M485.22 786.74H491.32M485.22 793.81H491.32M488.27 786.74V793.81" stroke="#111" stroke-width="1.4"/>
<path d="M492.54 764.14H498.64M492.54 771.21H498.64M495.59 764.14V771.21" stroke="#111" stroke-width="1.4"/>
<path d="M499.84 791.12H505.94M499.84 800.73H505.94M502.89 791.12V800.73" stroke="#111" stroke-width="1.4"/>
<path d="M507.15 776.15H513.25M507.15 777.56H513.25M510.20 776.15V777.56" stroke="#111" stroke-width="1.4"/>
<path d="M514.47 780.95H520.56M514.47 786.89H520.56M517.51 780.95V786.89" stroke="#111" stroke-width="1.4"/>
<path d="M521.78 771.21H527.88M521.78 778.27H527.88M524.83 771.21V778.27" stroke="#111" stroke-width="1.4"/>
<path d="M529.09 779.26H535.18M529.09 784.34H535.18M532.13 779.26V784.34" stroke="#111" stroke-width="1.4"/>
<path d="M536.39 760.61H542.49M536.39 769.09H542.49M539.44 760.61V769.09" stroke="#111" stroke-width="1.4"/>
<path d="M543.71 808.64H549.80M543.71 810.05H549.80M546.75 808.64V810.05" stroke="#111" stroke-width="1.4"/>
<path d="M551.02 807.23H557.12M551.02 808.64H557.12M554.07 807.23V808.64" stroke="#111" stroke-width="1.4"/>
<path d="M558.33 809.34H564.42M558.33 810.76H564.42M561.38 809.34V810.76" stroke="#111" stroke-width="1.4"/>
<path d="M565.63 807.93H571.73M565.63 809.34H571.73M568.68 807.93V809.34" stroke="#111" stroke-width="1.4"/>
<path d="M572.95 809.34H579.04M572.95 810.76H579.04M576.00 809.34V810.76" stroke="#111" stroke-width="1.4"/>
<path d="M580.26 807.23H586.36M580.26 808.64H586.36M583.31 807.23V808.64" stroke="#111" stroke-width="1.4"/>
<path d="M587.57 808.64H593.66M587.57 810.05H593.66M590.62 808.64V810.05" stroke="#111" stroke-width="1.4"/>
<path d="M594.88 806.52H600.97M594.88 807.93H600.97M597.92 806.52V807.93" stroke="#111" stroke-width="1.4"/>
<path d="M602.19 807.23H608.28M602.19 808.64H608.28M605.24 807.23V808.64" stroke="#111" stroke-width="1.4"/>
<path d="M609.50 800.16H615.59M609.50 801.58H615.59M612.54 800.16V801.58" stroke="#111" stroke-width="1.4"/>
<path d="M616.81 799.46H622.90M616.81 800.87H622.90M619.86 799.46V800.87" stroke="#111" stroke-width="1.4"/>
<path d="M624.12 802.99H630.21M624.12 804.40H630.21M627.16 802.99V804.40" stroke="#111" stroke-width="1.4"/>
<path d="M631.43 798.04H637.52M631.43 799.46H637.52M634.48 798.04V799.46" stroke="#111" stroke-width="1.4"/>
<path d="M638.74 789.57H644.83M638.74 790.98H644.83M641.78 789.57V790.98" stroke="#111" stroke-width="1.4"/>
<path d="M646.05 796.21H652.14M646.05 798.47H652.14M649.10 796.21V798.47" stroke="#111" stroke-width="1.4"/>
<path d="M653.36 795.22H659.45M653.36 796.63H659.45M656.40 795.22V796.63" stroke="#111" stroke-width="1.4"/>
<path d="M660.66 788.16H666.76M660.66 789.57H666.76M663.71 788.16V789.57" stroke="#111" stroke-width="1.4"/>
<path d="M667.98 787.45H674.07M667.98 788.86H674.07M671.02 787.45V788.86" stroke="#111" stroke-width="1.4"/>
<path d="M675.29 778.98H681.38M675.29 787.45H681.38M678.34 778.98V787.45" stroke="#111" stroke-width="1.4"/>
<path d="M682.60 778.83H688.69M682.60 784.77H688.69M685.64 778.83V784.77" stroke="#111" stroke-width="1.4"/>
<line x1="470.00" y1="716.40" x2="470.00" y2="815.40" stroke="#111" stroke-width="1.3"/>
<line x1="543.10" y1="716.40" x2="543.10" y2="815.40" stroke="#111" stroke-width="1.3"/>
<line x1="616.20" y1="716.40" x2="616.20" y2="815.40" stroke="#111" stroke-width="1.3"/>
<text x="400.3" y="733.0" font-size="14" text-anchor="start" textLength="47.4" lengthAdjust="spacingAndGlyphs" fill="#111">Beech</text>
<text x="480.2" y="733.0" font-size="14" text-anchor="start" textLength="45.1" lengthAdjust="spacingAndGlyphs" fill="#111">Grass</text>
<text x="561.9" y="733.0" font-size="14" text-anchor="start" textLength="31.6" lengthAdjust="spacingAndGlyphs" fill="#111">Oak</text>
<text x="637.9" y="733.0" font-size="14" text-anchor="start" textLength="34.1" lengthAdjust="spacingAndGlyphs" fill="#111">Pine</text>
<rect x="53.60" y="822.05" width="321.00" height="20.5" fill="#fff" stroke="#111" stroke-width="1.35"/>
<text x="156.9" y="836.9" font-size="14.5" text-anchor="start" textLength="102.9" lengthAdjust="spacingAndGlyphs" fill="#111">purple (n=312)</text>
<rect x="68.31" y="919.25" width="6.5" height="11.30" fill="#7a51b3"/>
<rect x="75.62" y="919.25" width="6.5" height="10.59" fill="#b293d9"/>
<rect x="82.93" y="919.25" width="6.5" height="3.53" fill="#7a51b3"/>
<rect x="90.24" y="919.25" width="6.5" height="6.36" fill="#b293d9"/>
<rect x="97.55" y="905.13" width="6.5" height="14.12" fill="#7a51b3"/>
<rect x="104.86" y="919.25" width="6.5" height="0.30" fill="#b293d9"/>
<rect x="112.17" y="903.01" width="6.5" height="16.24" fill="#7a51b3"/>
<rect x="119.47" y="909.36" width="6.5" height="9.89" fill="#b293d9"/>
<rect x="126.78" y="895.94" width="6.5" height="23.31" fill="#7a51b3"/>
<rect x="134.09" y="902.30" width="6.5" height="16.95" fill="#b293d9"/>
<rect x="141.41" y="919.25" width="6.5" height="3.53" fill="#7a51b3"/>
<rect x="148.72" y="919.25" width="6.5" height="1.41" fill="#b293d9"/>
<rect x="156.03" y="916.43" width="6.5" height="2.83" fill="#7a51b3"/>
<rect x="163.34" y="912.89" width="6.5" height="6.36" fill="#b293d9"/>
<rect x="170.65" y="910.78" width="6.5" height="8.48" fill="#7a51b3"/>
<rect x="177.96" y="911.48" width="6.5" height="7.77" fill="#b293d9"/>
<rect x="185.27" y="902.30" width="6.5" height="16.95" fill="#7a51b3"/>
<rect x="192.58" y="901.59" width="6.5" height="17.66" fill="#b293d9"/>
<rect x="199.88" y="892.41" width="6.5" height="26.84" fill="#7a51b3"/>
<rect x="207.19" y="905.13" width="6.5" height="14.12" fill="#b293d9"/>
<rect x="214.50" y="919.25" width="6.5" height="14.12" fill="#7a51b3"/>
<rect x="221.81" y="919.25" width="6.5" height="9.89" fill="#b293d9"/>
<rect x="229.12" y="919.25" width="6.5" height="5.65" fill="#7a51b3"/>
<rect x="236.44" y="919.25" width="6.5" height="0.30" fill="#b293d9"/>
<rect x="243.75" y="919.25" width="6.5" height="0.71" fill="#7a51b3"/>
<rect x="251.06" y="916.43" width="6.5" height="2.83" fill="#b293d9"/>
<rect x="258.37" y="919.25" width="6.5" height="0.30" fill="#7a51b3"/>
<rect x="265.67" y="907.24" width="6.5" height="12.01" fill="#b293d9"/>
<rect x="272.98" y="916.43" width="6.5" height="2.83" fill="#7a51b3"/>
<rect x="280.29" y="905.13" width="6.5" height="14.12" fill="#b293d9"/>
<rect x="287.60" y="919.25" width="6.5" height="17.66" fill="#7a51b3"/>
<rect x="294.91" y="919.25" width="6.5" height="17.66" fill="#b293d9"/>
<rect x="302.22" y="919.25" width="6.5" height="16.95" fill="#7a51b3"/>
<rect x="309.53" y="919.25" width="6.5" height="15.54" fill="#b293d9"/>
<rect x="316.84" y="919.25" width="6.5" height="16.24" fill="#7a51b3"/>
<rect x="324.15" y="919.25" width="6.5" height="16.24" fill="#b293d9"/>
<rect x="331.46" y="919.25" width="6.5" height="12.71" fill="#7a51b3"/>
<rect x="338.77" y="919.25" width="6.5" height="12.71" fill="#b293d9"/>
<rect x="346.08" y="919.25" width="6.5" height="11.30" fill="#7a51b3"/>
<rect x="353.39" y="919.25" width="6.5" height="9.89" fill="#b293d9"/>
<path d="M68.51 929.84H74.61M68.51 931.26H74.61M71.56 929.84V931.26" stroke="#111" stroke-width="1.4"/>
<path d="M75.82 929.14H81.92M75.82 930.55H81.92M78.87 929.14V930.55" stroke="#111" stroke-width="1.4"/>
<path d="M83.13 921.37H89.23M83.13 924.19H89.23M86.18 921.37V924.19" stroke="#111" stroke-width="1.4"/>
<path d="M90.44 923.91H96.54M90.44 927.30H96.54M93.49 923.91V927.30" stroke="#111" stroke-width="1.4"/>
<path d="M97.75 903.71H103.84M97.75 906.54H103.84M100.80 903.71V906.54" stroke="#111" stroke-width="1.4"/>
<path d="M105.06 918.54H111.16M105.06 919.96H111.16M108.11 918.54V919.96" stroke="#111" stroke-width="1.4"/>
<path d="M112.37 902.30H118.47M112.37 903.71H118.47M115.42 902.30V903.71" stroke="#111" stroke-width="1.4"/>
<path d="M119.67 907.95H125.77M119.67 910.78H125.77M122.72 907.95V910.78" stroke="#111" stroke-width="1.4"/>
<path d="M126.98 895.24H133.09M126.98 896.65H133.09M130.03 895.24V896.65" stroke="#111" stroke-width="1.4"/>
<path d="M134.29 899.90H140.40M134.29 904.70H140.40M137.34 899.90V904.70" stroke="#111" stroke-width="1.4"/>
<path d="M141.60 922.08H147.71M141.60 923.49H147.71M144.66 922.08V923.49" stroke="#111" stroke-width="1.4"/>
<path d="M148.91 918.40H155.02M148.91 922.92H155.02M151.97 918.40V922.92" stroke="#111" stroke-width="1.4"/>
<path d="M156.22 913.04H162.33M156.22 919.82H162.33M159.28 913.04V919.82" stroke="#111" stroke-width="1.4"/>
<path d="M163.53 908.66H169.64M163.53 917.13H169.64M166.59 908.66V917.13" stroke="#111" stroke-width="1.4"/>
<path d="M170.84 901.31H176.95M170.84 920.24H176.95M173.90 901.31V920.24" stroke="#111" stroke-width="1.4"/>
<path d="M178.16 904.00H184.26M178.16 918.97H184.26M181.21 904.00V918.97" stroke="#111" stroke-width="1.4"/>
<path d="M185.47 897.50H191.57M185.47 907.10H191.57M188.52 897.50V907.10" stroke="#111" stroke-width="1.4"/>
<path d="M192.78 897.36H198.88M192.78 905.83H198.88M195.83 897.36V905.83" stroke="#111" stroke-width="1.4"/>
<path d="M200.08 889.59H206.19M200.08 895.24H206.19M203.13 889.59V895.24" stroke="#111" stroke-width="1.4"/>
<path d="M207.39 899.19H213.50M207.39 911.06H213.50M210.44 899.19V911.06" stroke="#111" stroke-width="1.4"/>
<path d="M214.70 932.67H220.81M214.70 934.08H220.81M217.75 932.67V934.08" stroke="#111" stroke-width="1.4"/>
<path d="M222.01 928.43H228.12M222.01 929.84H228.12M225.06 928.43V929.84" stroke="#111" stroke-width="1.4"/>
<path d="M229.32 924.19H235.43M229.32 925.61H235.43M232.38 924.19V925.61" stroke="#111" stroke-width="1.4"/>
<path d="M236.63 917.41H242.74M236.63 921.09H242.74M239.69 917.41V921.09" stroke="#111" stroke-width="1.4"/>
<path d="M243.94 919.25H250.05M243.94 920.66H250.05M247.00 919.25V920.66" stroke="#111" stroke-width="1.4"/>
<path d="M251.25 914.59H257.36M251.25 918.26H257.36M254.31 914.59V918.26" stroke="#111" stroke-width="1.4"/>
<path d="M258.56 917.98H264.67M258.56 920.52H264.67M261.62 917.98V920.52" stroke="#111" stroke-width="1.4"/>
<path d="M265.87 906.54H271.97M265.87 907.95H271.97M268.92 906.54V907.95" stroke="#111" stroke-width="1.4"/>
<path d="M273.18 914.59H279.28M273.18 918.26H279.28M276.23 914.59V918.26" stroke="#111" stroke-width="1.4"/>
<path d="M280.49 903.43H286.59M280.49 906.82H286.59M283.54 903.43V906.82" stroke="#111" stroke-width="1.4"/>
<path d="M287.80 936.20H293.90M287.80 937.61H293.90M290.85 936.20V937.61" stroke="#111" stroke-width="1.4"/>
<path d="M295.11 936.20H301.21M295.11 937.61H301.21M298.16 936.20V937.61" stroke="#111" stroke-width="1.4"/>
<path d="M302.42 935.49H308.52M302.42 936.91H308.52M305.47 935.49V936.91" stroke="#111" stroke-width="1.4"/>
<path d="M309.73 934.08H315.83M309.73 935.49H315.83M312.78 934.08V935.49" stroke="#111" stroke-width="1.4"/>
<path d="M317.04 934.79H323.14M317.04 936.20H323.14M320.09 934.79V936.20" stroke="#111" stroke-width="1.4"/>
<path d="M324.35 934.79H330.45M324.35 936.20H330.45M327.40 934.79V936.20" stroke="#111" stroke-width="1.4"/>
<path d="M331.66 931.26H337.76M331.66 932.67H337.76M334.71 931.26V932.67" stroke="#111" stroke-width="1.4"/>
<path d="M338.97 931.26H345.07M338.97 932.67H345.07M342.02 931.26V932.67" stroke="#111" stroke-width="1.4"/>
<path d="M346.28 929.84H352.38M346.28 931.26H352.38M349.33 929.84V931.26" stroke="#111" stroke-width="1.4"/>
<path d="M353.59 927.73H359.69M353.59 930.55H359.69M356.64 927.73V930.55" stroke="#111" stroke-width="1.4"/>
<line x1="141.00" y1="842.55" x2="141.00" y2="941.55" stroke="#111" stroke-width="1.3"/>
<line x1="214.10" y1="842.55" x2="214.10" y2="941.55" stroke="#111" stroke-width="1.3"/>
<line x1="287.20" y1="842.55" x2="287.20" y2="941.55" stroke="#111" stroke-width="1.3"/>
<text x="73.3" y="860.0" font-size="14" text-anchor="start" textLength="47.4" lengthAdjust="spacingAndGlyphs" fill="#111">Beech</text>
<text x="153.2" y="860.0" font-size="14" text-anchor="start" textLength="45.1" lengthAdjust="spacingAndGlyphs" fill="#111">Grass</text>
<text x="234.9" y="860.0" font-size="14" text-anchor="start" textLength="31.6" lengthAdjust="spacingAndGlyphs" fill="#111">Oak</text>
<text x="310.9" y="860.0" font-size="14" text-anchor="start" textLength="34.1" lengthAdjust="spacingAndGlyphs" fill="#111">Pine</text>
<line x1="53.60" y1="842.55" x2="53.60" y2="941.55" stroke="#111" stroke-width="1.35"/>
<line x1="49.80" y1="919.25" x2="53.60" y2="919.25" stroke="#111" stroke-width="1.3"/>
<text x="45.6" y="924.5" font-size="15" text-anchor="end" textLength="22.6" lengthAdjust="spacingAndGlyphs" fill="#111">0.0</text>
<line x1="49.80" y1="891.00" x2="53.60" y2="891.00" stroke="#111" stroke-width="1.3"/>
<text x="45.6" y="896.3" font-size="15" text-anchor="end" textLength="22.6" lengthAdjust="spacingAndGlyphs" fill="#111">0.2</text>
<line x1="49.80" y1="862.75" x2="53.60" y2="862.75" stroke="#111" stroke-width="1.3"/>
<text x="45.6" y="868.0" font-size="15" text-anchor="end" textLength="22.6" lengthAdjust="spacingAndGlyphs" fill="#111">0.4</text>
<rect x="382.60" y="822.05" width="321.00" height="20.5" fill="#fff" stroke="#111" stroke-width="1.35"/>
<text x="508.1" y="836.9" font-size="14.5" text-anchor="start" textLength="83.0" lengthAdjust="spacingAndGlyphs" fill="#111">red (n=563)</text>
<rect x="397.31" y="919.25" width="6.5" height="4.24" fill="#ff1010"/>
<rect x="404.62" y="919.25" width="6.5" height="1.41" fill="#f58a8a"/>
<rect x="411.93" y="919.25" width="6.5" height="0.30" fill="#ff1010"/>
<rect x="419.24" y="919.25" width="6.5" height="4.24" fill="#f58a8a"/>
<rect x="426.55" y="919.25" width="6.5" height="4.24" fill="#ff1010"/>
<rect x="433.86" y="919.25" width="6.5" height="6.36" fill="#f58a8a"/>
<rect x="441.17" y="919.25" width="6.5" height="5.65" fill="#ff1010"/>
<rect x="448.48" y="919.25" width="6.5" height="0.30" fill="#f58a8a"/>
<rect x="455.79" y="919.25" width="6.5" height="6.36" fill="#ff1010"/>
<rect x="463.10" y="919.25" width="6.5" height="2.83" fill="#f58a8a"/>
<rect x="470.40" y="919.25" width="6.5" height="0.30" fill="#ff1010"/>
<rect x="477.72" y="919.25" width="6.5" height="4.24" fill="#f58a8a"/>
<rect x="485.02" y="919.25" width="6.5" height="2.83" fill="#ff1010"/>
<rect x="492.34" y="919.25" width="6.5" height="0.71" fill="#f58a8a"/>
<rect x="499.64" y="919.25" width="6.5" height="9.18" fill="#ff1010"/>
<rect x="506.95" y="919.25" width="6.5" height="5.65" fill="#f58a8a"/>
<rect x="514.26" y="919.25" width="6.5" height="8.48" fill="#ff1010"/>
<rect x="521.58" y="919.25" width="6.5" height="8.48" fill="#f58a8a"/>
<rect x="528.88" y="919.25" width="6.5" height="9.18" fill="#ff1010"/>
<rect x="536.19" y="919.25" width="6.5" height="2.83" fill="#f58a8a"/>
<rect x="543.50" y="919.25" width="6.5" height="5.65" fill="#ff1010"/>
<rect x="550.82" y="919.25" width="6.5" height="4.94" fill="#f58a8a"/>
<rect x="558.12" y="919.25" width="6.5" height="9.89" fill="#ff1010"/>
<rect x="565.43" y="919.25" width="6.5" height="9.89" fill="#f58a8a"/>
<rect x="572.75" y="919.25" width="6.5" height="10.59" fill="#ff1010"/>
<rect x="580.06" y="919.25" width="6.5" height="9.89" fill="#f58a8a"/>
<rect x="587.37" y="919.25" width="6.5" height="11.30" fill="#ff1010"/>
<rect x="594.67" y="919.25" width="6.5" height="11.30" fill="#f58a8a"/>
<rect x="601.99" y="919.25" width="6.5" height="12.01" fill="#ff1010"/>
<rect x="609.29" y="919.25" width="6.5" height="11.30" fill="#f58a8a"/>
<rect x="616.61" y="900.18" width="6.5" height="19.07" fill="#ff1010"/>
<rect x="623.91" y="900.18" width="6.5" height="19.07" fill="#f58a8a"/>
<rect x="631.23" y="892.41" width="6.5" height="26.84" fill="#ff1010"/>
<rect x="638.53" y="919.25" width="6.5" height="2.12" fill="#f58a8a"/>
<rect x="645.85" y="895.94" width="6.5" height="23.31" fill="#ff1010"/>
<rect x="653.15" y="892.41" width="6.5" height="26.84" fill="#f58a8a"/>
<rect x="660.46" y="893.12" width="6.5" height="26.13" fill="#ff1010"/>
<rect x="667.77" y="892.41" width="6.5" height="26.84" fill="#f58a8a"/>
<rect x="675.09" y="919.25" width="6.5" height="3.53" fill="#ff1010"/>
<rect x="682.39" y="895.24" width="6.5" height="24.01" fill="#f58a8a"/>
<path d="M397.50 922.78H403.61M397.50 924.19H403.61M400.56 922.78V924.19" stroke="#111" stroke-width="1.4"/>
<path d="M404.81 918.83H410.92M404.81 922.50H410.92M407.87 918.83V922.50" stroke="#111" stroke-width="1.4"/>
<path d="M412.12 918.54H418.23M412.12 919.96H418.23M415.18 918.54V919.96" stroke="#111" stroke-width="1.4"/>
<path d="M419.44 921.65H425.54M419.44 925.32H425.54M422.49 921.65V925.32" stroke="#111" stroke-width="1.4"/>
<path d="M426.75 922.78H432.85M426.75 924.19H432.85M429.80 922.78V924.19" stroke="#111" stroke-width="1.4"/>
<path d="M434.06 923.49H440.16M434.06 927.73H440.16M437.11 923.49V927.73" stroke="#111" stroke-width="1.4"/>
<path d="M441.37 924.19H447.47M441.37 925.61H447.47M444.42 924.19V925.61" stroke="#111" stroke-width="1.4"/>
<path d="M448.68 918.54H454.78M448.68 919.96H454.78M451.73 918.54V919.96" stroke="#111" stroke-width="1.4"/>
<path d="M455.99 924.90H462.09M455.99 926.31H462.09M459.04 924.90V926.31" stroke="#111" stroke-width="1.4"/>
<path d="M463.30 921.37H469.40M463.30 922.78H469.40M466.35 921.37V922.78" stroke="#111" stroke-width="1.4"/>
<path d="M470.60 917.70H476.70M470.60 920.80H476.70M473.65 917.70V920.80" stroke="#111" stroke-width="1.4"/>
<path d="M477.92 920.52H484.02M477.92 926.45H484.02M480.97 920.52V926.45" stroke="#111" stroke-width="1.4"/>
<path d="M485.22 918.54H491.32M485.22 925.61H491.32M488.27 918.54V925.61" stroke="#111" stroke-width="1.4"/>
<path d="M492.54 913.46H498.64M492.54 926.45H498.64M495.59 913.46V926.45" stroke="#111" stroke-width="1.4"/>
<path d="M499.84 927.73H505.94M499.84 929.14H505.94M502.89 927.73V929.14" stroke="#111" stroke-width="1.4"/>
<path d="M507.15 921.93H513.25M507.15 927.87H513.25M510.20 921.93V927.87" stroke="#111" stroke-width="1.4"/>
<path d="M514.47 927.02H520.56M514.47 928.43H520.56M517.51 927.02V928.43" stroke="#111" stroke-width="1.4"/>
<path d="M521.78 925.32H527.88M521.78 930.13H527.88M524.83 925.32V930.13" stroke="#111" stroke-width="1.4"/>
<path d="M529.09 927.73H535.18M529.09 929.14H535.18M532.13 927.73V929.14" stroke="#111" stroke-width="1.4"/>
<path d="M536.39 920.52H542.49M536.39 923.63H542.49M539.44 920.52V923.63" stroke="#111" stroke-width="1.4"/>
<path d="M543.71 924.19H549.80M543.71 925.61H549.80M546.75 924.19V925.61" stroke="#111" stroke-width="1.4"/>
<path d="M551.02 923.49H557.12M551.02 924.90H557.12M554.07 923.49V924.90" stroke="#111" stroke-width="1.4"/>
<path d="M558.33 928.43H564.42M558.33 929.84H564.42M561.38 928.43V929.84" stroke="#111" stroke-width="1.4"/>
<path d="M565.63 928.43H571.73M565.63 929.84H571.73M568.68 928.43V929.84" stroke="#111" stroke-width="1.4"/>
<path d="M572.95 929.14H579.04M572.95 930.55H579.04M576.00 929.14V930.55" stroke="#111" stroke-width="1.4"/>
<path d="M580.26 928.43H586.36M580.26 929.84H586.36M583.31 928.43V929.84" stroke="#111" stroke-width="1.4"/>
<path d="M587.57 929.84H593.66M587.57 931.26H593.66M590.62 929.84V931.26" stroke="#111" stroke-width="1.4"/>
<path d="M594.88 929.84H600.97M594.88 931.26H600.97M597.92 929.84V931.26" stroke="#111" stroke-width="1.4"/>
<path d="M602.19 930.55H608.28M602.19 931.96H608.28M605.24 930.55V931.96" stroke="#111" stroke-width="1.4"/>
<path d="M609.50 929.84H615.59M609.50 931.26H615.59M612.54 929.84V931.26" stroke="#111" stroke-width="1.4"/>
<path d="M616.81 899.48H622.90M616.81 900.89H622.90M619.86 899.48V900.89" stroke="#111" stroke-width="1.4"/>
<path d="M624.12 899.48H630.21M624.12 900.89H630.21M627.16 899.48V900.89" stroke="#111" stroke-width="1.4"/>
<path d="M631.43 891.71H637.52M631.43 893.12H637.52M634.48 891.71V893.12" stroke="#111" stroke-width="1.4"/>
<path d="M638.74 920.66H644.83M638.74 922.08H644.83M641.78 920.66V922.08" stroke="#111" stroke-width="1.4"/>
<path d="M646.05 894.53H652.14M646.05 897.36H652.14M649.10 894.53V897.36" stroke="#111" stroke-width="1.4"/>
<path d="M653.36 889.45H659.45M653.36 895.38H659.45M656.40 889.45V895.38" stroke="#111" stroke-width="1.4"/>
<path d="M660.66 891.00H666.76M660.66 895.24H666.76M663.71 891.00V895.24" stroke="#111" stroke-width="1.4"/>
<path d="M667.98 890.72H674.07M667.98 894.11H674.07M671.02 890.72V894.11" stroke="#111" stroke-width="1.4"/>
<path d="M675.29 921.37H681.38M675.29 924.19H681.38M678.34 921.37V924.19" stroke="#111" stroke-width="1.4"/>
<path d="M682.60 892.84H688.69M682.60 897.64H688.69M685.64 892.84V897.64" stroke="#111" stroke-width="1.4"/>
<line x1="470.00" y1="842.55" x2="470.00" y2="941.55" stroke="#111" stroke-width="1.3"/>
<line x1="543.10" y1="842.55" x2="543.10" y2="941.55" stroke="#111" stroke-width="1.3"/>
<line x1="616.20" y1="842.55" x2="616.20" y2="941.55" stroke="#111" stroke-width="1.3"/>
<text x="400.3" y="860.0" font-size="14" text-anchor="start" textLength="47.4" lengthAdjust="spacingAndGlyphs" fill="#111">Beech</text>
<text x="480.2" y="860.0" font-size="14" text-anchor="start" textLength="45.1" lengthAdjust="spacingAndGlyphs" fill="#111">Grass</text>
<text x="561.9" y="860.0" font-size="14" text-anchor="start" textLength="31.6" lengthAdjust="spacingAndGlyphs" fill="#111">Oak</text>
<text x="637.9" y="860.0" font-size="14" text-anchor="start" textLength="34.1" lengthAdjust="spacingAndGlyphs" fill="#111">Pine</text>
<rect x="53.60" y="948.20" width="321.00" height="20.5" fill="#fff" stroke="#111" stroke-width="1.35"/>
<text x="133.2" y="963.0" font-size="14.5" text-anchor="start" textLength="134.0" lengthAdjust="spacingAndGlyphs" fill="#111">turquoise (n=1590)</text>
<rect x="68.31" y="1045.40" width="6.5" height="9.89" fill="#45e8a5"/>
<rect x="75.62" y="1045.40" width="6.5" height="9.89" fill="#a8f3d3"/>
<rect x="82.93" y="1045.40" width="6.5" height="5.65" fill="#45e8a5"/>
<rect x="90.24" y="1045.40" width="6.5" height="7.06" fill="#a8f3d3"/>
<rect x="97.55" y="1043.28" width="6.5" height="2.12" fill="#45e8a5"/>
<rect x="104.86" y="1045.40" width="6.5" height="2.12" fill="#a8f3d3"/>
<rect x="112.17" y="1040.46" width="6.5" height="4.94" fill="#45e8a5"/>
<rect x="119.47" y="1041.87" width="6.5" height="3.53" fill="#a8f3d3"/>
<rect x="126.78" y="1037.63" width="6.5" height="7.77" fill="#45e8a5"/>
<rect x="134.09" y="1039.04" width="6.5" height="6.36" fill="#a8f3d3"/>
<rect x="141.41" y="1024.21" width="6.5" height="21.19" fill="#45e8a5"/>
<rect x="148.72" y="1027.04" width="6.5" height="18.36" fill="#a8f3d3"/>
<rect x="156.03" y="1028.45" width="6.5" height="16.95" fill="#45e8a5"/>
<rect x="163.34" y="1031.28" width="6.5" height="14.12" fill="#a8f3d3"/>
<rect x="170.65" y="1024.21" width="6.5" height="21.19" fill="#45e8a5"/>
<rect x="177.96" y="1032.69" width="6.5" height="12.71" fill="#a8f3d3"/>
<rect x="185.27" y="1021.39" width="6.5" height="24.01" fill="#45e8a5"/>
<rect x="192.58" y="1027.04" width="6.5" height="18.36" fill="#a8f3d3"/>
<rect x="199.88" y="1017.86" width="6.5" height="27.54" fill="#45e8a5"/>
<rect x="207.19" y="1024.21" width="6.5" height="21.19" fill="#a8f3d3"/>
<rect x="214.50" y="1045.40" width="6.5" height="12.01" fill="#45e8a5"/>
<rect x="221.81" y="1045.40" width="6.5" height="9.89" fill="#a8f3d3"/>
<rect x="229.12" y="1045.40" width="6.5" height="12.01" fill="#45e8a5"/>
<rect x="236.44" y="1045.40" width="6.5" height="10.59" fill="#a8f3d3"/>
<rect x="243.75" y="1045.40" width="6.5" height="12.01" fill="#45e8a5"/>
<rect x="251.06" y="1045.40" width="6.5" height="9.89" fill="#a8f3d3"/>
<rect x="258.37" y="1045.40" width="6.5" height="12.01" fill="#45e8a5"/>
<rect x="265.67" y="1045.40" width="6.5" height="7.06" fill="#a8f3d3"/>
<rect x="272.98" y="1045.40" width="6.5" height="11.30" fill="#45e8a5"/>
<rect x="280.29" y="1045.40" width="6.5" height="5.65" fill="#a8f3d3"/>
<rect x="287.60" y="1045.40" width="6.5" height="10.59" fill="#45e8a5"/>
<rect x="294.91" y="1045.40" width="6.5" height="10.59" fill="#a8f3d3"/>
<rect x="302.22" y="1045.40" width="6.5" height="10.59" fill="#45e8a5"/>
<rect x="309.53" y="1045.40" width="6.5" height="9.18" fill="#a8f3d3"/>
<rect x="316.84" y="1045.40" width="6.5" height="9.89" fill="#45e8a5"/>
<rect x="324.15" y="1045.40" width="6.5" height="9.18" fill="#a8f3d3"/>
<rect x="331.46" y="1045.40" width="6.5" height="6.36" fill="#45e8a5"/>
<rect x="338.77" y="1045.40" width="6.5" height="6.36" fill="#a8f3d3"/>
<rect x="346.08" y="1045.40" width="6.5" height="6.36" fill="#45e8a5"/>
<rect x="353.39" y="1045.40" width="6.5" height="4.24" fill="#a8f3d3"/>
<path d="M68.51 1054.58H74.61M68.51 1055.99H74.61M71.56 1054.58V1055.99" stroke="#111" stroke-width="1.4"/>
<path d="M75.82 1054.58H81.92M75.82 1055.99H81.92M78.87 1054.58V1055.99" stroke="#111" stroke-width="1.4"/>
<path d="M83.13 1050.34H89.23M83.13 1051.76H89.23M86.18 1050.34V1051.76" stroke="#111" stroke-width="1.4"/>
<path d="M90.44 1051.33H96.54M90.44 1053.59H96.54M93.49 1051.33V1053.59" stroke="#111" stroke-width="1.4"/>
<path d="M97.75 1042.58H103.84M97.75 1043.99H103.84M100.80 1042.58V1043.99" stroke="#111" stroke-width="1.4"/>
<path d="M105.06 1045.68H111.16M105.06 1049.36H111.16M108.11 1045.68V1049.36" stroke="#111" stroke-width="1.4"/>
<path d="M112.37 1039.75H118.47M112.37 1041.16H118.47M115.42 1039.75V1041.16" stroke="#111" stroke-width="1.4"/>
<path d="M119.67 1041.16H125.77M119.67 1042.58H125.77M122.72 1041.16V1042.58" stroke="#111" stroke-width="1.4"/>
<path d="M126.98 1036.93H133.09M126.98 1038.34H133.09M130.03 1036.93V1038.34" stroke="#111" stroke-width="1.4"/>
<path d="M134.29 1038.34H140.40M134.29 1039.75H140.40M137.34 1038.34V1039.75" stroke="#111" stroke-width="1.4"/>
<path d="M141.60 1022.80H147.71M141.60 1025.62H147.71M144.66 1022.80V1025.62" stroke="#111" stroke-width="1.4"/>
<path d="M148.91 1024.78H155.02M148.91 1029.30H155.02M151.97 1024.78V1029.30" stroke="#111" stroke-width="1.4"/>
<path d="M156.22 1023.51H162.33M156.22 1033.39H162.33M159.28 1023.51V1033.39" stroke="#111" stroke-width="1.4"/>
<path d="M163.53 1030.57H169.64M163.53 1031.98H169.64M166.59 1030.57V1031.98" stroke="#111" stroke-width="1.4"/>
<path d="M170.84 1019.41H176.95M170.84 1029.02H176.95M173.90 1019.41V1029.02" stroke="#111" stroke-width="1.4"/>
<path d="M178.16 1029.72H184.26M178.16 1035.65H184.26M181.21 1029.72V1035.65" stroke="#111" stroke-width="1.4"/>
<path d="M185.47 1020.26H191.57M185.47 1022.52H191.57M188.52 1020.26V1022.52" stroke="#111" stroke-width="1.4"/>
<path d="M192.78 1025.48H198.88M192.78 1028.59H198.88M195.83 1025.48V1028.59" stroke="#111" stroke-width="1.4"/>
<path d="M200.08 1016.44H206.19M200.08 1019.27H206.19M203.13 1016.44V1019.27" stroke="#111" stroke-width="1.4"/>
<path d="M207.39 1022.38H213.50M207.39 1026.05H213.50M210.44 1022.38V1026.05" stroke="#111" stroke-width="1.4"/>
<path d="M214.70 1056.70H220.81M214.70 1058.11H220.81M217.75 1056.70V1058.11" stroke="#111" stroke-width="1.4"/>
<path d="M222.01 1054.58H228.12M222.01 1055.99H228.12M225.06 1054.58V1055.99" stroke="#111" stroke-width="1.4"/>
<path d="M229.32 1056.70H235.43M229.32 1058.11H235.43M232.38 1056.70V1058.11" stroke="#111" stroke-width="1.4"/>
<path d="M236.63 1055.29H242.74M236.63 1056.70H242.74M239.69 1055.29V1056.70" stroke="#111" stroke-width="1.4"/>
<path d="M243.94 1056.70H250.05M243.94 1058.11H250.05M247.00 1056.70V1058.11" stroke="#111" stroke-width="1.4"/>
<path d="M251.25 1054.58H257.36M251.25 1055.99H257.36M254.31 1054.58V1055.99" stroke="#111" stroke-width="1.4"/>
<path d="M258.56 1056.70H264.67M258.56 1058.11H264.67M261.62 1056.70V1058.11" stroke="#111" stroke-width="1.4"/>
<path d="M265.87 1051.76H271.97M265.87 1053.17H271.97M268.92 1051.76V1053.17" stroke="#111" stroke-width="1.4"/>
<path d="M273.18 1055.99H279.28M273.18 1057.41H279.28M276.23 1055.99V1057.41" stroke="#111" stroke-width="1.4"/>
<path d="M280.49 1050.34H286.59M280.49 1051.76H286.59M283.54 1050.34V1051.76" stroke="#111" stroke-width="1.4"/>
<path d="M287.80 1055.29H293.90M287.80 1056.70H293.90M290.85 1055.29V1056.70" stroke="#111" stroke-width="1.4"/>
<path d="M295.11 1055.29H301.21M295.11 1056.70H301.21M298.16 1055.29V1056.70" stroke="#111" stroke-width="1.4"/>
<path d="M302.42 1055.29H308.52M302.42 1056.70H308.52M305.47 1055.29V1056.70" stroke="#111" stroke-width="1.4"/>
<path d="M309.73 1053.88H315.83M309.73 1055.29H315.83M312.78 1053.88V1055.29" stroke="#111" stroke-width="1.4"/>
<path d="M317.04 1054.58H323.14M317.04 1055.99H323.14M320.09 1054.58V1055.99" stroke="#111" stroke-width="1.4"/>
<path d="M324.35 1053.88H330.45M324.35 1055.29H330.45M327.40 1053.88V1055.29" stroke="#111" stroke-width="1.4"/>
<path d="M331.66 1051.05H337.76M331.66 1052.46H337.76M334.71 1051.05V1052.46" stroke="#111" stroke-width="1.4"/>
<path d="M338.97 1051.05H345.07M338.97 1052.46H345.07M342.02 1051.05V1052.46" stroke="#111" stroke-width="1.4"/>
<path d="M346.28 1051.05H352.38M346.28 1052.46H352.38M349.33 1051.05V1052.46" stroke="#111" stroke-width="1.4"/>
<path d="M353.59 1048.93H359.69M353.59 1050.34H359.69M356.64 1048.93V1050.34" stroke="#111" stroke-width="1.4"/>
<line x1="141.00" y1="968.70" x2="141.00" y2="1067.70" stroke="#111" stroke-width="1.3"/>
<line x1="214.10" y1="968.70" x2="214.10" y2="1067.70" stroke="#111" stroke-width="1.3"/>
<line x1="287.20" y1="968.70" x2="287.20" y2="1067.70" stroke="#111" stroke-width="1.3"/>
<text x="73.3" y="984.3" font-size="14" text-anchor="start" textLength="47.4" lengthAdjust="spacingAndGlyphs" fill="#111">Beech</text>
<text x="153.2" y="984.3" font-size="14" text-anchor="start" textLength="45.1" lengthAdjust="spacingAndGlyphs" fill="#111">Grass</text>
<text x="234.9" y="984.3" font-size="14" text-anchor="start" textLength="31.6" lengthAdjust="spacingAndGlyphs" fill="#111">Oak</text>
<text x="310.9" y="984.3" font-size="14" text-anchor="start" textLength="34.1" lengthAdjust="spacingAndGlyphs" fill="#111">Pine</text>
<line x1="53.60" y1="968.70" x2="53.60" y2="1067.70" stroke="#111" stroke-width="1.35"/>
<line x1="49.80" y1="1045.40" x2="53.60" y2="1045.40" stroke="#111" stroke-width="1.3"/>
<text x="45.6" y="1050.7" font-size="15" text-anchor="end" textLength="22.6" lengthAdjust="spacingAndGlyphs" fill="#111">0.0</text>
<line x1="49.80" y1="1017.15" x2="53.60" y2="1017.15" stroke="#111" stroke-width="1.3"/>
<text x="45.6" y="1022.4" font-size="15" text-anchor="end" textLength="22.6" lengthAdjust="spacingAndGlyphs" fill="#111">0.2</text>
<line x1="49.80" y1="988.90" x2="53.60" y2="988.90" stroke="#111" stroke-width="1.3"/>
<text x="45.6" y="994.2" font-size="15" text-anchor="end" textLength="22.6" lengthAdjust="spacingAndGlyphs" fill="#111">0.4</text>
<line x1="53.60" y1="1067.70" x2="374.60" y2="1067.70" stroke="#111" stroke-width="1.35"/>
<line x1="71.56" y1="1067.70" x2="71.56" y2="1071.20" stroke="#111" stroke-width="1.2"/>
<text x="0" y="4.9" font-size="14" text-anchor="middle" fill="#111" transform="translate(76.56,1076.00) rotate(-45)">2</text>
<line x1="86.18" y1="1067.70" x2="86.18" y2="1071.20" stroke="#111" stroke-width="1.2"/>
<text x="0" y="4.9" font-size="14" text-anchor="middle" fill="#111" transform="translate(91.18,1076.00) rotate(-45)">4</text>
<line x1="100.80" y1="1067.70" x2="100.80" y2="1071.20" stroke="#111" stroke-width="1.2"/>
<text x="0" y="4.9" font-size="14" text-anchor="middle" fill="#111" transform="translate(105.80,1076.00) rotate(-45)">8</text>
<line x1="115.42" y1="1067.70" x2="115.42" y2="1071.20" stroke="#111" stroke-width="1.2"/>
<text x="0" y="4.9" font-size="14" text-anchor="middle" fill="#111" transform="translate(120.42,1076.00) rotate(-45)">15</text>
<line x1="130.03" y1="1067.70" x2="130.03" y2="1071.20" stroke="#111" stroke-width="1.2"/>
<text x="0" y="4.9" font-size="14" text-anchor="middle" fill="#111" transform="translate(135.03,1076.00) rotate(-45)">22</text>
<line x1="144.66" y1="1067.70" x2="144.66" y2="1071.20" stroke="#111" stroke-width="1.2"/>
<text x="0" y="4.9" font-size="14" text-anchor="middle" fill="#111" transform="translate(149.66,1076.00) rotate(-45)">2</text>
<line x1="159.28" y1="1067.70" x2="159.28" y2="1071.20" stroke="#111" stroke-width="1.2"/>
<text x="0" y="4.9" font-size="14" text-anchor="middle" fill="#111" transform="translate(164.28,1076.00) rotate(-45)">4</text>
<line x1="173.90" y1="1067.70" x2="173.90" y2="1071.20" stroke="#111" stroke-width="1.2"/>
<text x="0" y="4.9" font-size="14" text-anchor="middle" fill="#111" transform="translate(178.90,1076.00) rotate(-45)">8</text>
<line x1="188.52" y1="1067.70" x2="188.52" y2="1071.20" stroke="#111" stroke-width="1.2"/>
<text x="0" y="4.9" font-size="14" text-anchor="middle" fill="#111" transform="translate(193.52,1076.00) rotate(-45)">15</text>
<line x1="203.13" y1="1067.70" x2="203.13" y2="1071.20" stroke="#111" stroke-width="1.2"/>
<text x="0" y="4.9" font-size="14" text-anchor="middle" fill="#111" transform="translate(208.13,1076.00) rotate(-45)">22</text>
<line x1="217.75" y1="1067.70" x2="217.75" y2="1071.20" stroke="#111" stroke-width="1.2"/>
<text x="0" y="4.9" font-size="14" text-anchor="middle" fill="#111" transform="translate(222.75,1076.00) rotate(-45)">2</text>
<line x1="232.38" y1="1067.70" x2="232.38" y2="1071.20" stroke="#111" stroke-width="1.2"/>
<text x="0" y="4.9" font-size="14" text-anchor="middle" fill="#111" transform="translate(237.38,1076.00) rotate(-45)">4</text>
<line x1="247.00" y1="1067.70" x2="247.00" y2="1071.20" stroke="#111" stroke-width="1.2"/>
<text x="0" y="4.9" font-size="14" text-anchor="middle" fill="#111" transform="translate(252.00,1076.00) rotate(-45)">8</text>
<line x1="261.62" y1="1067.70" x2="261.62" y2="1071.20" stroke="#111" stroke-width="1.2"/>
<text x="0" y="4.9" font-size="14" text-anchor="middle" fill="#111" transform="translate(266.62,1076.00) rotate(-45)">15</text>
<line x1="276.23" y1="1067.70" x2="276.23" y2="1071.20" stroke="#111" stroke-width="1.2"/>
<text x="0" y="4.9" font-size="14" text-anchor="middle" fill="#111" transform="translate(281.23,1076.00) rotate(-45)">22</text>
<line x1="290.85" y1="1067.70" x2="290.85" y2="1071.20" stroke="#111" stroke-width="1.2"/>
<text x="0" y="4.9" font-size="14" text-anchor="middle" fill="#111" transform="translate(295.85,1076.00) rotate(-45)">2</text>
<line x1="305.47" y1="1067.70" x2="305.47" y2="1071.20" stroke="#111" stroke-width="1.2"/>
<text x="0" y="4.9" font-size="14" text-anchor="middle" fill="#111" transform="translate(310.47,1076.00) rotate(-45)">4</text>
<line x1="320.09" y1="1067.70" x2="320.09" y2="1071.20" stroke="#111" stroke-width="1.2"/>
<text x="0" y="4.9" font-size="14" text-anchor="middle" fill="#111" transform="translate(325.09,1076.00) rotate(-45)">8</text>
<line x1="334.71" y1="1067.70" x2="334.71" y2="1071.20" stroke="#111" stroke-width="1.2"/>
<text x="0" y="4.9" font-size="14" text-anchor="middle" fill="#111" transform="translate(339.71,1076.00) rotate(-45)">15</text>
<line x1="349.33" y1="1067.70" x2="349.33" y2="1071.20" stroke="#111" stroke-width="1.2"/>
<text x="0" y="4.9" font-size="14" text-anchor="middle" fill="#111" transform="translate(354.33,1076.00) rotate(-45)">22</text>
<rect x="382.60" y="948.20" width="321.00" height="20.5" fill="#fff" stroke="#111" stroke-width="1.35"/>
<text x="493.3" y="963.0" font-size="14.5" text-anchor="start" textLength="103.8" lengthAdjust="spacingAndGlyphs" fill="#111">yellow (n=638)</text>
<rect x="397.31" y="1041.87" width="6.5" height="3.53" fill="#e9f000"/>
<rect x="404.62" y="1029.16" width="6.5" height="16.24" fill="#f3f6a6"/>
<rect x="411.93" y="1045.40" width="6.5" height="1.41" fill="#e9f000"/>
<rect x="419.24" y="1045.40" width="6.5" height="2.83" fill="#f3f6a6"/>
<rect x="426.55" y="1045.40" width="6.5" height="2.83" fill="#e9f000"/>
<rect x="433.86" y="1045.40" width="6.5" height="3.53" fill="#f3f6a6"/>
<rect x="441.17" y="1045.40" width="6.5" height="3.53" fill="#e9f000"/>
<rect x="448.48" y="1045.40" width="6.5" height="2.12" fill="#f3f6a6"/>
<rect x="455.79" y="1045.40" width="6.5" height="2.83" fill="#e9f000"/>
<rect x="463.10" y="1045.40" width="6.5" height="0.71" fill="#f3f6a6"/>
<rect x="470.40" y="1045.40" width="6.5" height="3.53" fill="#e9f000"/>
<rect x="477.72" y="1045.40" width="6.5" height="4.24" fill="#f3f6a6"/>
<rect x="485.02" y="1045.40" width="6.5" height="4.94" fill="#e9f000"/>
<rect x="492.34" y="1045.40" width="6.5" height="4.94" fill="#f3f6a6"/>
<rect x="499.64" y="1045.40" width="6.5" height="4.94" fill="#e9f000"/>
<rect x="506.95" y="1045.40" width="6.5" height="4.24" fill="#f3f6a6"/>
<rect x="514.26" y="1045.40" width="6.5" height="4.94" fill="#e9f000"/>
<rect x="521.58" y="1045.40" width="6.5" height="4.24" fill="#f3f6a6"/>
<rect x="528.88" y="1045.40" width="6.5" height="4.94" fill="#e9f000"/>
<rect x="536.19" y="1045.40" width="6.5" height="2.83" fill="#f3f6a6"/>
<rect x="543.50" y="979.30" width="6.5" height="66.11" fill="#e9f000"/>
<rect x="550.82" y="1041.16" width="6.5" height="4.24" fill="#f3f6a6"/>
<rect x="558.12" y="1040.46" width="6.5" height="4.94" fill="#e9f000"/>
<rect x="565.43" y="1045.40" width="6.5" height="1.41" fill="#f3f6a6"/>
<rect x="572.75" y="1045.40" width="6.5" height="4.94" fill="#e9f000"/>
<rect x="580.06" y="1045.40" width="6.5" height="4.94" fill="#f3f6a6"/>
<rect x="587.37" y="1045.40" width="6.5" height="5.65" fill="#e9f000"/>
<rect x="594.67" y="1045.40" width="6.5" height="5.65" fill="#f3f6a6"/>
<rect x="601.99" y="1045.40" width="6.5" height="6.36" fill="#e9f000"/>
<rect x="609.29" y="1045.40" width="6.5" height="5.65" fill="#f3f6a6"/>
<rect x="616.61" y="1014.33" width="6.5" height="31.08" fill="#e9f000"/>
<rect x="623.91" y="1037.63" width="6.5" height="7.77" fill="#f3f6a6"/>
<rect x="631.23" y="1040.46" width="6.5" height="4.94" fill="#e9f000"/>
<rect x="638.53" y="1045.40" width="6.5" height="2.12" fill="#f3f6a6"/>
<rect x="645.85" y="1045.40" width="6.5" height="0.71" fill="#e9f000"/>
<rect x="653.15" y="1045.40" width="6.5" height="4.24" fill="#f3f6a6"/>
<rect x="660.46" y="1045.40" width="6.5" height="2.83" fill="#e9f000"/>
<rect x="667.77" y="1045.40" width="6.5" height="4.24" fill="#f3f6a6"/>
<rect x="675.09" y="1045.40" width="6.5" height="4.24" fill="#e9f000"/>
<rect x="682.39" y="1045.40" width="6.5" height="3.53" fill="#f3f6a6"/>
<path d="M397.50 1039.47H403.61M397.50 1044.27H403.61M400.56 1039.47V1044.27" stroke="#111" stroke-width="1.4"/>
<path d="M404.81 1028.45H410.92M404.81 1029.86H410.92M407.87 1028.45V1029.86" stroke="#111" stroke-width="1.4"/>
<path d="M412.12 1046.11H418.23M412.12 1047.52H418.23M415.18 1046.11V1047.52" stroke="#111" stroke-width="1.4"/>
<path d="M419.44 1047.52H425.54M419.44 1048.93H425.54M422.49 1047.52V1048.93" stroke="#111" stroke-width="1.4"/>
<path d="M426.75 1047.52H432.85M426.75 1048.93H432.85M429.80 1047.52V1048.93" stroke="#111" stroke-width="1.4"/>
<path d="M434.06 1048.23H440.16M434.06 1049.64H440.16M437.11 1048.23V1049.64" stroke="#111" stroke-width="1.4"/>
<path d="M441.37 1048.23H447.47M441.37 1049.64H447.47M444.42 1048.23V1049.64" stroke="#111" stroke-width="1.4"/>
<path d="M448.68 1046.81H454.78M448.68 1048.23H454.78M451.73 1046.81V1048.23" stroke="#111" stroke-width="1.4"/>
<path d="M455.99 1047.52H462.09M455.99 1048.93H462.09M459.04 1047.52V1048.93" stroke="#111" stroke-width="1.4"/>
<path d="M463.30 1045.40H469.40M463.30 1046.81H469.40M466.35 1045.40V1046.81" stroke="#111" stroke-width="1.4"/>
<path d="M470.60 1048.23H476.70M470.60 1049.64H476.70M473.65 1048.23V1049.64" stroke="#111" stroke-width="1.4"/>
<path d="M477.92 1048.93H484.02M477.92 1050.34H484.02M480.97 1048.93V1050.34" stroke="#111" stroke-width="1.4"/>
<path d="M485.22 1049.64H491.32M485.22 1051.05H491.32M488.27 1049.64V1051.05" stroke="#111" stroke-width="1.4"/>
<path d="M492.54 1049.64H498.64M492.54 1051.05H498.64M495.59 1049.64V1051.05" stroke="#111" stroke-width="1.4"/>
<path d="M499.84 1049.64H505.94M499.84 1051.05H505.94M502.89 1049.64V1051.05" stroke="#111" stroke-width="1.4"/>
<path d="M507.15 1048.93H513.25M507.15 1050.34H513.25M510.20 1048.93V1050.34" stroke="#111" stroke-width="1.4"/>
<path d="M514.47 1049.64H520.56M514.47 1051.05H520.56M517.51 1049.64V1051.05" stroke="#111" stroke-width="1.4"/>
<path d="M521.78 1048.93H527.88M521.78 1050.34H527.88M524.83 1048.93V1050.34" stroke="#111" stroke-width="1.4"/>
<path d="M529.09 1049.64H535.18M529.09 1051.05H535.18M532.13 1049.64V1051.05" stroke="#111" stroke-width="1.4"/>
<path d="M536.39 1047.52H542.49M536.39 1048.93H542.49M539.44 1047.52V1048.93" stroke="#111" stroke-width="1.4"/>
<path d="M543.71 973.36H549.80M543.71 985.23H549.80M546.75 973.36V985.23" stroke="#111" stroke-width="1.4"/>
<path d="M551.02 1039.75H557.12M551.02 1042.58H557.12M554.07 1039.75V1042.58" stroke="#111" stroke-width="1.4"/>
<path d="M558.33 1036.93H564.42M558.33 1043.99H564.42M561.38 1036.93V1043.99" stroke="#111" stroke-width="1.4"/>
<path d="M565.63 1046.11H571.73M565.63 1047.52H571.73M568.68 1046.11V1047.52" stroke="#111" stroke-width="1.4"/>
<path d="M572.95 1049.64H579.04M572.95 1051.05H579.04M576.00 1049.64V1051.05" stroke="#111" stroke-width="1.4"/>
<path d="M580.26 1049.64H586.36M580.26 1051.05H586.36M583.31 1049.64V1051.05" stroke="#111" stroke-width="1.4"/>
<path d="M587.57 1050.34H593.66M587.57 1051.76H593.66M590.62 1050.34V1051.76" stroke="#111" stroke-width="1.4"/>
<path d="M594.88 1050.34H600.97M594.88 1051.76H600.97M597.92 1050.34V1051.76" stroke="#111" stroke-width="1.4"/>
<path d="M602.19 1051.05H608.28M602.19 1052.46H608.28M605.24 1051.05V1052.46" stroke="#111" stroke-width="1.4"/>
<path d="M609.50 1050.34H615.59M609.50 1051.76H615.59M612.54 1050.34V1051.76" stroke="#111" stroke-width="1.4"/>
<path d="M616.81 1010.79H622.90M616.81 1017.86H622.90M619.86 1010.79V1017.86" stroke="#111" stroke-width="1.4"/>
<path d="M624.12 1036.93H630.21M624.12 1038.34H630.21M627.16 1036.93V1038.34" stroke="#111" stroke-width="1.4"/>
<path d="M631.43 1039.75H637.52M631.43 1041.16H637.52M634.48 1039.75V1041.16" stroke="#111" stroke-width="1.4"/>
<path d="M638.74 1046.81H644.83M638.74 1048.23H644.83M641.78 1046.81V1048.23" stroke="#111" stroke-width="1.4"/>
<path d="M646.05 1045.40H652.14M646.05 1046.81H652.14M649.10 1045.40V1046.81" stroke="#111" stroke-width="1.4"/>
<path d="M653.36 1048.93H659.45M653.36 1050.34H659.45M656.40 1048.93V1050.34" stroke="#111" stroke-width="1.4"/>
<path d="M660.66 1047.52H666.76M660.66 1048.93H666.76M663.71 1047.52V1048.93" stroke="#111" stroke-width="1.4"/>
<path d="M667.98 1048.93H674.07M667.98 1050.34H674.07M671.02 1048.93V1050.34" stroke="#111" stroke-width="1.4"/>
<path d="M675.29 1048.93H681.38M675.29 1050.34H681.38M678.34 1048.93V1050.34" stroke="#111" stroke-width="1.4"/>
<path d="M682.60 1048.23H688.69M682.60 1049.64H688.69M685.64 1048.23V1049.64" stroke="#111" stroke-width="1.4"/>
<line x1="470.00" y1="968.70" x2="470.00" y2="1067.70" stroke="#111" stroke-width="1.3"/>
<line x1="543.10" y1="968.70" x2="543.10" y2="1067.70" stroke="#111" stroke-width="1.3"/>
<line x1="616.20" y1="968.70" x2="616.20" y2="1067.70" stroke="#111" stroke-width="1.3"/>
<text x="400.3" y="984.3" font-size="14" text-anchor="start" textLength="47.4" lengthAdjust="spacingAndGlyphs" fill="#111">Beech</text>
<text x="480.2" y="984.3" font-size="14" text-anchor="start" textLength="45.1" lengthAdjust="spacingAndGlyphs" fill="#111">Grass</text>
<text x="561.9" y="984.3" font-size="14" text-anchor="start" textLength="31.6" lengthAdjust="spacingAndGlyphs" fill="#111">Oak</text>
<text x="637.9" y="984.3" font-size="14" text-anchor="start" textLength="34.1" lengthAdjust="spacingAndGlyphs" fill="#111">Pine</text>
<line x1="382.60" y1="1067.70" x2="703.60" y2="1067.70" stroke="#111" stroke-width="1.35"/>
<line x1="400.56" y1="1067.70" x2="400.56" y2="1071.20" stroke="#111" stroke-width="1.2"/>
<text x="0" y="4.9" font-size="14" text-anchor="middle" fill="#111" transform="translate(405.56,1076.00) rotate(-45)">2</text>
<line x1="415.18" y1="1067.70" x2="415.18" y2="1071.20" stroke="#111" stroke-width="1.2"/>
<text x="0" y="4.9" font-size="14" text-anchor="middle" fill="#111" transform="translate(420.18,1076.00) rotate(-45)">4</text>
<line x1="429.80" y1="1067.70" x2="429.80" y2="1071.20" stroke="#111" stroke-width="1.2"/>
<text x="0" y="4.9" font-size="14" text-anchor="middle" fill="#111" transform="translate(434.80,1076.00) rotate(-45)">8</text>
<line x1="444.42" y1="1067.70" x2="444.42" y2="1071.20" stroke="#111" stroke-width="1.2"/>
<text x="0" y="4.9" font-size="14" text-anchor="middle" fill="#111" transform="translate(449.42,1076.00) rotate(-45)">15</text>
<line x1="459.04" y1="1067.70" x2="459.04" y2="1071.20" stroke="#111" stroke-width="1.2"/>
<text x="0" y="4.9" font-size="14" text-anchor="middle" fill="#111" transform="translate(464.04,1076.00) rotate(-45)">22</text>
<line x1="473.65" y1="1067.70" x2="473.65" y2="1071.20" stroke="#111" stroke-width="1.2"/>
<text x="0" y="4.9" font-size="14" text-anchor="middle" fill="#111" transform="translate(478.65,1076.00) rotate(-45)">2</text>
<line x1="488.27" y1="1067.70" x2="488.27" y2="1071.20" stroke="#111" stroke-width="1.2"/>
<text x="0" y="4.9" font-size="14" text-anchor="middle" fill="#111" transform="translate(493.27,1076.00) rotate(-45)">4</text>
<line x1="502.89" y1="1067.70" x2="502.89" y2="1071.20" stroke="#111" stroke-width="1.2"/>
<text x="0" y="4.9" font-size="14" text-anchor="middle" fill="#111" transform="translate(507.89,1076.00) rotate(-45)">8</text>
<line x1="517.51" y1="1067.70" x2="517.51" y2="1071.20" stroke="#111" stroke-width="1.2"/>
<text x="0" y="4.9" font-size="14" text-anchor="middle" fill="#111" transform="translate(522.51,1076.00) rotate(-45)">15</text>
<line x1="532.13" y1="1067.70" x2="532.13" y2="1071.20" stroke="#111" stroke-width="1.2"/>
<text x="0" y="4.9" font-size="14" text-anchor="middle" fill="#111" transform="translate(537.13,1076.00) rotate(-45)">22</text>
<line x1="546.75" y1="1067.70" x2="546.75" y2="1071.20" stroke="#111" stroke-width="1.2"/>
<text x="0" y="4.9" font-size="14" text-anchor="middle" fill="#111" transform="translate(551.75,1076.00) rotate(-45)">2</text>
<line x1="561.38" y1="1067.70" x2="561.38" y2="1071.20" stroke="#111" stroke-width="1.2"/>
<text x="0" y="4.9" font-size="14" text-anchor="middle" fill="#111" transform="translate(566.38,1076.00) rotate(-45)">4</text>
<line x1="576.00" y1="1067.70" x2="576.00" y2="1071.20" stroke="#111" stroke-width="1.2"/>
<text x="0" y="4.9" font-size="14" text-anchor="middle" fill="#111" transform="translate(581.00,1076.00) rotate(-45)">8</text>
<line x1="590.62" y1="1067.70" x2="590.62" y2="1071.20" stroke="#111" stroke-width="1.2"/>
<text x="0" y="4.9" font-size="14" text-anchor="middle" fill="#111" transform="translate(595.62,1076.00) rotate(-45)">15</text>
<line x1="605.24" y1="1067.70" x2="605.24" y2="1071.20" stroke="#111" stroke-width="1.2"/>
<text x="0" y="4.9" font-size="14" text-anchor="middle" fill="#111" transform="translate(610.24,1076.00) rotate(-45)">22</text>
<line x1="619.86" y1="1067.70" x2="619.86" y2="1071.20" stroke="#111" stroke-width="1.2"/>
<text x="0" y="4.9" font-size="14" text-anchor="middle" fill="#111" transform="translate(624.86,1076.00) rotate(-45)">2</text>
<line x1="634.48" y1="1067.70" x2="634.48" y2="1071.20" stroke="#111" stroke-width="1.2"/>
<text x="0" y="4.9" font-size="14" text-anchor="middle" fill="#111" transform="translate(639.48,1076.00) rotate(-45)">4</text>
<line x1="649.10" y1="1067.70" x2="649.10" y2="1071.20" stroke="#111" stroke-width="1.2"/>
<text x="0" y="4.9" font-size="14" text-anchor="middle" fill="#111" transform="translate(654.10,1076.00) rotate(-45)">8</text>
<line x1="663.71" y1="1067.70" x2="663.71" y2="1071.20" stroke="#111" stroke-width="1.2"/>
<text x="0" y="4.9" font-size="14" text-anchor="middle" fill="#111" transform="translate(668.71,1076.00) rotate(-45)">15</text>
<line x1="678.34" y1="1067.70" x2="678.34" y2="1071.20" stroke="#111" stroke-width="1.2"/>
<text x="0" y="4.9" font-size="14" text-anchor="middle" fill="#111" transform="translate(683.34,1076.00) rotate(-45)">22</text>
<text x="379.6" y="1102.4" font-size="13.5" text-anchor="middle" textLength="33.0" lengthAdjust="spacingAndGlyphs" fill="#111">days</text>
<text x="0" y="0" font-size="15.5" text-anchor="middle" textLength="76" lengthAdjust="spacingAndGlyphs" fill="#111" transform="translate(13.2,763.6) rotate(-90)">eigenvalue</text>
</svg>
</body></html>
